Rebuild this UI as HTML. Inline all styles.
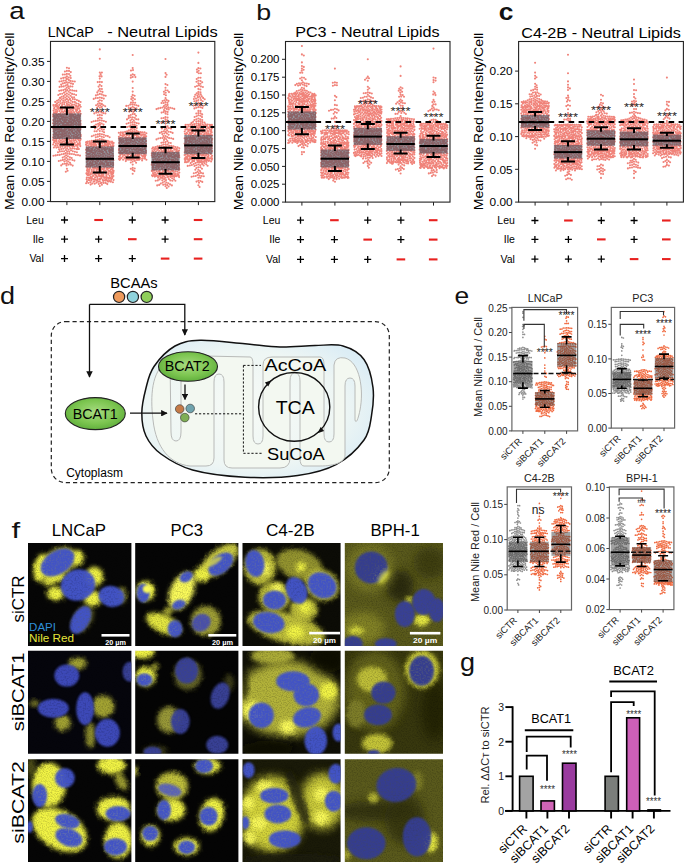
<!DOCTYPE html>
<html><head><meta charset="utf-8"><style>html,body{margin:0;padding:0;background:#fff;}svg{display:block;}</style></head>
<body><svg width="685" height="864" viewBox="0 0 685 864" font-family='"Liberation Sans", sans-serif'>
<rect width="685" height="864" fill="#fff"/>
<path d="M53.9 142.5h0M62.5 136.1h0M67.6 111.9h0M71.0 121.3h0M72.1 142.2h0M80.6 127.7h0M53.8 125.7h0M73.5 139.4h0M73.1 114.8h0M63.4 141.3h0M66.2 129.5h0M68.7 124.1h0M69.0 127.8h0M57.4 121.1h0M59.9 114.6h0M56.9 105.3h0M70.5 134.0h0M54.6 118.4h0M75.2 116.4h0M74.2 133.7h0M80.3 146.1h0M74.4 104.5h0M62.3 133.4h0M73.8 132.8h0M58.1 108.0h0M65.7 121.2h0M73.0 126.0h0M70.7 113.1h0M59.8 144.9h0M60.5 115.9h0M77.3 130.2h0M68.1 142.3h0M62.0 117.9h0M78.2 106.3h0M70.3 137.3h0M70.5 119.2h0M65.9 133.4h0M71.0 114.5h0M60.6 115.3h0M55.3 136.8h0M68.9 110.7h0M71.6 118.1h0M62.6 117.0h0M64.6 111.1h0M73.5 127.9h0M55.8 113.7h0M69.3 108.6h0M56.6 141.8h0M67.0 109.8h0M57.3 129.3h0M69.8 125.7h0M65.5 139.9h0M69.3 116.3h0M64.5 133.7h0M58.1 108.9h0M59.2 134.4h0M61.3 122.2h0M58.8 129.1h0M53.2 120.0h0M75.3 137.8h0M55.1 138.5h0M62.7 114.2h0M58.7 114.0h0M69.1 121.9h0M76.9 106.8h0M53.1 137.4h0M75.7 109.8h0M80.7 139.0h0M55.5 104.9h0M64.9 119.5h0M53.3 120.2h0M68.9 104.7h0M56.9 112.5h0M74.1 112.4h0M67.9 143.9h0M63.7 130.4h0M61.6 142.6h0M57.4 137.9h0M60.3 137.0h0M56.1 109.5h0M55.5 140.8h0M65.5 133.5h0M70.8 125.1h0M76.1 109.8h0M62.2 104.9h0M80.0 115.9h0M75.6 137.1h0M67.2 122.9h0M79.1 116.0h0M80.0 144.0h0M71.3 117.1h0M72.3 130.4h0M75.1 121.0h0M67.5 117.5h0M55.1 117.6h0M54.7 123.8h0M55.1 122.5h0M66.6 137.7h0M64.8 125.0h0M66.6 140.8h0M68.8 125.6h0M71.3 123.2h0M60.6 113.1h0M66.2 129.4h0M57.3 145.4h0M80.5 123.6h0M61.9 137.4h0M53.2 114.5h0M64.8 129.6h0M70.3 129.9h0M71.0 107.3h0M77.5 129.4h0M58.1 131.3h0M53.6 131.3h0M65.3 125.6h0M54.4 142.2h0M61.4 122.8h0M80.7 106.8h0M78.6 122.1h0M59.0 114.4h0M69.6 105.7h0M77.1 110.2h0M70.9 114.4h0M79.8 111.4h0M57.5 111.1h0M66.9 135.3h0M63.6 125.6h0M75.5 131.5h0M62.5 135.0h0M64.1 121.7h0M56.5 132.6h0M66.9 119.7h0M60.1 121.3h0M76.6 141.7h0M71.2 127.3h0M61.2 129.5h0M70.9 116.0h0M61.6 142.4h0M59.3 139.0h0M78.1 124.3h0M57.7 128.9h0M62.4 117.7h0M54.3 132.0h0M68.8 137.8h0M65.4 106.3h0M64.9 135.8h0M66.7 139.9h0M58.2 134.2h0M63.6 131.7h0M64.0 136.6h0M67.8 123.2h0M76.0 106.1h0M69.8 140.8h0M80.3 128.4h0M64.0 117.6h0M60.7 108.3h0M57.0 103.4h0M56.6 140.1h0M63.6 123.2h0M78.6 108.5h0M74.6 143.9h0M77.5 121.0h0M64.7 138.8h0M67.1 113.3h0M57.2 106.1h0M53.1 123.2h0M71.7 145.8h0M77.8 143.5h0M71.8 128.4h0M70.9 109.9h0M77.6 136.1h0M79.3 117.6h0M61.4 128.9h0M80.7 134.9h0M73.1 116.1h0M80.1 133.0h0M68.7 130.3h0M55.2 113.4h0M62.7 125.0h0M69.8 112.6h0M73.9 124.1h0M62.7 139.4h0M74.8 127.2h0M79.2 108.8h0M71.1 122.0h0M59.3 104.9h0M72.8 146.2h0M64.8 131.6h0M69.8 113.3h0M73.6 116.8h0M70.7 122.2h0M76.7 117.8h0M73.5 108.7h0M58.6 116.9h0M76.1 122.8h0M69.3 122.1h0M65.9 117.7h0M59.2 132.3h0M63.8 117.5h0M62.8 119.9h0M54.0 112.6h0M68.9 125.6h0M76.4 145.0h0M57.5 123.2h0M61.6 109.5h0M79.5 118.8h0M57.6 118.7h0M59.9 129.5h0M60.2 130.9h0M70.0 115.4h0M74.7 142.9h0M67.1 109.1h0M67.3 108.7h0M80.0 105.0h0M71.7 140.4h0M70.0 141.3h0M74.7 107.9h0M55.6 129.0h0M63.1 134.6h0M66.1 129.8h0M74.3 118.0h0M66.5 139.3h0M58.1 125.3h0M77.3 117.9h0M66.5 115.4h0M72.8 145.7h0M56.3 111.5h0M54.7 127.6h0M64.5 127.5h0M65.2 122.1h0M60.4 134.2h0M79.0 108.2h0M73.6 137.1h0M66.8 123.0h0M56.0 139.0h0M77.3 119.8h0M54.5 107.6h0M54.1 108.4h0M80.2 140.4h0M78.9 119.5h0M58.8 108.0h0M77.1 137.6h0M53.2 128.4h0M77.1 115.7h0M78.4 114.6h0M56.6 126.9h0M59.7 118.9h0M63.1 117.6h0M78.8 131.1h0M75.1 118.3h0M70.3 121.5h0M53.2 116.4h0M78.9 124.3h0M71.7 131.8h0M59.4 127.6h0M58.2 106.7h0M59.6 138.2h0M75.7 139.9h0M76.0 145.7h0M55.6 109.7h0M66.9 103.9h0M58.3 136.1h0M53.5 134.8h0M76.7 137.7h0M64.6 120.5h0M54.2 125.4h0M59.6 111.1h0M77.4 137.2h0M72.6 108.6h0M76.7 126.3h0M76.2 111.6h0M66.3 111.9h0M67.7 107.2h0M67.0 124.9h0M72.8 120.1h0M73.2 122.2h0M77.0 138.1h0M67.3 124.7h0M73.2 106.5h0M60.5 107.3h0M70.4 145.3h0M55.8 117.8h0M69.5 132.2h0M60.9 140.4h0M79.5 140.2h0M55.2 112.2h0M71.6 105.1h0M59.6 123.9h0M61.6 129.8h0M67.2 124.4h0M72.9 110.7h0M75.1 114.2h0M64.5 143.5h0M57.5 137.1h0M60.2 109.1h0M66.2 125.1h0M61.7 118.0h0M71.9 112.9h0M60.8 119.0h0M60.5 114.8h0M57.7 122.8h0M55.0 136.4h0M73.3 138.2h0M78.4 103.7h0M55.1 145.8h0M62.1 116.6h0M65.5 108.5h0M80.7 136.3h0M79.7 144.1h0M53.7 129.1h0M76.5 132.1h0M78.8 126.4h0M64.6 127.9h0M62.0 105.9h0M58.9 141.1h0M75.7 105.8h0M71.2 144.2h0M55.9 106.0h0M79.3 131.9h0M56.8 115.1h0M67.3 146.1h0M67.0 127.1h0M71.0 117.2h0M77.2 119.3h0M79.1 111.7h0M78.1 139.6h0M56.4 129.0h0M72.5 119.9h0M63.8 145.0h0M64.7 110.4h0M78.0 128.4h0M69.0 135.7h0M80.3 136.7h0M75.1 118.3h0M70.3 144.2h0M71.8 135.7h0M77.3 133.2h0M61.4 135.1h0M73.0 114.9h0M80.5 120.8h0M62.2 107.5h0M63.5 116.2h0M68.4 133.6h0M76.6 132.3h0M74.0 140.9h0M73.9 135.8h0M77.0 120.3h0M71.4 114.9h0M74.0 133.5h0M61.4 131.5h0M79.8 111.8h0M79.3 105.2h0M60.0 142.6h0M72.0 143.1h0M80.7 113.7h0M80.5 125.0h0M75.9 128.0h0M74.6 119.1h0M65.0 113.7h0M72.7 143.2h0M53.4 105.0h0M67.2 105.2h0M68.8 128.4h0M60.9 126.1h0M56.0 134.5h0M56.0 121.1h0M68.7 137.4h0M62.5 123.3h0M63.7 107.5h0M71.0 124.5h0M80.0 110.8h0M54.8 138.5h0M77.4 108.4h0M54.3 140.9h0M76.1 137.1h0M57.2 115.4h0M56.1 133.3h0M71.3 141.1h0M79.7 142.5h0M63.3 112.2h0M76.9 145.4h0M55.9 143.8h0M53.6 105.7h0M67.8 112.7h0M63.1 130.3h0M78.9 138.0h0M67.2 109.1h0M56.0 112.5h0M74.3 117.6h0M76.2 123.5h0M55.9 123.7h0M64.3 104.3h0M72.7 123.8h0M65.4 142.6h0M70.2 143.0h0M68.8 120.7h0M57.0 114.8h0M55.3 119.3h0M64.6 114.4h0M54.7 133.6h0M55.7 130.3h0M76.0 134.8h0M79.9 130.3h0M78.7 134.8h0M53.6 110.5h0M53.2 139.9h0M67.7 137.3h0M61.3 115.6h0M80.4 129.2h0M63.3 131.6h0M72.3 104.5h0M65.2 107.9h0M62.4 136.8h0M69.0 139.6h0M71.1 125.1h0M74.2 121.6h0M72.2 131.4h0M73.6 120.9h0M65.5 117.2h0M80.2 111.3h0M65.8 135.8h0M69.3 118.6h0M74.0 143.7h0M58.1 143.4h0M71.4 143.8h0M63.9 141.2h0M77.4 112.7h0M78.2 130.3h0M54.8 125.1h0M62.2 126.9h0M59.1 137.3h0M66.3 144.2h0M71.0 138.4h0M62.3 109.5h0M67.1 131.7h0M68.1 128.2h0M56.9 134.9h0M69.7 114.5h0M78.9 116.1h0M74.4 129.8h0M75.7 124.5h0M66.3 129.3h0M79.7 121.7h0M57.8 120.8h0M58.4 121.5h0M57.3 107.6h0M76.2 105.5h0M66.4 144.0h0M64.5 129.9h0M61.8 144.5h0M55.4 130.2h0M71.1 111.8h0M56.4 117.1h0M61.0 121.9h0M62.4 142.5h0M61.9 111.5h0M59.7 120.0h0M73.1 133.2h0M66.8 112.6h0M53.2 144.5h0M70.5 138.2h0M78.7 112.4h0M63.8 144.2h0M78.9 140.5h0M65.2 124.7h0M54.8 115.8h0M53.9 121.0h0M78.6 144.6h0M62.7 134.4h0M70.7 116.0h0M76.1 95.0h0M70.0 98.9h0M76.3 103.3h0M72.0 97.2h0M64.9 74.5h0M64.7 102.3h0M65.2 89.3h0M70.4 75.7h0M61.1 84.6h0M61.6 96.8h0M68.2 86.3h0M63.2 100.7h0M76.3 90.9h0M68.7 97.2h0M68.7 77.5h0M63.2 77.9h0M66.9 82.3h0M74.1 94.3h0M70.6 80.9h0M69.0 70.9h0M68.8 94.5h0M63.3 90.1h0M58.7 99.7h0M78.8 100.9h0M73.0 83.9h0M80.6 102.0h0M66.7 87.8h0M57.0 100.8h0M65.7 85.6h0M69.0 82.6h0M66.9 73.9h0M72.1 93.9h0M60.1 94.0h0M62.2 93.7h0M67.4 84.4h0M72.7 81.3h0M70.9 100.8h0M70.6 95.7h0M58.6 102.2h0M59.9 97.9h0M62.9 83.4h0M69.0 74.1h0M66.9 70.9h0M72.7 101.9h0M66.9 93.6h0M65.2 77.6h0M59.2 90.7h0M58.3 95.0h0M74.8 81.5h0M70.8 78.0h0M76.9 100.1h0M72.2 90.4h0M65.2 100.0h0M74.9 99.2h0M67.2 90.0h0M65.3 97.5h0M65.7 80.6h0M65.1 94.6h0M61.5 99.2h0M59.6 86.9h0M74.1 97.2h0M74.8 101.9h0M69.0 68.2h0M72.8 99.1h0M68.4 100.4h0M65.7 91.4h0M60.6 103.3h0M61.6 81.2h0M66.7 101.7h0M68.7 102.5h0M70.8 72.1h0M61.2 90.4h0M62.8 74.6h0M66.9 76.4h0M71.0 83.4h0M62.6 102.7h0M72.4 86.5h0M55.2 101.9h0M70.6 103.2h0M66.9 78.9h0M63.6 96.1h0M64.9 82.9h0M70.1 90.0h0M59.5 81.5h0M61.7 86.6h0M64.9 71.5h0M68.6 91.6h0M61.1 78.5h0M68.8 79.9h0M68.9 88.3h0M74.2 90.7h0M70.3 92.8h0M70.3 86.4h0M66.9 98.9h0M64.0 92.6h0M63.7 86.4h0M66.9 96.1h0M63.4 98.4h0M60.4 101.0h0M63.6 80.6h0M66.5 165.4h0M62.8 164.1h0M60.8 160.5h0M71.7 158.0h0M58.3 147.2h0M72.7 165.6h0M78.0 155.1h0M72.4 160.0h0M67.1 148.3h0M68.3 161.5h0M63.3 148.8h0M66.9 168.7h0M74.4 160.6h0M67.9 156.3h0M67.8 159.2h0M71.0 150.3h0M53.5 155.7h0M65.1 147.7h0M64.1 151.2h0M72.8 151.3h0M77.9 149.1h0M69.8 153.9h0M77.7 147.3h0M62.5 146.6h0M76.9 152.3h0M67.6 170.7h0M58.8 161.0h0M61.7 154.2h0M68.6 149.7h0M70.3 148.3h0M63.8 153.9h0M64.8 159.2h0M64.9 163.8h0M59.7 154.9h0M70.9 164.6h0M66.9 163.4h0M68.7 164.6h0M58.0 152.2h0M75.9 155.0h0M61.2 149.0h0M62.7 157.5h0M60.4 146.9h0M57.6 155.0h0M76.5 149.1h0M66.1 155.2h0M59.1 149.4h0M74.0 146.2h0M71.9 154.0h0M74.0 154.2h0M64.5 156.6h0M72.4 148.4h0M80.0 155.6h0M67.2 151.6h0M56.3 147.6h0M67.7 153.8h0M69.9 159.5h0M74.9 151.7h0M66.4 160.7h0M70.0 162.7h0M69.3 146.4h0M65.9 150.0h0M62.0 151.3h0M66.3 157.7h0M55.6 155.4h0M69.8 157.2h0M53.9 147.5h0M59.9 151.4h0M78.9 149.0h0M64.4 161.5h0M62.8 159.9h0M69.3 151.7h0M61.2 165.4h0M74.5 148.6h0M65.3 146.5h0M65.7 153.1h0M66.9 67.8h0M65.8 171.8h0" stroke="#f0837a" stroke-width="2.10" stroke-linecap="round" fill="none"/>
<rect x="52.8" y="113.4" width="28.3" height="25.6" fill="rgba(62,74,88,0.56)"/>
<path d="M66.9 107.4V114.9M66.9 144.6V137.5M59.9 107.4h14M59.9 144.6h14" stroke="#000" stroke-width="2.0" fill="none"/>
<path d="M52.8 127.0h28.3" stroke="#000" stroke-width="2.0" fill="none"/>
<path d="M89.1 175.0h0M111.8 176.3h0M101.6 168.9h0M111.8 172.0h0M96.1 142.5h0M113.0 160.2h0M113.4 146.0h0M109.0 159.3h0M106.2 172.7h0M108.1 146.4h0M101.7 146.1h0M97.0 176.4h0M88.8 150.7h0M112.4 158.7h0M108.3 174.2h0M97.5 167.9h0M91.0 152.0h0M101.6 173.9h0M109.5 157.1h0M103.4 160.1h0M97.1 160.2h0M111.2 174.1h0M103.3 148.4h0M91.2 159.8h0M89.9 153.8h0M107.6 156.3h0M101.7 168.6h0M106.3 151.9h0M113.0 165.5h0M107.0 144.5h0M89.6 163.1h0M106.1 173.6h0M112.7 162.8h0M108.7 165.6h0M108.4 143.3h0M111.7 169.1h0M102.8 145.8h0M91.4 180.4h0M113.4 176.0h0M110.7 169.6h0M103.0 151.8h0M88.2 157.3h0M94.1 164.7h0M107.0 164.9h0M95.7 147.7h0M110.8 172.7h0M105.8 149.9h0M86.3 166.5h0M104.5 153.7h0M91.3 148.7h0M111.0 164.2h0M113.1 173.6h0M101.1 171.8h0M87.3 171.5h0M86.8 177.6h0M102.6 164.3h0M111.1 155.6h0M96.7 165.9h0M98.6 143.1h0M108.7 143.8h0M111.9 150.3h0M94.9 149.7h0M87.4 168.9h0M112.7 151.1h0M86.6 179.3h0M109.2 180.6h0M106.4 178.7h0M107.9 168.7h0M95.3 152.3h0M105.1 180.1h0M90.5 166.1h0M105.0 157.6h0M93.1 147.5h0M104.3 158.9h0M88.0 171.6h0M109.0 177.9h0M92.9 161.1h0M112.7 149.1h0M111.9 148.1h0M99.0 156.6h0M88.3 174.2h0M111.6 178.4h0M95.5 179.5h0M105.6 170.6h0M102.9 160.0h0M106.4 175.4h0M103.1 156.6h0M102.8 168.8h0M109.3 149.8h0M113.4 160.2h0M89.5 150.7h0M101.2 171.1h0M86.5 158.6h0M99.7 145.9h0M103.5 180.7h0M104.9 144.1h0M94.4 157.7h0M109.9 141.5h0M89.3 170.0h0M105.3 161.8h0M87.8 154.0h0M86.7 157.6h0M88.5 156.6h0M98.6 146.8h0M103.5 174.9h0M102.7 152.7h0M104.0 163.6h0M94.1 144.9h0M93.7 143.5h0M91.4 163.6h0M100.8 167.1h0M113.0 145.4h0M109.2 143.7h0M90.0 150.5h0M88.5 145.2h0M112.4 143.5h0M86.8 162.0h0M94.9 167.0h0M94.0 179.1h0M96.0 163.9h0M111.8 172.7h0M95.4 152.4h0M90.2 156.9h0M105.3 143.9h0M112.7 153.8h0M91.6 171.4h0M88.4 166.4h0M106.0 161.4h0M87.2 159.9h0M100.3 143.8h0M103.1 156.1h0M96.9 168.4h0M93.8 170.4h0M97.9 158.4h0M89.2 178.0h0M99.8 163.1h0M100.8 145.6h0M96.0 144.7h0M103.4 159.0h0M105.2 159.6h0M104.3 168.1h0M94.3 157.9h0M113.2 163.1h0M96.7 155.4h0M93.6 143.3h0M87.0 151.2h0M109.6 175.9h0M98.5 174.5h0M107.3 153.8h0M107.0 142.4h0M88.4 157.5h0M96.3 147.9h0M86.9 170.3h0M89.0 171.7h0M86.4 142.1h0M101.0 146.3h0M101.8 163.4h0M109.4 148.8h0M95.8 155.7h0M104.9 150.2h0M112.3 157.9h0M94.7 154.1h0M93.5 143.7h0M107.9 164.2h0M91.0 151.9h0M91.0 143.0h0M102.8 179.8h0M100.9 171.3h0M111.0 167.1h0M107.7 158.4h0M101.3 163.2h0M89.9 143.7h0M87.0 173.8h0M87.6 169.2h0M112.2 178.3h0M112.2 174.3h0M101.3 157.6h0M111.2 179.3h0M99.5 143.7h0M91.5 151.0h0M108.9 178.0h0M86.0 149.8h0M102.7 176.5h0M97.0 160.7h0M112.1 172.8h0M90.4 174.5h0M91.2 160.1h0M112.2 146.0h0M97.4 178.0h0M92.4 173.1h0M90.3 162.0h0M98.4 143.2h0M99.3 166.9h0M107.5 146.6h0M98.7 159.7h0M107.2 163.3h0M109.1 150.9h0M112.6 173.6h0M88.7 160.3h0M88.6 180.0h0M110.9 160.4h0M112.0 141.6h0M108.7 178.6h0M105.0 177.4h0M89.9 158.5h0M90.8 144.1h0M99.9 159.1h0M99.2 142.9h0M94.1 168.7h0M97.3 141.7h0M97.4 172.9h0M87.8 150.5h0M93.2 168.0h0M101.2 148.0h0M113.5 180.0h0M98.1 168.9h0M94.3 144.4h0M94.2 150.5h0M92.8 162.0h0M103.3 166.3h0M94.9 143.6h0M92.6 173.6h0M108.5 173.8h0M99.5 178.9h0M92.2 154.6h0M110.4 144.8h0M103.3 176.2h0M99.9 150.9h0M96.7 150.7h0M99.6 173.2h0M107.0 160.6h0M92.1 158.5h0M93.3 179.2h0M102.4 143.6h0M101.6 176.1h0M102.0 175.4h0M99.8 153.3h0M87.5 161.4h0M101.9 150.0h0M86.4 155.6h0M106.2 177.6h0M95.8 163.3h0M95.3 142.2h0M112.3 169.1h0M94.9 174.1h0M104.5 145.9h0M104.2 178.0h0M100.4 165.1h0M87.6 141.6h0M101.8 147.0h0M92.8 176.1h0M110.1 177.9h0M106.5 162.1h0M102.8 154.0h0M92.1 149.0h0M86.4 173.4h0M104.5 164.4h0M107.1 163.3h0M103.1 169.2h0M88.8 154.2h0M112.9 159.8h0M92.7 164.8h0M89.5 150.6h0M91.7 169.5h0M94.4 157.3h0M92.1 150.1h0M113.0 167.8h0M97.7 180.1h0M94.5 181.3h0M110.1 149.8h0M99.3 148.9h0M93.3 152.9h0M105.4 180.4h0M108.8 171.1h0M98.4 143.4h0M88.5 159.1h0M107.9 164.2h0M93.1 142.5h0M111.5 142.7h0M88.6 171.4h0M109.8 152.5h0M107.3 148.7h0M89.0 147.3h0M95.6 144.9h0M98.6 151.3h0M91.0 178.7h0M107.2 169.2h0M108.6 173.4h0M113.1 155.9h0M96.1 159.6h0M91.4 142.5h0M94.3 171.9h0M100.4 176.4h0M89.3 180.2h0M90.4 173.4h0M108.1 145.6h0M92.5 156.8h0M88.7 171.5h0M106.9 158.3h0M105.6 155.5h0M90.0 168.1h0M96.8 180.6h0M97.7 153.3h0M97.7 158.2h0M91.9 178.1h0M98.1 161.3h0M93.5 175.6h0M113.2 164.9h0M101.5 152.0h0M101.0 157.2h0M106.6 168.2h0M88.6 150.8h0M109.8 171.3h0M98.8 155.3h0M103.8 169.7h0M93.7 156.1h0M90.5 158.4h0M88.0 157.3h0M101.4 147.6h0M88.5 148.9h0M104.2 142.2h0M106.8 172.4h0M109.5 142.0h0M109.2 154.6h0M99.8 175.5h0M99.8 181.3h0M103.8 171.8h0M92.4 163.3h0M90.5 155.9h0M91.6 145.9h0M86.9 147.9h0M86.0 144.6h0M110.6 146.5h0M110.3 146.6h0M101.0 142.1h0M89.6 151.4h0M96.0 175.3h0M94.3 158.4h0M92.0 163.5h0M88.5 154.1h0M112.5 169.9h0M94.5 144.4h0M96.6 170.1h0M113.0 163.1h0M90.8 174.5h0M99.9 144.6h0M103.3 145.5h0M109.3 143.4h0M103.4 172.7h0M109.1 168.0h0M105.6 144.9h0M93.9 146.2h0M90.8 176.8h0M108.5 162.8h0M106.3 179.2h0M87.0 148.2h0M105.4 147.8h0M94.9 143.8h0M104.1 148.9h0M87.2 164.5h0M105.4 166.3h0M100.9 155.1h0M89.6 164.5h0M89.8 143.0h0M110.6 162.8h0M96.9 163.1h0M86.1 142.4h0M96.5 171.0h0M87.4 168.3h0M89.8 178.3h0M98.6 144.3h0M109.6 160.5h0M102.2 163.6h0M96.3 145.7h0M106.2 144.9h0M96.7 173.1h0M113.1 176.4h0M90.7 146.2h0M112.1 143.1h0M108.9 159.7h0M92.0 152.3h0M102.8 180.6h0M95.1 161.8h0M101.4 178.2h0M99.0 176.1h0M100.1 179.2h0M93.5 160.0h0M109.2 158.4h0M104.4 164.2h0M86.2 152.8h0M91.0 178.1h0M113.4 172.1h0M87.6 174.3h0M100.7 161.1h0M111.9 149.8h0M86.9 174.3h0M113.4 145.4h0M92.9 167.4h0M88.2 173.5h0M98.6 171.2h0M110.0 150.7h0M111.0 181.1h0M107.4 164.3h0M103.4 169.8h0M93.4 160.1h0M109.5 165.6h0M88.8 177.7h0M87.6 175.3h0M113.6 142.9h0M103.0 158.9h0M92.0 144.6h0M87.6 143.2h0M110.3 157.3h0M92.3 144.8h0M98.4 164.6h0M99.8 169.5h0M97.8 148.9h0M95.8 168.3h0M108.5 170.8h0M102.4 162.3h0M92.0 165.2h0M87.7 143.1h0M96.0 145.4h0M111.1 152.5h0M86.6 145.6h0M91.9 171.3h0M113.6 170.9h0M107.1 167.6h0M97.1 157.5h0M107.0 180.4h0M107.1 177.4h0M108.9 171.3h0M88.9 177.5h0M88.1 171.3h0M95.1 177.3h0M89.1 169.5h0M87.7 164.0h0M87.7 159.6h0M86.5 149.2h0M101.8 129.1h0M96.1 124.5h0M101.9 89.0h0M93.8 140.7h0M99.8 117.5h0M97.8 136.7h0M107.9 140.9h0M98.6 86.6h0M99.8 107.7h0M99.8 120.3h0M95.9 95.4h0M100.6 74.4h0M105.4 113.4h0M97.8 120.8h0M101.9 141.4h0M99.5 76.2h0M103.8 98.6h0M103.8 137.2h0M93.6 121.3h0M102.4 131.2h0M101.6 76.4h0M95.0 128.5h0M105.8 135.7h0M99.8 84.8h0M99.8 128.5h0M91.8 136.2h0M99.8 139.0h0M103.9 134.8h0M91.6 122.0h0M99.8 131.0h0M101.8 106.9h0M101.5 86.1h0M93.7 135.5h0M95.7 139.9h0M99.8 100.2h0M97.1 107.9h0M99.8 88.9h0M101.8 136.7h0M103.4 105.2h0M98.0 129.5h0M99.8 133.9h0M100.0 124.8h0M100.5 91.2h0M97.8 94.7h0M97.3 92.4h0M94.6 131.2h0M103.9 121.0h0M101.9 134.3h0M104.1 132.3h0M102.5 91.9h0M95.8 137.2h0M99.8 81.9h0M99.8 72.5h0M105.9 121.7h0M101.4 112.4h0M101.9 72.5h0M99.8 103.4h0M99.8 97.5h0M98.3 101.6h0M101.9 139.2h0M97.8 98.0h0M96.1 105.2h0M103.0 126.8h0M97.8 139.7h0M98.4 126.1h0M101.9 115.2h0M94.4 125.7h0M94.3 113.4h0M98.1 123.9h0M100.3 105.5h0M99.8 78.6h0M91.7 140.8h0M99.8 111.0h0M103.7 95.4h0M105.8 140.5h0M101.9 120.6h0M105.7 95.8h0M105.2 106.3h0M103.5 124.6h0M100.9 126.7h0M103.8 140.1h0M101.7 118.3h0M101.8 94.4h0M99.8 93.9h0M97.8 104.0h0M98.0 118.6h0M96.7 131.2h0M103.9 129.5h0M97.8 134.4h0M105.0 127.3h0M99.8 141.2h0M95.7 120.9h0M95.7 98.1h0M96.6 127.2h0M98.5 90.6h0M99.8 114.9h0M101.8 97.9h0M99.8 58.7h0M109.6 137.2h0M101.7 123.5h0M95.7 134.7h0M99.8 136.0h0M101.8 103.9h0M89.6 141.2h0M96.3 112.6h0M97.7 82.1h0M99.8 122.7h0M98.3 106.1h0M107.8 136.1h0M101.8 100.7h0M93.7 98.9h0M103.3 113.1h0M101.9 82.1h0M97.7 115.3h0M98.4 112.5h0M108.7 181.4h0M107.3 184.1h0M112.9 182.3h0M92.3 183.5h0M96.5 182.7h0M93.6 181.8h0M101.4 182.7h0M101.9 184.8h0M86.1 183.3h0M98.3 181.7h0M103.5 182.9h0M90.6 184.6h0M107.8 181.5h0M87.0 181.4h0M98.8 184.0h0M100.7 183.1h0M94.7 183.7h0M90.4 182.2h0M88.4 183.0h0M110.8 181.8h0M98.4 181.7h0M105.6 182.9h0M99.8 49.4h0M99.8 186.0h0" stroke="#f0837a" stroke-width="2.10" stroke-linecap="round" fill="none"/>
<rect x="85.7" y="146.4" width="28.3" height="21.2" fill="rgba(62,74,88,0.56)"/>
<path d="M99.8 141.6V147.9M99.8 172.4V166.1M92.8 141.6h14M92.8 172.4h14" stroke="#000" stroke-width="2.0" fill="none"/>
<path d="M85.7 158.8h28.3" stroke="#000" stroke-width="2.0" fill="none"/>
<text x="99.8" y="116.2" font-size="11" text-anchor="middle" textLength="20" lengthAdjust="spacingAndGlyphs" fill="#222">****</text>
<path d="M127.7 154.1h0M142.4 147.5h0M132.0 153.5h0M136.9 135.2h0M124.1 134.5h0M125.4 149.9h0M120.7 137.7h0M128.3 137.5h0M120.5 135.3h0M145.0 139.3h0M137.5 153.9h0M130.9 142.1h0M135.7 152.6h0M131.9 146.7h0M128.9 158.6h0M139.2 159.7h0M143.2 134.3h0M120.6 147.1h0M146.2 146.2h0M128.8 142.2h0M120.1 159.3h0M139.1 141.7h0M139.9 139.7h0M136.0 158.5h0M125.8 137.0h0M141.3 145.8h0M124.1 145.6h0M120.6 151.3h0M144.2 158.6h0M138.5 154.4h0M139.6 154.6h0M126.4 137.7h0M144.6 142.5h0M146.4 133.3h0M124.2 154.9h0M125.1 137.9h0M146.1 141.0h0M123.3 147.1h0M142.7 139.8h0M131.0 155.3h0M143.0 139.2h0M140.0 152.6h0M123.1 145.0h0M142.9 141.3h0M126.0 153.8h0M118.8 132.7h0M138.2 156.8h0M144.9 134.7h0M136.0 132.6h0M137.0 137.2h0M144.7 147.4h0M130.4 137.8h0M123.7 142.3h0M123.0 132.2h0M126.9 140.4h0M119.8 156.7h0M120.4 144.7h0M130.5 158.0h0M143.2 145.3h0M119.8 156.9h0M138.9 146.4h0M133.3 137.6h0M133.5 159.4h0M125.0 150.2h0M135.1 158.4h0M126.3 151.2h0M143.0 149.5h0M146.4 159.8h0M125.7 151.2h0M120.8 141.0h0M120.8 147.0h0M130.0 156.7h0M119.2 148.7h0M123.1 159.7h0M138.8 156.1h0M129.0 148.0h0M143.9 155.7h0M130.7 144.6h0M145.1 156.7h0M126.4 138.2h0M143.6 136.5h0M118.9 136.7h0M142.5 138.7h0M121.8 143.1h0M129.2 135.6h0M142.9 156.8h0M137.6 158.9h0M127.5 150.7h0M128.8 132.6h0M135.4 146.9h0M134.7 144.3h0M120.0 152.8h0M139.9 144.4h0M127.0 138.5h0M125.0 144.1h0M118.9 159.0h0M139.1 150.1h0M136.5 148.9h0M127.7 156.8h0M133.6 159.1h0M125.7 140.2h0M138.5 159.8h0M124.7 152.1h0M127.2 142.8h0M137.6 137.8h0M118.9 152.6h0M121.5 158.1h0M126.4 134.0h0M120.6 141.1h0M126.8 138.5h0M121.0 141.1h0M134.8 140.3h0M124.7 158.2h0M119.0 156.6h0M126.5 135.0h0M132.8 151.7h0M136.1 142.7h0M131.5 140.0h0M133.6 145.5h0M126.5 158.5h0M132.7 143.8h0M138.3 146.9h0M143.8 151.8h0M145.5 147.5h0M143.0 143.9h0M139.8 159.1h0M122.8 149.3h0M139.6 154.4h0M127.1 145.9h0M133.5 155.2h0M127.4 148.0h0M120.9 147.0h0M131.0 155.7h0M128.1 153.3h0M146.1 144.0h0M141.4 142.6h0M133.6 134.0h0M126.2 142.4h0M145.5 144.2h0M142.4 132.3h0M144.5 132.4h0M126.5 145.4h0M119.3 146.5h0M135.9 133.4h0M138.7 150.0h0M144.6 136.8h0M120.3 154.9h0M141.6 155.2h0M123.5 152.0h0M136.9 145.9h0M129.3 149.7h0M129.1 154.2h0M134.7 157.6h0M139.8 158.2h0M142.8 134.6h0M140.3 137.7h0M143.2 137.8h0M135.7 142.2h0M126.8 144.1h0M128.9 147.1h0M119.5 140.6h0M133.6 148.0h0M133.7 135.3h0M137.6 153.4h0M123.6 147.2h0M135.8 138.2h0M137.9 143.9h0M123.2 138.8h0M134.5 139.2h0M134.1 149.5h0M137.3 148.1h0M124.8 158.5h0M136.7 149.3h0M128.7 133.3h0M145.0 158.2h0M139.3 134.0h0M134.1 135.7h0M138.8 138.1h0M127.8 155.6h0M138.7 136.2h0M141.0 132.4h0M141.9 150.9h0M125.8 156.3h0M137.8 155.7h0M130.7 152.7h0M122.7 152.9h0M129.8 158.0h0M122.2 154.1h0M132.0 149.8h0M144.4 138.9h0M140.3 132.0h0M131.1 160.0h0M120.4 134.3h0M124.4 134.8h0M120.9 132.4h0M122.3 145.9h0M125.2 149.3h0M144.0 153.9h0M129.7 151.9h0M131.6 153.0h0M145.9 152.7h0M125.4 148.2h0M120.1 158.3h0M122.7 156.4h0M138.9 147.8h0M138.2 159.5h0M146.2 136.3h0M137.0 139.9h0M142.0 153.1h0M145.2 138.3h0M128.7 132.5h0M129.3 137.8h0M138.0 151.9h0M119.2 142.9h0M141.8 139.8h0M131.8 136.2h0M122.4 148.8h0M121.3 152.8h0M140.7 148.8h0M127.6 159.0h0M124.0 135.7h0M123.6 141.2h0M142.2 145.1h0M141.6 144.5h0M137.5 132.9h0M131.8 159.2h0M140.8 134.4h0M130.7 151.8h0M143.8 145.9h0M125.8 147.6h0M124.3 151.1h0M135.7 149.5h0M127.8 144.0h0M137.0 151.3h0M126.4 153.8h0M137.0 160.0h0M146.0 150.9h0M134.9 145.4h0M136.6 158.7h0M130.5 158.8h0M127.0 135.2h0M119.7 160.0h0M132.7 157.6h0M140.9 150.2h0M123.7 141.0h0M123.0 141.3h0M140.2 144.5h0M126.6 148.2h0M145.0 149.0h0M119.2 159.0h0M141.4 139.7h0M141.2 135.7h0M125.1 131.9h0M134.8 152.3h0M121.2 147.4h0M132.2 152.9h0M128.7 139.8h0M126.2 139.6h0M145.7 155.1h0M135.6 154.1h0M130.7 134.1h0M129.1 143.3h0M135.4 155.3h0M135.2 150.0h0M130.8 148.0h0M130.1 140.1h0M122.5 136.7h0M136.9 137.2h0M138.4 156.8h0M137.1 157.9h0M133.7 141.7h0M121.3 140.3h0M140.2 157.7h0M124.5 145.5h0M138.0 137.1h0M118.9 138.8h0M136.6 135.7h0M135.1 144.7h0M121.6 147.3h0M141.0 142.5h0M137.0 140.0h0M133.0 153.1h0M119.5 139.1h0M118.9 149.9h0M138.2 131.9h0M139.0 153.0h0M139.3 138.1h0M122.5 135.6h0M139.0 138.1h0M120.1 141.7h0M134.6 135.2h0M142.1 158.8h0M122.2 149.9h0M128.0 132.6h0M130.2 145.4h0M141.0 150.2h0M135.7 153.2h0M126.6 151.8h0M129.0 159.7h0M137.6 140.2h0M127.5 159.4h0M131.1 139.0h0M126.3 159.1h0M142.3 156.1h0M137.4 147.8h0M124.5 157.9h0M138.0 158.9h0M132.1 132.5h0M122.8 133.4h0M132.9 141.5h0M121.5 139.9h0M137.1 156.1h0M136.6 130.6h0M126.6 123.8h0M132.7 114.1h0M134.9 99.2h0M136.0 115.8h0M138.3 119.4h0M134.7 129.6h0M129.2 126.6h0M130.6 117.2h0M136.7 123.1h0M132.7 117.2h0M128.8 108.0h0M128.6 123.1h0M130.8 77.8h0M133.3 111.9h0M130.9 75.4h0M130.7 115.0h0M134.7 110.0h0M133.0 70.1h0M136.2 119.2h0M131.0 102.6h0M133.1 98.1h0M132.7 124.3h0M131.9 119.2h0M127.0 119.4h0M136.8 128.0h0M132.6 122.0h0M134.7 122.4h0M131.6 96.7h0M132.7 74.2h0M130.6 131.6h0M132.7 106.7h0M126.3 105.9h0M130.7 122.8h0M132.7 94.9h0M128.7 118.1h0M130.9 129.5h0M128.9 130.2h0M132.3 104.5h0M134.5 75.1h0M131.3 111.1h0M135.4 77.1h0M134.7 124.9h0M130.7 125.2h0M132.7 91.6h0M130.4 120.6h0M130.2 104.6h0M132.7 109.5h0M134.7 117.8h0M133.1 102.6h0M134.4 104.8h0M131.0 70.6h0M132.7 88.0h0M135.2 102.7h0M133.8 120.2h0M134.4 107.8h0M138.7 123.5h0M132.7 81.6h0M138.4 105.9h0M133.0 126.4h0M134.6 95.7h0M131.2 99.0h0M132.7 76.9h0M132.7 68.0h0M134.7 114.1h0M131.2 127.4h0M134.8 127.5h0M127.1 131.2h0M127.1 127.0h0M132.7 100.5h0M134.6 131.8h0M128.8 115.9h0M136.4 105.2h0M136.6 125.8h0M130.9 107.9h0M128.4 105.7h0M129.3 111.6h0M132.7 131.1h0M136.5 108.2h0M132.8 128.7h0M142.1 160.5h0M130.8 168.8h0M134.7 168.5h0M132.7 169.9h0M134.9 160.9h0M130.8 162.5h0M132.7 161.6h0M136.1 162.7h0M125.8 161.1h0M132.7 164.6h0M132.7 167.8h0M134.4 171.1h0M132.7 55.0h0M132.7 173.8h0" stroke="#f0837a" stroke-width="2.10" stroke-linecap="round" fill="none"/>
<rect x="118.5" y="137.4" width="28.3" height="16.8" fill="rgba(62,74,88,0.56)"/>
<path d="M132.7 133.6V138.9M132.7 157.4V152.7M125.7 133.6h14M125.7 157.4h14" stroke="#000" stroke-width="2.0" fill="none"/>
<path d="M118.5 146.0h28.3" stroke="#000" stroke-width="2.0" fill="none"/>
<text x="132.7" y="115.6" font-size="11" text-anchor="middle" textLength="20" lengthAdjust="spacingAndGlyphs" fill="#222">****</text>
<path d="M157.1 148.6h0M164.0 155.7h0M177.0 156.0h0M163.3 163.9h0M156.9 163.4h0M176.4 167.6h0M175.0 149.4h0M157.3 166.4h0M154.8 169.9h0M167.7 152.6h0M165.6 162.2h0M158.6 164.2h0M161.0 149.4h0M175.1 175.4h0M175.6 174.6h0M162.9 160.6h0M163.0 176.2h0M163.6 150.4h0M163.2 148.2h0M168.8 168.8h0M152.4 151.0h0M170.8 163.4h0M164.2 160.7h0M159.2 164.4h0M176.9 150.1h0M167.1 167.6h0M168.5 149.4h0M178.8 167.2h0M171.0 169.8h0M155.5 147.1h0M154.0 174.6h0M168.5 173.2h0M157.3 159.0h0M176.8 148.8h0M161.8 151.4h0M165.5 155.8h0M170.5 176.9h0M173.5 175.4h0M155.1 153.3h0M178.4 153.3h0M162.0 147.6h0M158.2 166.5h0M158.6 160.6h0M161.6 169.0h0M174.4 174.6h0M164.8 156.4h0M168.0 156.3h0M170.9 175.4h0M165.0 160.0h0M170.6 151.5h0M159.8 154.2h0M158.6 168.1h0M174.2 177.1h0M173.1 170.2h0M153.0 173.1h0M177.1 165.9h0M155.5 162.9h0M166.4 163.1h0M159.9 172.9h0M174.6 167.2h0M173.3 170.5h0M155.9 151.5h0M151.8 153.2h0M165.0 148.9h0M165.1 165.3h0M174.2 152.9h0M175.3 171.5h0M159.4 166.7h0M152.8 165.7h0M162.1 168.4h0M172.5 171.2h0M154.1 149.5h0M172.9 163.8h0M174.8 155.8h0M168.5 170.9h0M160.5 156.2h0M175.9 156.3h0M157.3 149.9h0M162.2 169.2h0M173.7 148.6h0M164.0 151.5h0M162.3 172.7h0M179.1 165.1h0M162.5 165.9h0M175.4 147.1h0M172.9 156.8h0M173.8 173.0h0M157.7 162.5h0M162.5 154.2h0M157.8 175.7h0M165.3 155.0h0M158.5 156.9h0M155.0 154.5h0M166.0 172.7h0M165.5 148.5h0M174.8 165.6h0M179.3 157.2h0M159.7 170.0h0M152.6 176.3h0M163.3 175.7h0M172.9 160.0h0M176.3 150.0h0M175.1 156.8h0M173.4 175.9h0M164.2 176.8h0M153.5 147.5h0M172.1 164.5h0M166.5 150.4h0M165.3 154.4h0M157.3 155.1h0M164.0 152.0h0M174.0 166.0h0M172.3 168.1h0M154.5 175.8h0M152.8 147.6h0M166.9 174.7h0M172.7 151.0h0M160.6 175.1h0M169.5 159.0h0M159.3 150.7h0M177.8 160.0h0M153.2 159.6h0M172.3 161.5h0M162.6 174.6h0M159.0 148.1h0M170.0 156.4h0M152.2 148.7h0M169.2 151.4h0M166.8 170.4h0M164.6 154.1h0M171.5 160.9h0M173.3 171.0h0M159.7 159.9h0M172.1 147.8h0M158.6 176.4h0M168.4 157.2h0M153.8 164.8h0M168.9 162.3h0M164.6 156.6h0M163.1 171.4h0M172.0 176.0h0M161.8 172.9h0M156.1 165.5h0M158.9 157.6h0M163.6 162.7h0M166.5 153.3h0M156.8 169.2h0M175.7 173.9h0M171.5 159.5h0M171.1 155.7h0M152.0 162.7h0M156.4 175.7h0M161.7 163.9h0M164.0 156.2h0M171.5 166.4h0M168.2 151.9h0M168.2 170.3h0M154.2 157.0h0M153.4 165.3h0M177.8 174.1h0M178.1 169.4h0M157.8 173.3h0M167.5 160.7h0M176.9 151.6h0M173.3 154.5h0M166.0 158.2h0M174.9 176.0h0M161.5 158.8h0M177.3 153.8h0M153.4 167.8h0M178.3 163.2h0M161.0 163.9h0M155.0 162.5h0M165.2 174.6h0M173.6 161.8h0M179.3 169.2h0M177.5 160.8h0M159.9 175.2h0M166.3 168.1h0M168.7 174.2h0M153.6 154.4h0M155.2 148.9h0M176.4 155.6h0M165.8 165.5h0M169.5 164.2h0M155.2 159.0h0M152.5 171.0h0M168.4 176.7h0M163.2 151.4h0M170.7 162.8h0M165.2 155.6h0M168.2 163.5h0M176.1 169.4h0M163.7 176.4h0M175.9 159.1h0M174.8 161.3h0M179.1 177.1h0M162.0 173.1h0M158.1 148.9h0M165.1 155.7h0M172.0 170.7h0M170.5 166.0h0M172.1 157.2h0M177.9 151.9h0M171.5 173.7h0M174.2 157.4h0M173.6 160.0h0M163.8 155.9h0M154.3 174.4h0M159.7 166.0h0M174.3 157.7h0M169.1 169.0h0M173.2 160.6h0M153.8 164.5h0M156.4 160.9h0M176.2 151.9h0M159.8 154.5h0M156.1 174.4h0M177.9 157.1h0M162.5 176.0h0M164.0 167.4h0M168.3 155.3h0M157.5 153.9h0M167.9 147.4h0M164.7 169.2h0M174.4 161.5h0M177.7 157.6h0M169.6 153.4h0M165.3 150.8h0M152.6 167.7h0M161.3 172.5h0M164.7 170.1h0M157.8 154.3h0M166.8 175.4h0M178.9 170.0h0M153.6 152.0h0M171.0 148.3h0M157.4 163.9h0M171.5 153.9h0M166.2 165.6h0M166.3 169.2h0M168.5 160.2h0M164.2 173.8h0M175.3 163.2h0M172.6 157.3h0M173.3 148.3h0M179.0 150.5h0M151.8 170.9h0M166.5 164.4h0M174.2 175.7h0M152.9 175.8h0M177.5 147.3h0M170.3 172.0h0M167.5 166.6h0M151.8 155.4h0M153.7 170.7h0M151.7 164.8h0M171.1 173.9h0M153.4 153.2h0M170.3 167.1h0M165.7 172.4h0M174.1 168.3h0M167.5 159.6h0M153.7 164.1h0M174.2 168.3h0M179.1 168.5h0M172.2 166.9h0M159.8 163.1h0M158.7 166.4h0M156.0 156.8h0M152.9 166.9h0M168.3 174.5h0M178.8 175.4h0M161.2 166.4h0M170.0 147.8h0M174.5 164.5h0M158.5 165.5h0M155.6 176.3h0M178.8 162.5h0M154.8 176.6h0M165.0 170.4h0M156.8 171.4h0M158.4 167.2h0M179.3 172.6h0M177.4 171.7h0M160.6 177.2h0M167.5 162.9h0M162.3 169.4h0M162.6 152.1h0M166.7 153.9h0M160.4 163.5h0M154.3 150.1h0M155.6 167.6h0M177.5 175.5h0M178.3 151.5h0M179.3 148.3h0M176.5 176.2h0M164.8 165.5h0M162.6 176.6h0M173.5 157.5h0M158.2 152.5h0M172.0 174.6h0M178.8 155.3h0M175.3 161.2h0M155.0 172.5h0M152.7 169.9h0M159.7 170.9h0M167.9 171.1h0M153.3 161.0h0M170.3 175.7h0M174.6 149.8h0M168.3 166.0h0M154.0 165.1h0M175.4 155.0h0M152.0 175.2h0M158.9 171.1h0M153.5 156.7h0M152.5 157.3h0M176.7 162.8h0M179.1 155.4h0M163.5 158.3h0M161.4 156.0h0M172.3 152.0h0M170.2 155.6h0M165.6 151.4h0M176.0 164.2h0M160.6 152.5h0M154.7 155.0h0M167.9 177.1h0M161.0 161.5h0M170.9 149.9h0M168.2 163.9h0M173.2 166.2h0M173.9 166.4h0M162.6 101.0h0M165.7 131.9h0M158.4 138.5h0M163.6 112.1h0M165.5 73.1h0M165.5 117.1h0M169.3 145.8h0M170.8 143.0h0M162.3 134.1h0M166.7 108.9h0M167.6 90.5h0M164.0 106.0h0M161.4 142.8h0M161.6 112.6h0M165.5 104.5h0M165.5 126.4h0M162.6 138.0h0M161.4 122.8h0M163.5 127.0h0M170.7 132.0h0M166.0 146.4h0M163.4 136.1h0M162.6 107.5h0M166.9 133.5h0M167.5 114.2h0M171.0 128.6h0M164.7 137.9h0M164.8 108.0h0M165.5 87.8h0M168.7 109.4h0M170.3 107.7h0M164.8 129.4h0M165.9 95.2h0M166.6 74.8h0M161.5 118.3h0M174.3 108.9h0M168.7 142.8h0M167.6 144.6h0M165.5 113.6h0M168.6 131.7h0M168.6 134.8h0M163.6 118.0h0M161.6 145.5h0M167.4 120.3h0M165.6 111.4h0M172.3 108.2h0M173.5 146.2h0M165.5 144.3h0M161.5 103.0h0M164.1 94.2h0M165.7 92.7h0M165.3 121.4h0M172.6 132.9h0M168.5 100.9h0M163.7 131.2h0M167.4 85.0h0M165.5 123.6h0M157.5 146.4h0M159.6 146.1h0M163.9 91.7h0M164.4 133.5h0M156.5 139.4h0M163.4 144.5h0M159.8 132.9h0M165.5 84.1h0M164.0 146.7h0M163.6 103.0h0M167.1 130.3h0M167.6 104.9h0M165.5 98.1h0M165.5 90.3h0M166.3 139.3h0M164.0 110.0h0M167.4 141.1h0M171.2 138.3h0M160.5 138.1h0M165.5 76.9h0M169.0 92.1h0M168.2 107.3h0M173.2 138.9h0M165.5 142.1h0M166.2 106.5h0M168.7 121.9h0M166.6 99.9h0M167.6 111.9h0M161.7 131.9h0M163.2 121.8h0M165.5 102.1h0M167.6 126.4h0M171.4 145.8h0M166.5 128.2h0M160.5 107.9h0M165.5 119.3h0M164.5 100.3h0M158.4 108.4h0M167.6 117.6h0M156.5 109.1h0M167.3 137.1h0M164.0 139.9h0M163.4 142.2h0M168.9 128.1h0M161.9 128.4h0M165.5 136.0h0M167.5 102.8h0M169.1 138.1h0M160.9 177.8h0M155.7 180.7h0M166.0 180.1h0M158.1 177.6h0M172.4 180.7h0M175.4 180.8h0M171.9 185.4h0M166.4 182.5h0M164.1 179.1h0M168.6 186.5h0M163.2 184.7h0M157.2 185.4h0M162.3 180.2h0M168.8 179.0h0M159.2 184.9h0M165.2 184.2h0M162.7 182.6h0M162.3 178.0h0M157.8 180.4h0M172.2 178.2h0M165.5 186.3h0M174.0 179.2h0M167.2 185.0h0M160.8 183.5h0M164.5 181.5h0M168.3 183.3h0M159.6 179.4h0M165.7 177.7h0M170.1 184.4h0M170.3 180.4h0M165.5 59.0h0M166.8 188.0h0" stroke="#f0837a" stroke-width="2.10" stroke-linecap="round" fill="none"/>
<rect x="151.4" y="151.8" width="28.3" height="18.6" fill="rgba(62,74,88,0.56)"/>
<path d="M165.5 147.8V153.3M165.5 173.8V168.9M158.5 147.8h14M158.5 173.8h14" stroke="#000" stroke-width="2.0" fill="none"/>
<path d="M151.4 162.2h28.3" stroke="#000" stroke-width="2.0" fill="none"/>
<text x="165.5" y="127.5" font-size="11" text-anchor="middle" textLength="20" lengthAdjust="spacingAndGlyphs" fill="#222">****</text>
<path d="M185.1 158.6h0M202.6 141.2h0M193.2 137.9h0M212.1 155.7h0M195.9 157.8h0M192.4 158.7h0M201.2 144.3h0M209.3 127.7h0M208.8 161.0h0M201.2 160.9h0M208.0 131.4h0M210.5 149.8h0M202.9 142.3h0M184.9 133.7h0M211.7 151.7h0M194.4 125.0h0M193.4 147.6h0M185.8 143.7h0M199.9 125.0h0M202.7 141.5h0M190.9 154.4h0M184.7 152.3h0M201.6 130.4h0M210.5 147.8h0M192.4 149.4h0M199.4 161.8h0M197.6 161.5h0M204.8 157.1h0M191.1 151.3h0M211.9 124.8h0M204.6 142.2h0M206.3 160.6h0M186.2 142.3h0M194.6 150.9h0M211.7 128.6h0M188.0 124.7h0M185.7 141.6h0M187.0 133.6h0M208.2 148.8h0M192.6 155.0h0M186.4 137.2h0M187.3 159.5h0M207.1 142.9h0M188.2 131.2h0M204.0 155.1h0M185.9 134.6h0M196.7 153.8h0M212.1 135.2h0M200.8 153.9h0M199.0 144.9h0M209.8 147.7h0M212.0 159.6h0M186.2 138.4h0M202.7 159.3h0M206.8 138.3h0M192.0 143.6h0M204.6 130.2h0M210.7 145.2h0M194.4 159.7h0M200.4 149.3h0M208.4 135.5h0M203.7 158.9h0M199.0 155.2h0M210.2 158.2h0M202.6 132.1h0M193.6 152.1h0M191.1 156.8h0M194.4 137.4h0M209.6 152.3h0M204.5 139.9h0M191.3 132.8h0M184.6 138.2h0M201.4 131.3h0M198.9 153.1h0M206.3 134.3h0M189.9 139.2h0M194.7 147.0h0M201.9 137.7h0M200.5 137.9h0M211.4 156.5h0M208.9 152.3h0M199.2 141.3h0M202.9 154.3h0M190.6 145.1h0M185.4 147.9h0M189.7 141.6h0M202.7 155.7h0M199.4 138.7h0M208.2 134.6h0M184.6 143.6h0M198.6 149.7h0M185.3 154.7h0M189.6 129.9h0M201.8 126.3h0M195.7 132.6h0M185.3 150.0h0M200.3 131.2h0M192.2 146.6h0M187.2 153.9h0M193.6 145.1h0M188.1 161.8h0M198.7 158.7h0M188.1 140.8h0M188.9 126.6h0M203.9 125.5h0M200.4 136.5h0M201.7 151.6h0M186.7 162.2h0M199.5 131.0h0M205.4 160.6h0M191.4 133.2h0M210.4 134.1h0M189.7 158.4h0M207.0 134.1h0M200.8 142.6h0M199.4 150.9h0M210.4 131.8h0M189.4 152.7h0M192.4 137.8h0M208.3 157.1h0M210.0 127.3h0M195.6 134.8h0M205.5 145.6h0M194.8 158.0h0M205.6 124.4h0M188.6 144.1h0M191.1 127.2h0M192.3 124.9h0M189.8 140.0h0M198.9 145.3h0M201.9 151.7h0M207.7 144.3h0M207.4 146.6h0M199.2 157.4h0M196.7 154.9h0M202.7 130.7h0M200.9 128.4h0M208.4 144.1h0M207.7 124.5h0M187.2 138.8h0M187.6 150.6h0M204.2 134.5h0M206.6 135.8h0M199.7 133.0h0M209.8 124.7h0M204.2 150.7h0M192.6 155.5h0M209.1 140.0h0M198.2 149.7h0M185.8 139.7h0M211.3 131.1h0M201.5 151.7h0M193.1 139.8h0M196.2 129.7h0M184.7 131.5h0M187.5 158.8h0M209.8 149.6h0M203.4 146.9h0M208.6 139.3h0M185.2 145.1h0M197.6 148.8h0M210.0 146.7h0M203.5 138.3h0M189.2 159.7h0M208.7 145.0h0M186.7 127.4h0M207.7 139.1h0M197.8 134.0h0M211.7 132.4h0M208.6 127.9h0M191.2 159.3h0M205.2 159.6h0M199.3 156.0h0M189.7 150.6h0M199.3 160.0h0M198.4 138.4h0M192.7 133.0h0M190.2 132.9h0M210.9 144.7h0M196.4 145.8h0M202.0 151.7h0M211.9 125.8h0M204.0 131.5h0M199.6 131.0h0M197.5 142.6h0M203.9 159.4h0M212.1 158.2h0M201.1 159.0h0M211.1 126.1h0M203.2 158.5h0M190.6 141.9h0M211.7 135.4h0M204.7 131.0h0M193.7 142.3h0M210.6 137.5h0M198.0 147.2h0M207.7 130.5h0M206.5 158.5h0M208.6 155.8h0M209.3 150.1h0M212.2 138.9h0M197.9 150.1h0M184.7 159.0h0M190.0 129.3h0M186.3 158.5h0M204.5 152.9h0M184.8 127.1h0M201.5 134.0h0M203.7 138.5h0M207.7 135.2h0M200.4 150.8h0M209.7 135.6h0M191.0 148.9h0M200.0 147.8h0M204.6 138.4h0M203.8 144.3h0M208.2 127.6h0M195.6 151.7h0M206.5 153.5h0M194.5 134.4h0M189.2 160.7h0M205.8 155.3h0M204.4 133.6h0M204.5 161.0h0M186.4 158.2h0M203.3 135.3h0M206.5 147.6h0M198.1 160.7h0M195.3 156.7h0M188.9 134.6h0M204.6 148.6h0M191.0 137.9h0M212.1 128.0h0M190.1 124.5h0M191.0 134.8h0M211.8 148.5h0M188.5 137.2h0M186.9 127.1h0M195.5 130.2h0M195.8 143.8h0M199.2 127.1h0M208.7 128.0h0M207.7 146.6h0M207.5 141.9h0M202.9 146.6h0M206.2 154.9h0M197.4 127.3h0M192.7 128.9h0M200.0 157.8h0M184.6 155.0h0M191.8 131.8h0M208.8 160.6h0M202.6 151.9h0M186.2 141.9h0M194.4 138.1h0M197.0 129.5h0M192.1 151.8h0M212.1 151.1h0M187.7 156.8h0M190.6 151.5h0M209.7 135.5h0M197.5 148.0h0M209.2 139.0h0M190.6 136.8h0M194.6 139.4h0M189.1 146.6h0M200.3 143.3h0M185.8 129.4h0M200.9 148.7h0M208.2 154.7h0M210.9 153.9h0M202.4 151.2h0M189.7 156.2h0M200.3 124.9h0M194.3 156.9h0M206.2 132.5h0M197.3 140.3h0M202.6 124.3h0M186.6 152.1h0M206.5 128.8h0M207.9 157.5h0M188.7 152.5h0M195.7 144.6h0M185.9 129.6h0M201.3 138.7h0M186.7 132.7h0M205.9 143.4h0M207.4 159.9h0M185.3 157.5h0M208.0 150.9h0M208.3 156.9h0M196.5 126.0h0M209.7 142.0h0M187.9 129.4h0M185.9 124.8h0M191.0 126.5h0M208.5 158.3h0M192.6 160.9h0M209.2 135.5h0M206.3 149.1h0M202.9 144.1h0M198.6 129.1h0M205.9 137.7h0M201.9 131.8h0M199.9 134.1h0M198.5 144.4h0M195.5 149.0h0M202.4 137.2h0M191.1 127.5h0M209.8 129.8h0M211.1 130.2h0M194.6 152.2h0M208.3 154.9h0M192.9 135.8h0M204.9 143.3h0M198.4 125.1h0M201.4 155.5h0M210.7 125.2h0M209.9 126.3h0M202.8 161.8h0M188.9 155.2h0M208.3 133.4h0M211.6 140.7h0M198.7 155.4h0M189.2 130.3h0M189.8 132.6h0M211.8 142.8h0M191.6 146.9h0M195.5 128.1h0M192.7 150.1h0M198.4 138.2h0M212.0 139.5h0M194.0 156.2h0M209.7 134.8h0M205.9 151.0h0M185.2 146.7h0M192.0 152.7h0M194.7 154.3h0M204.1 134.9h0M202.1 159.4h0M186.1 139.9h0M196.4 136.8h0M192.5 133.1h0M197.2 151.7h0M209.4 160.2h0M192.4 139.4h0M189.1 160.3h0M205.0 127.3h0M200.4 162.1h0M191.5 131.0h0M208.9 144.0h0M200.9 145.9h0M189.0 148.5h0M194.1 161.2h0M190.7 138.6h0M202.4 143.2h0M191.7 141.4h0M195.6 143.6h0M190.7 129.9h0M205.9 146.7h0M203.0 128.4h0M211.1 161.5h0M190.6 148.2h0M206.4 140.9h0M185.0 162.2h0M195.6 141.4h0M186.2 156.7h0M185.5 125.1h0M192.8 132.1h0M199.7 139.3h0M198.4 136.1h0M207.5 130.8h0M189.2 137.7h0M206.3 125.7h0M185.2 160.2h0M201.0 139.8h0M188.5 160.4h0M201.8 147.8h0M190.8 138.7h0M204.5 137.0h0M196.8 159.8h0M207.6 137.6h0M199.7 138.3h0M206.5 161.9h0M201.3 157.7h0M187.9 144.0h0M194.8 130.6h0M186.8 148.5h0M207.0 134.8h0M194.8 158.6h0M185.4 129.5h0M209.5 135.7h0M193.4 154.9h0M210.8 158.3h0M195.3 138.9h0M191.3 130.1h0M185.6 141.0h0M192.2 161.8h0M185.8 151.4h0M186.5 144.8h0M201.2 162.0h0M185.3 161.2h0M212.0 146.1h0M207.3 157.1h0M197.6 131.7h0M202.2 147.4h0M203.8 129.7h0M187.3 147.1h0M202.7 149.3h0M203.7 134.9h0M195.1 139.0h0M189.3 142.4h0M197.3 155.8h0M193.1 156.7h0M193.7 127.0h0M211.6 146.8h0M206.8 126.2h0M187.7 155.3h0M196.0 98.6h0M200.8 94.4h0M202.9 87.0h0M194.6 117.0h0M200.5 92.2h0M193.2 121.7h0M200.4 68.5h0M194.4 120.0h0M197.3 104.3h0M198.7 70.7h0M198.4 110.9h0M198.4 102.5h0M199.3 105.1h0M203.1 97.9h0M197.9 97.6h0M200.5 113.2h0M200.6 123.5h0M196.5 100.9h0M198.4 80.7h0M199.4 96.2h0M198.4 68.1h0M202.3 120.0h0M200.4 115.8h0M202.2 82.2h0M194.2 124.0h0M202.2 114.4h0M198.4 123.5h0M196.6 116.3h0M200.4 89.5h0M198.4 115.2h0M198.4 121.1h0M198.4 113.1h0M198.7 94.0h0M194.5 96.7h0M200.4 98.0h0M198.4 77.7h0M194.4 108.4h0M200.4 103.2h0M198.4 91.9h0M202.4 122.1h0M198.4 100.0h0M196.7 79.0h0M198.4 107.1h0M195.1 86.7h0M196.5 81.8h0M200.5 81.0h0M195.6 105.5h0M200.4 121.4h0M195.3 94.8h0M191.5 122.9h0M201.0 100.1h0M194.4 101.2h0M198.4 62.9h0M201.8 96.2h0M202.0 117.1h0M204.5 122.6h0M200.5 83.7h0M196.4 107.7h0M197.1 72.1h0M198.4 83.4h0M200.5 107.2h0M200.5 77.8h0M198.4 118.5h0M198.4 88.9h0M196.9 69.6h0M196.3 123.8h0M201.4 105.1h0M199.0 85.4h0M202.7 101.3h0M200.9 86.4h0M196.3 113.5h0M204.7 99.3h0M200.3 119.2h0M200.9 73.3h0M197.4 95.6h0M193.5 105.6h0M196.7 93.2h0M198.8 73.3h0M196.4 119.3h0M200.5 111.1h0M193.9 99.0h0M202.4 107.9h0M203.3 105.8h0M197.0 86.0h0M196.3 121.6h0M194.5 166.0h0M206.2 164.2h0M191.8 165.0h0M200.0 171.1h0M199.6 175.8h0M200.5 167.3h0M198.4 169.7h0M195.3 169.8h0M195.7 176.0h0M197.5 162.3h0M203.0 173.4h0M199.0 182.8h0M197.6 175.1h0M201.7 176.0h0M201.0 172.9h0M200.3 165.2h0M200.5 181.0h0M202.1 163.9h0M198.4 177.7h0M198.4 167.3h0M191.6 176.8h0M196.4 165.3h0M196.5 181.6h0M193.6 176.2h0M190.6 163.1h0M187.7 165.9h0M203.6 165.4h0M193.7 164.0h0M202.0 168.7h0M198.4 164.5h0M198.4 180.8h0M189.8 165.5h0M197.6 171.7h0M207.6 165.8h0M195.9 172.8h0M193.8 173.2h0M199.5 162.5h0M195.6 163.1h0M198.4 185.3h0M203.8 176.3h0M202.3 181.9h0M198.9 173.4h0M200.5 177.8h0M204.4 163.1h0M196.4 168.0h0M198.4 52.6h0M199.6 187.0h0" stroke="#f0837a" stroke-width="2.10" stroke-linecap="round" fill="none"/>
<rect x="184.2" y="135.0" width="28.3" height="19.2" fill="rgba(62,74,88,0.56)"/>
<path d="M198.4 130.6V136.5M198.4 158.0V152.7M191.4 130.6h14M191.4 158.0h14" stroke="#000" stroke-width="2.0" fill="none"/>
<path d="M184.2 145.4h28.3" stroke="#000" stroke-width="2.0" fill="none"/>
<text x="198.4" y="109.9" font-size="11" text-anchor="middle" textLength="20" lengthAdjust="spacingAndGlyphs" fill="#222">****</text>
<path d="M50.5 126.9H214.8" stroke="#000" stroke-width="2" stroke-dasharray="5.6,4.4" fill="none"/>
<rect x="50.5" y="41.4" width="164.3" height="160.2" fill="none" stroke="#222" stroke-width="1.1"/>
<path d="M47.0 201.4H50.5" stroke="#222" stroke-width="1"/>
<text x="44.5" y="205.5" font-size="11.5" text-anchor="end" textLength="23.0" lengthAdjust="spacingAndGlyphs">0.00</text>
<path d="M47.0 181.4H50.5" stroke="#222" stroke-width="1"/>
<text x="44.5" y="185.5" font-size="11.5" text-anchor="end" textLength="23.0" lengthAdjust="spacingAndGlyphs">0.05</text>
<path d="M47.0 161.4H50.5" stroke="#222" stroke-width="1"/>
<text x="44.5" y="165.5" font-size="11.5" text-anchor="end" textLength="23.0" lengthAdjust="spacingAndGlyphs">0.10</text>
<path d="M47.0 141.4H50.5" stroke="#222" stroke-width="1"/>
<text x="44.5" y="145.5" font-size="11.5" text-anchor="end" textLength="23.0" lengthAdjust="spacingAndGlyphs">0.15</text>
<path d="M47.0 121.4H50.5" stroke="#222" stroke-width="1"/>
<text x="44.5" y="125.5" font-size="11.5" text-anchor="end" textLength="23.0" lengthAdjust="spacingAndGlyphs">0.20</text>
<path d="M47.0 101.4H50.5" stroke="#222" stroke-width="1"/>
<text x="44.5" y="105.5" font-size="11.5" text-anchor="end" textLength="23.0" lengthAdjust="spacingAndGlyphs">0.25</text>
<path d="M47.0 81.4H50.5" stroke="#222" stroke-width="1"/>
<text x="44.5" y="85.5" font-size="11.5" text-anchor="end" textLength="23.0" lengthAdjust="spacingAndGlyphs">0.30</text>
<path d="M47.0 61.4H50.5" stroke="#222" stroke-width="1"/>
<text x="44.5" y="65.5" font-size="11.5" text-anchor="end" textLength="23.0" lengthAdjust="spacingAndGlyphs">0.35</text>
<path d="M66.9 201.6v3.5" stroke="#222" stroke-width="1"/>
<path d="M99.8 201.6v3.5" stroke="#222" stroke-width="1"/>
<path d="M132.7 201.6v3.5" stroke="#222" stroke-width="1"/>
<path d="M165.5 201.6v3.5" stroke="#222" stroke-width="1"/>
<path d="M198.4 201.6v3.5" stroke="#222" stroke-width="1"/>
<text transform="translate(9.2 19.3) scale(1.13 1)" font-size="24.5" fill="#111">a</text>
<text x="47.7" y="37.1" font-size="15" textLength="46" lengthAdjust="spacingAndGlyphs">LNCaP</text>
<text x="107.2" y="37.1" font-size="15" textLength="110.5" lengthAdjust="spacingAndGlyphs">- Neutral Lipids</text>
<text x="14.4" y="121.3" font-size="13.5" text-anchor="middle" textLength="177.5" lengthAdjust="spacingAndGlyphs" transform="rotate(-90 14.4 121.3)">Mean Nile Red Intensity/Cell</text>
<text x="43.8" y="223.8" font-size="10.5" text-anchor="end">Leu</text>
<path d="M61.0 220.0h7M64.5 216.5v7" stroke="#000" stroke-width="1.3" fill="none"/>
<path d="M94.3 220.0h8.6" stroke="#e8211f" stroke-width="2.1" fill="none"/>
<path d="M128.8 220.0h7M132.3 216.5v7" stroke="#000" stroke-width="1.3" fill="none"/>
<path d="M161.6 220.0h7M165.1 216.5v7" stroke="#000" stroke-width="1.3" fill="none"/>
<path d="M193.8 220.0h8.6" stroke="#e8211f" stroke-width="2.1" fill="none"/>
<text x="43.8" y="243.0" font-size="10.5" text-anchor="end">Ile</text>
<path d="M61.0 239.2h7M64.5 235.7v7" stroke="#000" stroke-width="1.3" fill="none"/>
<path d="M95.1 239.2h7M98.6 235.7v7" stroke="#000" stroke-width="1.3" fill="none"/>
<path d="M128.0 239.2h8.6" stroke="#e8211f" stroke-width="2.1" fill="none"/>
<path d="M161.6 239.2h7M165.1 235.7v7" stroke="#000" stroke-width="1.3" fill="none"/>
<path d="M193.8 239.2h8.6" stroke="#e8211f" stroke-width="2.1" fill="none"/>
<text x="43.8" y="262.4" font-size="10.5" text-anchor="end">Val</text>
<path d="M61.0 258.6h7M64.5 255.1v7" stroke="#000" stroke-width="1.3" fill="none"/>
<path d="M95.1 258.6h7M98.6 255.1v7" stroke="#000" stroke-width="1.3" fill="none"/>
<path d="M128.8 258.6h7M132.3 255.1v7" stroke="#000" stroke-width="1.3" fill="none"/>
<path d="M160.8 258.6h8.6" stroke="#e8211f" stroke-width="2.1" fill="none"/>
<path d="M193.8 258.6h8.6" stroke="#e8211f" stroke-width="2.1" fill="none"/>
<path d="M315.4 124.2h0M310.4 132.4h0M302.3 137.0h0M304.7 136.0h0M306.7 114.5h0M296.1 116.2h0M301.2 123.7h0M305.6 108.9h0M295.4 104.7h0M298.5 99.9h0M288.2 114.7h0M308.0 106.6h0M293.6 99.2h0M304.3 118.1h0M312.1 104.8h0M308.8 127.0h0M295.9 132.5h0M303.3 99.4h0M301.2 105.3h0M290.4 118.7h0M303.1 106.0h0M301.4 102.4h0M294.4 114.9h0M302.9 104.0h0M295.7 140.8h0M305.1 96.6h0M306.7 99.7h0M291.7 109.3h0M300.4 99.5h0M299.7 119.0h0M312.1 117.4h0M314.2 142.0h0M305.5 141.9h0M303.4 123.4h0M293.1 124.0h0M298.9 96.0h0M293.5 99.0h0M299.4 130.2h0M296.5 120.0h0M289.2 127.2h0M291.7 112.2h0M312.3 109.3h0M294.3 138.4h0M294.8 130.0h0M297.8 132.3h0M301.9 117.7h0M305.4 124.8h0M311.2 120.0h0M295.6 128.2h0M289.3 133.0h0M288.3 126.8h0M292.7 140.5h0M288.8 117.1h0M299.4 132.0h0M310.5 111.3h0M304.3 103.7h0M298.3 136.6h0M306.2 126.1h0M294.9 108.7h0M311.4 131.2h0M314.6 97.3h0M311.9 129.1h0M302.8 110.8h0M292.0 116.1h0M303.9 97.7h0M291.9 103.7h0M313.0 105.5h0M312.0 140.3h0M310.0 131.9h0M298.8 94.9h0M311.3 136.0h0M313.0 104.3h0M303.8 93.9h0M297.1 134.4h0M296.2 94.3h0M290.7 102.3h0M300.8 142.3h0M307.5 139.0h0M311.6 138.9h0M305.3 132.0h0M301.1 141.0h0M310.2 134.5h0M315.1 101.5h0M308.8 99.4h0M299.5 110.1h0M292.0 120.6h0M310.1 109.4h0M314.3 106.7h0M295.4 117.1h0M301.9 139.3h0M306.6 142.1h0M314.8 133.8h0M290.2 130.2h0M310.1 96.7h0M300.0 108.6h0M314.4 111.5h0M300.5 116.1h0M292.9 104.1h0M290.5 116.1h0M312.3 93.7h0M296.0 98.0h0M313.3 130.7h0M313.4 111.1h0M304.7 112.2h0M302.2 94.7h0M296.1 107.4h0M297.3 96.3h0M302.9 120.1h0M303.2 108.0h0M288.5 140.2h0M312.8 123.8h0M307.0 125.0h0M288.3 97.8h0M305.4 124.3h0M313.6 104.5h0M301.3 135.5h0M309.9 119.8h0M291.5 121.4h0M312.0 130.8h0M293.2 126.7h0M315.4 141.9h0M309.1 112.0h0M314.2 94.9h0M296.2 128.4h0M296.5 127.1h0M308.2 133.9h0M300.7 97.2h0M304.0 95.6h0M313.3 132.3h0M305.0 98.5h0M293.5 111.0h0M294.9 119.9h0M299.6 103.8h0M303.0 107.7h0M313.1 105.5h0M301.4 131.1h0M302.5 134.4h0M296.9 100.2h0M308.0 135.6h0M299.5 106.5h0M305.0 121.0h0M296.2 109.6h0M315.1 117.4h0M288.8 95.7h0M310.4 104.0h0M302.1 98.8h0M298.8 141.8h0M301.3 111.1h0M304.1 138.1h0M309.1 128.8h0M293.6 96.8h0M289.0 106.9h0M308.5 105.4h0M298.2 122.0h0M288.8 98.7h0M295.6 111.9h0M303.2 106.7h0M298.7 136.5h0M294.1 141.6h0M314.5 101.8h0M309.5 119.1h0M305.3 106.8h0M297.3 116.5h0M300.0 127.0h0M307.1 134.6h0M312.9 99.8h0M301.7 132.1h0M289.0 142.3h0M301.1 123.4h0M311.3 115.9h0M306.4 105.0h0M294.3 134.8h0M315.6 117.0h0M305.4 127.6h0M309.6 138.4h0M299.1 104.4h0M313.0 121.1h0M302.4 105.5h0M292.2 124.4h0M307.1 93.6h0M291.6 129.9h0M315.0 132.0h0M295.3 104.0h0M304.7 114.4h0M306.6 132.6h0M292.8 120.4h0M315.8 113.1h0M299.3 114.1h0M295.6 142.0h0M302.5 96.2h0M307.6 107.6h0M291.5 93.7h0M298.1 112.2h0M300.8 130.8h0M301.0 124.3h0M311.1 100.3h0M297.1 107.9h0M302.7 126.1h0M293.3 103.1h0M306.3 112.0h0M288.5 120.8h0M291.2 132.1h0M304.5 129.1h0M296.7 120.2h0M290.9 108.5h0M311.7 113.8h0M288.9 129.1h0M309.1 94.2h0M311.9 133.9h0M306.8 122.7h0M292.2 138.7h0M301.2 120.5h0M291.5 115.7h0M292.4 115.0h0M301.0 112.8h0M292.0 136.2h0M288.2 106.2h0M308.9 120.0h0M303.8 101.3h0M312.3 97.7h0M307.5 97.7h0M309.3 98.8h0M290.7 114.0h0M305.6 116.3h0M304.3 128.7h0M304.0 120.0h0M307.3 128.5h0M296.6 116.2h0M312.8 96.3h0M297.7 111.9h0M302.9 141.9h0M309.6 122.3h0M296.3 102.2h0M307.3 130.0h0M307.9 105.8h0M292.6 136.1h0M296.0 137.2h0M289.7 128.8h0M302.5 125.0h0M315.7 103.5h0M292.8 136.4h0M289.5 104.5h0M307.7 109.7h0M306.7 140.5h0M294.0 129.6h0M290.0 115.7h0M293.0 133.1h0M289.6 119.2h0M301.7 107.5h0M288.3 109.3h0M307.8 123.8h0M313.7 106.0h0M291.1 126.7h0M315.0 131.2h0M289.6 125.1h0M290.1 138.8h0M298.1 99.4h0M304.2 135.6h0M289.0 118.9h0M315.6 126.2h0M297.0 120.0h0M308.8 140.7h0M292.1 100.7h0M298.8 120.6h0M311.3 123.5h0M311.4 136.6h0M304.5 104.1h0M315.8 137.0h0M306.1 110.5h0M289.2 122.4h0M294.4 123.5h0M295.9 133.5h0M312.2 118.9h0M306.7 124.4h0M302.7 140.6h0M310.5 105.8h0M289.0 95.0h0M303.5 95.0h0M315.4 105.7h0M302.6 95.3h0M308.3 110.3h0M304.5 132.0h0M294.3 123.5h0M309.4 113.0h0M296.6 117.5h0M301.7 101.7h0M315.0 99.3h0M296.9 123.2h0M290.4 124.0h0M294.7 124.7h0M312.5 127.1h0M292.0 117.3h0M298.3 128.3h0M298.0 140.6h0M288.3 131.1h0M300.1 118.3h0M314.4 124.7h0M307.3 110.5h0M294.8 98.4h0M313.5 109.8h0M307.9 115.7h0M311.9 116.8h0M307.8 112.3h0M308.3 120.7h0M294.6 135.5h0M292.5 95.4h0M296.6 122.1h0M293.3 108.0h0M289.7 96.2h0M301.9 130.4h0M300.8 128.6h0M306.2 132.9h0M293.9 109.0h0M296.8 131.5h0M308.2 130.9h0M314.0 135.8h0M296.5 113.1h0M312.7 134.0h0M310.1 130.6h0M290.1 110.7h0M311.7 95.4h0M298.4 120.0h0M310.2 142.4h0M297.5 115.1h0M302.9 141.5h0M303.4 122.5h0M296.5 94.1h0M305.8 133.4h0M314.5 141.6h0M298.0 124.0h0M315.1 115.0h0M295.5 104.6h0M314.4 93.8h0M303.3 93.9h0M300.7 136.1h0M308.2 95.9h0M304.2 127.6h0M303.6 125.5h0M303.3 112.7h0M289.0 100.3h0M313.3 116.7h0M303.9 107.7h0M304.5 101.6h0M311.0 131.3h0M305.6 133.2h0M306.8 134.0h0M305.2 139.9h0M288.4 134.9h0M297.1 125.9h0M314.4 133.6h0M310.1 111.0h0M311.4 113.7h0M302.7 102.3h0M292.7 114.8h0M291.3 134.4h0M310.7 119.9h0M306.3 95.5h0M301.1 109.0h0M290.8 99.5h0M294.4 101.3h0M292.2 127.8h0M289.9 128.5h0M288.9 112.7h0M299.3 117.8h0M294.0 110.3h0M304.8 100.9h0M306.9 126.2h0M311.9 98.0h0M306.3 95.8h0M301.5 135.1h0M315.6 110.1h0M297.6 98.7h0M300.5 133.8h0M304.3 109.9h0M314.4 108.4h0M293.0 107.1h0M313.1 137.8h0M300.1 138.2h0M288.2 98.2h0M307.5 140.8h0M313.9 125.3h0M294.8 121.7h0M289.4 93.9h0M295.4 116.5h0M315.7 95.4h0M311.2 117.3h0M314.7 98.7h0M315.5 140.4h0M313.8 100.5h0M299.3 101.5h0M302.6 122.9h0M305.0 96.8h0M306.0 131.3h0M304.5 135.1h0M312.0 106.8h0M299.4 140.1h0M293.2 126.9h0M294.4 93.9h0M303.5 109.5h0M314.3 103.7h0M311.5 123.9h0M293.3 122.3h0M311.4 98.7h0M309.0 107.6h0M288.5 128.8h0M312.2 121.6h0M302.5 123.7h0M312.7 94.7h0M304.6 112.0h0M294.7 113.3h0M303.0 128.4h0M293.2 131.5h0M306.9 117.9h0M304.0 132.7h0M289.3 108.7h0M289.6 121.6h0M291.2 119.0h0M289.1 135.5h0M300.0 101.5h0M313.4 100.0h0M293.8 113.1h0M303.0 108.3h0M293.7 132.0h0M308.6 136.5h0M307.9 101.1h0M311.4 125.2h0M300.3 122.5h0M301.5 120.8h0M305.6 95.1h0M298.8 98.1h0M302.0 114.6h0M315.2 124.6h0M312.5 141.5h0M303.5 116.1h0M305.3 101.8h0M291.7 97.6h0M305.5 131.4h0M313.3 112.5h0M301.9 128.2h0M294.6 120.4h0M295.4 95.9h0M313.1 133.9h0M290.2 96.3h0M312.6 140.6h0M294.0 140.3h0M309.5 125.0h0M307.6 103.2h0M297.4 105.7h0M289.1 101.0h0M298.4 103.4h0M291.5 121.6h0M293.0 120.6h0M308.1 119.3h0M297.6 119.3h0M301.3 101.6h0M295.9 131.2h0M298.4 134.4h0M289.3 102.4h0M311.9 131.0h0M314.1 106.6h0M310.6 127.7h0M311.1 107.5h0M299.8 99.3h0M313.8 107.7h0M289.5 104.0h0M288.2 111.5h0M300.8 94.4h0M288.1 106.7h0M312.3 102.0h0M290.7 106.5h0M304.2 131.5h0M291.2 123.6h0M309.0 118.0h0M295.8 105.8h0M302.1 118.8h0M315.4 100.2h0M288.6 123.2h0M294.0 118.7h0M296.0 139.6h0M301.9 101.1h0M314.2 95.2h0M309.0 131.9h0M306.6 97.1h0M310.7 113.9h0M315.6 129.7h0M293.3 121.5h0M299.4 99.9h0M314.4 128.0h0M302.8 102.0h0M308.5 115.6h0M306.4 101.5h0M299.9 134.5h0M308.8 99.2h0M290.1 124.9h0M290.6 141.0h0M291.4 121.7h0M299.5 125.8h0M297.9 138.6h0M313.2 126.1h0M313.5 103.7h0M309.5 111.3h0M288.2 116.8h0M297.3 130.5h0M305.3 131.0h0M296.1 100.1h0M306.7 142.0h0M307.9 135.6h0M308.6 111.5h0M301.6 93.8h0M297.1 141.2h0M306.5 137.1h0M312.0 102.1h0M315.3 120.2h0M290.9 104.3h0M298.3 109.9h0M314.2 119.4h0M312.1 96.8h0M298.5 121.1h0M313.6 114.6h0M301.9 121.1h0M312.0 134.1h0M315.7 110.0h0M294.6 125.1h0M314.7 142.1h0M310.2 120.2h0M314.7 122.2h0M297.9 136.4h0M305.7 119.6h0M302.2 141.3h0M294.6 122.8h0M314.8 131.4h0M314.3 139.5h0M291.6 136.4h0M306.2 120.6h0M292.7 105.8h0M309.8 102.0h0M310.9 140.4h0M301.9 80.3h0M295.4 92.5h0M298.9 90.6h0M301.9 68.6h0M302.7 90.1h0M306.6 86.1h0M303.8 66.9h0M297.5 93.0h0M305.6 79.2h0M296.8 91.0h0M301.1 83.2h0M300.7 89.5h0M302.9 82.2h0M304.0 77.8h0M298.1 85.6h0M296.9 83.8h0M301.9 54.4h0M300.2 72.8h0M301.9 62.4h0M304.7 83.2h0M308.5 92.0h0M300.1 85.1h0M304.8 90.4h0M305.4 92.5h0M301.9 66.0h0M302.7 84.5h0M304.0 88.3h0M304.6 85.4h0M301.2 91.6h0M306.8 90.8h0M301.9 77.6h0M300.1 78.5h0M310.5 92.5h0M299.6 93.0h0M302.3 72.7h0M306.8 83.6h0M295.3 85.1h0M303.1 92.4h0M303.6 69.8h0M299.0 83.3h0M301.9 87.8h0M293.6 93.5h0M308.8 84.1h0M301.7 70.7h0M303.8 55.5h0M300.2 144.9h0M303.4 145.6h0M292.3 142.7h0M298.5 146.1h0M297.3 143.3h0M304.0 147.8h0M307.4 146.3h0M302.1 143.9h0M305.6 145.1h0M308.0 143.7h0M301.9 147.3h0M289.4 142.5h0M304.2 143.6h0M288.2 142.9h0M304.0 152.1h0M301.9 152.0h0M301.9 46.0h0M301.9 154.3h0" stroke="#f0837a" stroke-width="2.10" stroke-linecap="round" fill="none"/>
<rect x="287.8" y="111.4" width="28.3" height="18.2" fill="rgba(62,74,88,0.56)"/>
<path d="M301.9 107.1V112.9M301.9 134.3V128.1M294.9 107.1h14M294.9 134.3h14" stroke="#000" stroke-width="2.0" fill="none"/>
<path d="M287.8 122.1h28.3" stroke="#000" stroke-width="2.0" fill="none"/>
<path d="M324.6 168.6h0M343.8 143.2h0M334.4 177.9h0M326.3 171.8h0M328.3 154.2h0M342.9 161.4h0M334.3 140.8h0M348.7 157.4h0M326.4 169.9h0M329.2 130.3h0M327.4 165.8h0M338.5 132.2h0M327.7 143.1h0M330.5 133.6h0M336.5 129.6h0M334.6 136.9h0M346.7 144.0h0M330.4 173.6h0M341.6 177.7h0M346.6 150.3h0M322.5 132.2h0M345.9 131.5h0M334.7 149.9h0M336.9 166.7h0M343.5 142.8h0M326.2 132.2h0M335.0 130.9h0M321.7 177.6h0M326.2 166.2h0M329.5 160.0h0M334.9 161.0h0M321.4 169.3h0M322.1 148.8h0M322.2 150.6h0M330.3 143.3h0M328.6 164.1h0M342.0 168.3h0M321.4 138.6h0M333.7 162.7h0M325.2 167.5h0M335.7 143.1h0M341.7 168.2h0M328.3 166.7h0M327.6 155.9h0M347.2 172.5h0M341.9 164.0h0M336.0 132.8h0M324.0 160.8h0M337.4 175.1h0M346.0 139.2h0M336.8 158.5h0M325.0 130.4h0M344.5 143.9h0M327.4 161.9h0M325.1 134.6h0M341.4 173.6h0M329.5 136.2h0M344.8 155.8h0M326.3 150.3h0M337.7 133.0h0M322.6 132.9h0M346.9 177.1h0M340.3 156.3h0M336.6 133.0h0M344.5 157.4h0M331.7 173.5h0M332.4 133.7h0M324.5 165.4h0M333.9 143.3h0M325.9 148.4h0M346.1 147.7h0M342.7 130.3h0M321.2 147.4h0M334.4 152.4h0M341.6 176.5h0M334.3 159.7h0M321.3 142.4h0M331.3 144.6h0M331.5 156.1h0M343.4 166.0h0M323.1 163.7h0M339.7 174.6h0M326.6 174.5h0M321.5 142.2h0M342.1 148.1h0M330.0 140.4h0M342.9 142.9h0M342.4 138.1h0M341.8 154.3h0M325.4 167.5h0M344.7 169.3h0M331.4 162.8h0M321.2 139.9h0M340.2 137.3h0M335.2 161.1h0M345.6 149.6h0M335.1 171.4h0M338.6 129.9h0M342.8 177.7h0M348.2 146.8h0M326.3 151.5h0M344.0 163.2h0M335.5 137.5h0M343.5 177.5h0M344.4 152.0h0M343.0 145.4h0M344.4 142.0h0M325.4 148.5h0M325.1 143.8h0M346.0 138.5h0M345.6 149.2h0M325.6 153.5h0M328.8 171.2h0M321.3 159.3h0M340.0 138.0h0M334.6 155.1h0M336.4 158.3h0M334.6 163.0h0M341.6 157.1h0M344.6 146.8h0M339.3 145.3h0M346.3 165.4h0M331.1 139.1h0M322.6 177.5h0M325.8 162.5h0M331.8 173.0h0M348.4 145.3h0M343.3 153.2h0M345.8 136.4h0M348.7 134.3h0M327.4 136.2h0M339.5 143.2h0M340.6 130.3h0M327.8 162.6h0M333.7 149.3h0M327.7 174.5h0M332.7 137.8h0M342.9 168.1h0M333.8 142.2h0M333.2 140.7h0M347.3 150.7h0M332.5 148.8h0M339.0 131.6h0M326.2 154.2h0M346.5 162.8h0M348.1 150.1h0M325.1 139.2h0M321.1 144.0h0M344.8 177.7h0M328.6 149.6h0M348.1 169.1h0M321.2 155.4h0M332.2 131.2h0M324.6 134.7h0M337.5 163.8h0M326.6 163.6h0M343.8 155.5h0M328.4 158.2h0M321.2 152.4h0M324.0 144.3h0M327.1 130.3h0M325.4 161.8h0M348.5 177.7h0M322.9 161.2h0M342.5 156.5h0M342.1 153.3h0M325.4 171.2h0M332.2 175.9h0M330.5 154.7h0M325.7 141.8h0M342.4 140.5h0M326.8 176.8h0M340.8 148.8h0M342.5 153.9h0M348.4 161.3h0M334.8 147.9h0M329.5 170.0h0M333.8 132.1h0M337.3 151.4h0M340.6 174.1h0M335.4 174.6h0M345.0 163.7h0M323.2 167.1h0M333.7 148.4h0M322.4 149.8h0M336.2 151.4h0M323.1 139.8h0M342.7 172.9h0M339.6 132.9h0M341.5 157.2h0M344.3 175.5h0M324.7 173.7h0M347.2 138.5h0M325.4 163.5h0M344.5 155.6h0M330.4 172.7h0M346.0 142.9h0M346.1 173.5h0M344.8 134.5h0M348.4 172.7h0M327.0 137.5h0M344.3 157.1h0M342.8 158.8h0M322.1 173.4h0M343.4 160.8h0M343.1 133.3h0M330.8 175.6h0M337.0 173.0h0M344.6 131.7h0M333.1 138.6h0M324.7 133.0h0M340.0 133.8h0M344.8 130.4h0M344.6 160.5h0M343.7 137.9h0M336.8 161.8h0M337.6 148.1h0M330.3 177.6h0M332.9 163.9h0M348.2 162.3h0M326.6 161.7h0M337.3 171.1h0M332.2 177.4h0M333.1 167.0h0M334.6 177.1h0M332.8 168.3h0M329.8 147.0h0M321.3 150.2h0M347.2 145.0h0M331.2 145.4h0M321.3 175.4h0M344.4 152.0h0M346.0 158.9h0M342.9 159.4h0M323.3 161.6h0M339.6 158.5h0M348.2 138.5h0M340.4 168.2h0M347.3 145.4h0M331.7 156.4h0M327.8 147.7h0M326.4 160.1h0M323.4 136.5h0M337.7 146.5h0M347.4 155.4h0M323.9 177.6h0M328.8 176.4h0M322.6 167.8h0M342.3 142.5h0M340.2 164.5h0M347.2 142.2h0M327.2 162.2h0M345.2 148.1h0M341.3 170.3h0M339.5 170.6h0M322.9 130.5h0M331.8 145.3h0M323.5 170.3h0M327.8 163.3h0M340.7 172.4h0M332.5 168.2h0M343.1 140.3h0M330.8 164.7h0M341.0 134.7h0M347.7 177.9h0M336.5 147.1h0M338.0 165.9h0M333.2 134.7h0M345.2 161.2h0M321.1 162.9h0M338.2 160.0h0M342.3 173.4h0M338.5 133.8h0M327.7 133.0h0M348.2 143.5h0M338.7 152.7h0M321.1 158.5h0M322.7 153.9h0M334.0 130.2h0M347.6 153.1h0M328.0 142.6h0M337.7 157.7h0M342.4 136.2h0M328.4 153.0h0M344.5 155.9h0M348.5 165.5h0M348.4 161.5h0M326.8 169.6h0M338.7 154.5h0M342.5 131.0h0M339.0 139.2h0M334.9 145.2h0M329.0 144.9h0M329.8 156.7h0M342.3 166.1h0M347.4 170.2h0M324.6 138.6h0M347.9 137.0h0M321.1 147.9h0M327.7 158.5h0M339.2 169.9h0M340.9 177.1h0M336.0 175.5h0M323.9 147.1h0M325.2 159.3h0M338.9 161.1h0M322.0 143.5h0M331.5 136.0h0M330.7 148.6h0M339.0 141.4h0M339.6 146.9h0M340.6 154.0h0M347.5 157.4h0M326.4 168.5h0M329.2 131.4h0M344.5 138.7h0M328.8 151.8h0M331.5 142.0h0M340.9 162.5h0M348.6 149.5h0M346.1 143.9h0M321.2 170.2h0M341.4 142.5h0M345.3 171.6h0M346.2 161.6h0M346.4 152.7h0M331.4 159.1h0M339.5 167.4h0M339.5 150.4h0M324.5 177.5h0M336.2 169.3h0M332.8 176.1h0M326.5 174.6h0M343.7 153.3h0M341.7 154.6h0M336.8 146.2h0M329.9 162.1h0M325.8 167.7h0M344.9 130.7h0M322.4 168.3h0M329.2 137.9h0M347.9 159.8h0M342.0 178.0h0M338.3 155.5h0M327.0 145.7h0M338.6 136.0h0M340.6 160.3h0M331.9 158.7h0M331.6 161.1h0M333.7 157.7h0M336.2 160.7h0M340.8 153.1h0M327.8 162.3h0M322.1 161.1h0M344.5 151.5h0M334.6 145.6h0M335.2 140.2h0M344.1 151.2h0M325.6 137.4h0M331.2 144.2h0M330.0 148.4h0M338.6 172.7h0M343.2 174.3h0M327.0 177.7h0M331.8 163.0h0M325.4 154.3h0M347.3 167.5h0M348.6 150.2h0M343.1 174.3h0M326.4 154.3h0M321.2 166.3h0M336.3 162.0h0M338.2 139.2h0M324.7 177.1h0M344.0 142.6h0M345.4 163.6h0M342.0 133.2h0M335.2 160.9h0M332.3 142.7h0M345.2 163.6h0M332.8 153.8h0M331.0 152.7h0M339.5 164.3h0M325.8 157.0h0M325.0 173.5h0M339.9 133.0h0M333.2 146.4h0M336.5 153.3h0M335.4 157.9h0M333.8 178.1h0M328.6 155.6h0M345.7 169.5h0M341.0 153.3h0M341.0 144.0h0M340.8 167.9h0M336.9 141.4h0M323.4 156.3h0M331.7 168.9h0M348.2 164.4h0M337.5 149.6h0M329.6 149.3h0M341.1 139.8h0M321.4 149.8h0M330.4 142.8h0M331.9 171.2h0M336.1 147.9h0M328.7 153.7h0M326.7 161.5h0M329.4 156.0h0M335.0 139.5h0M329.9 161.0h0M346.7 156.5h0M321.0 131.4h0M336.6 154.6h0M348.7 169.0h0M340.9 148.4h0M342.3 150.2h0M345.2 167.2h0M336.9 177.5h0M328.0 173.1h0M333.9 145.4h0M342.3 147.5h0M334.3 146.4h0M325.0 153.6h0M337.6 144.1h0M345.6 154.3h0M332.9 171.3h0M323.4 175.3h0M340.6 146.4h0M326.5 133.1h0M336.9 130.6h0M338.7 162.0h0M334.4 165.3h0M341.7 156.3h0M340.5 164.6h0M323.9 138.5h0M331.6 165.5h0M323.8 152.1h0M334.5 167.1h0M340.9 131.3h0M348.0 162.8h0M322.8 150.2h0M335.4 152.9h0M334.9 169.2h0M347.4 140.7h0M330.3 164.9h0M321.8 175.6h0M333.8 155.6h0M323.1 150.3h0M324.2 161.2h0M338.3 168.0h0M346.9 130.6h0M340.8 165.4h0M331.2 167.8h0M334.3 133.6h0M347.3 147.8h0M328.1 139.6h0M341.0 151.9h0M346.8 133.4h0M348.5 131.9h0M346.6 146.0h0M336.5 136.0h0M321.5 164.8h0M331.1 156.6h0M348.7 152.8h0M348.5 152.7h0M332.2 176.0h0M345.6 174.6h0M325.5 144.3h0M348.0 176.9h0M332.5 160.9h0M331.1 130.9h0M343.4 173.5h0M326.0 145.9h0M321.8 157.7h0M333.3 175.0h0M330.0 174.5h0M339.6 162.1h0M328.4 169.1h0M347.7 142.9h0M337.1 137.5h0M322.4 145.7h0M332.5 151.2h0M325.4 157.8h0M340.9 174.5h0M345.9 130.6h0M348.4 142.5h0M328.9 168.8h0M338.9 176.6h0M345.9 176.8h0M343.9 149.0h0M327.0 134.1h0M331.2 129.8h0M342.8 145.1h0M333.2 170.6h0M324.2 147.0h0M337.4 151.5h0M323.0 177.6h0M321.6 137.4h0M335.8 156.9h0M344.5 148.6h0M334.0 149.8h0M346.9 155.7h0M342.8 164.0h0M334.7 173.1h0M336.6 167.7h0M327.8 141.7h0M342.5 149.3h0M330.7 133.0h0M336.4 164.6h0M343.3 170.9h0M323.6 142.0h0M339.5 130.6h0M331.2 147.8h0M338.9 162.1h0M340.9 142.2h0M323.9 155.7h0M321.5 133.5h0M335.6 132.9h0M343.1 131.4h0M328.6 161.9h0M323.6 143.9h0M323.2 157.8h0M336.9 177.4h0M330.2 150.3h0M347.7 174.8h0M325.5 153.7h0M341.6 148.5h0M334.9 134.6h0M324.7 150.6h0M323.2 172.4h0M346.5 144.7h0M329.3 166.7h0M321.3 163.9h0M321.1 172.5h0M323.5 160.5h0M342.0 174.4h0M336.8 126.3h0M333.7 113.7h0M336.9 105.2h0M334.9 108.7h0M333.8 118.4h0M334.9 104.9h0M336.9 121.9h0M334.9 95.7h0M329.0 110.7h0M336.8 112.7h0M334.9 85.1h0M334.9 121.7h0M332.9 85.8h0M334.9 125.7h0M334.9 100.3h0M334.9 128.3h0M336.9 109.3h0M338.6 110.4h0M336.4 118.0h0M334.9 82.4h0M332.8 82.8h0M336.4 97.1h0M331.7 118.6h0M336.9 82.8h0M332.8 128.3h0M333.1 109.8h0M334.9 116.6h0M334.9 112.0h0M331.0 109.9h0M336.9 85.2h0M336.5 179.2h0M334.2 178.8h0M328.8 179.1h0M336.5 178.7h0M339.2 178.7h0M333.2 180.6h0M334.9 68.6h0M335.0 181.8h0" stroke="#f0837a" stroke-width="2.10" stroke-linecap="round" fill="none"/>
<rect x="320.7" y="149.5" width="28.3" height="18.0" fill="rgba(62,74,88,0.56)"/>
<path d="M334.9 145.4V151.0M334.9 171.0V166.0M327.9 145.4h14M327.9 171.0h14" stroke="#000" stroke-width="2.0" fill="none"/>
<path d="M320.7 158.7h28.3" stroke="#000" stroke-width="2.0" fill="none"/>
<text x="334.9" y="133.0" font-size="11" text-anchor="middle" textLength="20" lengthAdjust="spacingAndGlyphs" fill="#222">****</text>
<path d="M376.9 138.0h0M375.3 126.5h0M375.5 119.6h0M358.3 110.7h0M370.5 107.2h0M355.4 140.7h0M375.8 144.0h0M368.9 146.7h0M353.9 109.7h0M372.0 147.4h0M357.0 117.8h0M370.1 141.5h0M366.6 144.5h0M377.2 108.7h0M364.1 117.8h0M363.5 114.1h0M356.8 131.7h0M356.4 119.9h0M359.1 150.2h0M356.6 149.0h0M358.9 142.2h0M381.1 131.1h0M363.3 128.5h0M374.2 131.5h0M365.9 135.7h0M368.5 152.8h0M381.4 140.4h0M355.1 122.2h0M381.6 136.1h0M380.0 142.4h0M373.4 131.7h0M362.4 112.2h0M355.8 135.6h0M376.3 114.8h0M358.9 129.9h0M369.6 121.5h0M366.4 125.4h0M367.5 147.5h0M374.1 147.0h0M363.2 149.3h0M368.2 143.9h0M360.8 150.0h0M358.7 111.3h0M380.8 144.7h0M354.0 120.1h0M354.9 106.2h0M378.4 144.2h0M364.9 106.2h0M369.7 111.1h0M357.0 106.1h0M355.2 130.9h0M377.9 144.7h0M379.2 124.5h0M372.8 108.3h0M355.5 155.5h0M357.7 110.3h0M360.5 134.8h0M369.1 124.2h0M375.6 133.2h0M368.9 142.0h0M365.2 136.2h0M367.3 136.6h0M372.0 110.7h0M369.8 105.8h0M362.4 115.8h0M376.2 114.4h0M372.1 141.8h0M381.0 128.9h0M368.4 145.3h0M367.7 105.8h0M356.2 107.3h0M370.0 130.8h0M367.5 131.9h0M366.6 113.4h0M357.1 155.2h0M378.9 111.9h0M375.9 150.4h0M359.9 106.8h0M373.5 149.9h0M373.5 134.1h0M366.3 122.8h0M374.4 121.7h0M365.9 131.5h0M372.4 116.4h0M376.5 138.6h0M353.9 123.9h0M356.7 115.8h0M362.2 140.7h0M364.7 132.3h0M368.9 116.0h0M356.5 118.2h0M378.1 126.0h0M366.8 154.1h0M373.3 145.2h0M365.5 145.3h0M364.3 116.9h0M372.6 136.0h0M370.0 145.5h0M355.7 125.5h0M360.1 124.6h0M381.5 107.0h0M368.0 147.8h0M361.0 128.5h0M357.9 130.5h0M357.5 126.0h0M355.9 120.2h0M357.0 139.3h0M377.3 135.7h0M378.0 138.4h0M378.0 110.0h0M353.9 152.9h0M362.9 109.9h0M380.8 112.3h0M376.5 131.1h0M355.5 156.1h0M357.2 151.0h0M354.5 155.1h0M361.3 156.4h0M371.4 120.5h0M372.6 110.1h0M357.9 121.8h0M358.6 154.7h0M355.0 107.7h0M367.4 132.9h0M378.6 106.1h0M367.8 122.7h0M367.7 111.9h0M362.8 147.2h0M354.3 141.4h0M365.9 136.1h0M363.5 145.3h0M379.6 150.2h0M368.4 108.7h0M381.6 143.9h0M380.2 110.2h0M363.5 152.0h0M375.1 148.0h0M367.4 137.6h0M371.7 131.6h0M364.8 139.7h0M373.1 144.7h0M362.5 124.6h0M365.2 122.7h0M371.3 156.2h0M376.2 126.5h0M355.3 144.3h0M360.5 135.3h0M370.0 149.0h0M359.7 152.9h0M365.3 142.4h0M380.2 113.0h0M370.5 122.2h0M365.9 131.6h0M378.1 118.3h0M379.9 107.9h0M376.5 110.4h0M358.0 134.5h0M367.4 129.6h0M369.0 155.2h0M372.5 127.8h0M368.0 139.4h0M364.1 141.2h0M371.3 139.7h0M368.4 111.1h0M369.6 152.0h0M376.4 111.3h0M363.0 119.9h0M364.0 123.4h0M367.2 140.3h0M356.7 125.5h0M381.5 156.0h0M363.7 156.6h0M365.1 152.7h0M381.5 124.9h0M371.4 137.8h0M366.1 146.5h0M365.0 112.4h0M356.0 155.6h0M367.6 115.4h0M369.4 129.2h0M359.9 136.9h0M378.7 138.2h0M365.4 115.2h0M380.4 144.7h0M370.5 150.8h0M376.4 126.0h0M376.8 128.5h0M357.4 144.8h0M367.1 106.9h0M374.0 131.2h0M357.7 143.9h0M370.4 145.1h0M367.9 127.3h0M378.3 134.5h0M372.4 151.5h0M371.8 146.7h0M377.1 116.9h0M380.9 146.0h0M354.6 149.6h0M374.0 111.7h0M378.9 147.2h0M381.4 153.4h0M357.6 113.3h0M376.9 154.8h0M359.9 144.1h0M377.4 154.0h0M367.5 125.6h0M370.5 112.5h0M354.4 137.1h0M370.0 152.9h0M372.5 123.1h0M366.2 128.6h0M364.3 144.6h0M381.1 137.6h0M355.2 133.4h0M354.0 135.1h0M361.4 152.1h0M374.9 144.8h0M361.0 131.9h0M359.9 141.9h0M368.9 127.4h0M366.1 132.4h0M356.7 123.6h0M370.2 145.1h0M354.0 114.4h0M358.1 127.5h0M374.4 136.6h0M363.5 152.1h0M361.8 123.2h0M365.7 126.1h0M368.2 151.7h0M379.4 126.7h0M361.7 154.8h0M360.5 114.2h0M374.4 147.0h0M378.5 156.1h0M360.0 121.8h0M377.9 118.4h0M376.7 130.5h0M374.6 123.5h0M362.1 118.1h0M362.9 149.6h0M374.1 129.3h0M374.8 127.3h0M373.9 114.9h0M362.5 134.9h0M375.5 106.9h0M375.6 152.6h0M375.1 135.7h0M368.9 153.8h0M378.8 134.5h0M362.3 144.7h0M359.3 151.5h0M366.4 131.4h0M381.0 145.9h0M377.6 112.6h0M367.5 112.8h0M364.5 134.8h0M370.0 148.5h0M379.8 151.2h0M369.4 133.6h0M366.2 133.6h0M375.0 152.9h0M372.0 153.6h0M355.0 143.7h0M354.0 145.8h0M355.8 119.0h0M367.6 132.0h0M373.9 131.6h0M380.1 142.4h0M361.3 134.2h0M371.2 138.0h0M381.0 140.9h0M365.3 123.2h0M370.6 143.9h0M354.3 111.8h0M367.4 131.8h0M355.3 152.0h0M380.8 126.0h0M379.8 141.0h0M356.7 118.7h0M357.6 152.6h0M365.5 121.2h0M356.9 139.2h0M370.4 145.1h0M354.4 139.9h0M376.4 114.2h0M368.4 118.6h0M364.3 125.8h0M374.5 155.1h0M380.7 122.9h0M372.5 107.1h0M360.6 110.7h0M365.9 142.9h0M357.8 110.4h0M364.3 133.8h0M372.0 106.5h0M375.3 126.7h0M374.5 117.8h0M367.2 142.7h0M364.9 127.1h0M377.8 131.1h0M365.5 141.1h0M376.3 122.7h0M372.2 106.6h0M377.4 120.6h0M381.5 151.1h0M377.2 145.9h0M372.1 156.0h0M377.2 136.6h0M360.7 113.4h0M369.3 144.0h0M361.4 140.0h0M363.8 110.6h0M356.8 137.6h0M378.3 134.4h0M379.8 108.4h0M357.5 106.6h0M363.6 107.5h0M376.5 106.1h0M357.3 135.7h0M355.1 137.9h0M381.4 139.2h0M371.1 124.3h0M381.3 131.7h0M366.5 107.8h0M369.3 154.9h0M375.6 141.8h0M360.1 118.7h0M356.9 140.4h0M379.3 153.3h0M380.1 147.3h0M354.6 128.8h0M376.5 111.5h0M379.7 139.4h0M363.4 119.8h0M372.5 142.9h0M373.2 112.5h0M371.9 130.4h0M355.9 118.8h0M366.2 151.4h0M367.8 135.0h0M354.6 138.1h0M376.3 147.9h0M366.8 110.1h0M359.3 123.8h0M371.8 115.5h0M380.7 106.2h0M362.3 132.3h0M376.6 133.3h0M361.9 132.1h0M379.5 115.9h0M369.9 150.4h0M363.6 122.1h0M354.7 155.5h0M368.1 139.0h0M362.2 144.0h0M359.3 129.6h0M376.2 107.9h0M364.2 138.0h0M379.3 132.5h0M381.3 131.0h0M366.9 123.4h0M372.2 118.5h0M358.2 138.4h0M368.7 139.9h0M356.6 135.1h0M365.8 136.8h0M354.3 132.8h0M371.9 127.0h0M355.8 108.8h0M377.4 152.5h0M362.9 152.5h0M360.9 138.9h0M358.2 119.3h0M374.1 139.0h0M367.8 146.5h0M358.9 149.0h0M379.5 107.6h0M370.0 110.0h0M364.5 145.0h0M373.4 138.5h0M367.3 112.3h0M358.9 146.4h0M374.9 112.9h0M359.1 127.4h0M379.8 139.4h0M371.3 134.4h0M354.5 147.3h0M357.8 147.2h0M356.3 128.5h0M365.7 156.0h0M374.8 143.9h0M363.2 107.8h0M362.5 107.7h0M362.2 137.3h0M358.2 116.0h0M380.5 134.3h0M354.8 146.7h0M374.3 140.2h0M370.2 131.4h0M377.7 137.1h0M369.7 135.8h0M359.8 150.5h0M361.3 120.2h0M354.4 146.7h0M375.0 116.6h0M380.3 112.8h0M359.2 111.9h0M366.5 117.2h0M364.8 109.2h0M367.7 120.6h0M378.0 150.2h0M371.2 143.7h0M377.3 151.0h0M368.3 106.5h0M360.7 147.9h0M363.8 142.6h0M360.9 135.3h0M376.4 150.5h0M369.4 137.2h0M360.5 109.9h0M379.7 112.8h0M354.3 137.6h0M376.8 151.2h0M358.4 106.3h0M354.5 138.8h0M366.0 110.5h0M354.9 117.0h0M358.7 115.3h0M356.4 154.4h0M358.7 125.0h0M378.8 122.1h0M365.5 132.2h0M380.0 154.5h0M371.8 108.8h0M361.5 126.4h0M372.2 132.4h0M360.1 131.7h0M362.2 144.5h0M370.1 155.1h0M381.5 109.5h0M374.3 126.8h0M359.1 106.0h0M357.2 141.0h0M362.3 152.4h0M367.5 153.6h0M357.1 134.5h0M371.2 151.1h0M365.3 149.1h0M356.3 111.1h0M370.6 152.0h0M377.3 131.5h0M375.2 135.3h0M370.0 126.1h0M360.3 155.7h0M374.3 139.0h0M365.5 137.1h0M377.3 140.5h0M375.8 156.7h0M363.9 142.0h0M365.3 136.9h0M367.7 155.4h0M381.3 149.0h0M374.5 152.2h0M370.4 143.6h0M354.3 128.7h0M379.4 130.1h0M372.2 151.5h0M358.3 117.3h0M363.5 146.4h0M358.7 133.3h0M364.5 150.1h0M381.4 120.9h0M381.2 113.6h0M379.9 119.0h0M364.7 130.1h0M374.8 109.5h0M361.9 106.7h0M373.3 131.3h0M370.5 128.8h0M355.5 113.6h0M354.0 126.7h0M367.9 128.9h0M374.4 105.9h0M366.0 151.6h0M355.6 145.8h0M365.0 147.9h0M356.4 142.1h0M373.4 119.2h0M365.5 138.7h0M355.5 109.8h0M369.1 113.9h0M370.7 138.2h0M370.8 113.6h0M355.8 130.7h0M361.3 130.7h0M380.5 106.5h0M359.5 127.0h0M373.0 125.1h0M379.7 119.7h0M361.6 154.4h0M373.0 142.8h0M378.5 114.6h0M377.8 142.2h0M381.2 117.7h0M361.0 146.3h0M372.6 148.0h0M357.6 143.9h0M366.9 140.7h0M361.9 143.4h0M365.1 112.7h0M367.8 129.2h0M362.6 131.0h0M372.7 151.1h0M378.1 117.8h0M362.2 136.7h0M362.4 139.6h0M358.2 137.6h0M377.4 123.4h0M380.5 128.6h0M360.4 116.6h0M369.6 145.7h0M357.6 134.6h0M355.5 152.7h0M360.5 139.9h0M372.8 109.1h0M378.6 129.6h0M364.0 154.5h0M355.0 144.5h0M358.7 108.5h0M363.9 137.0h0M366.1 119.2h0M360.9 109.0h0M372.3 113.5h0M372.5 120.9h0M376.5 151.2h0M379.7 140.8h0M354.5 139.3h0M368.3 131.5h0M366.3 118.2h0M372.7 154.0h0M375.6 149.2h0M367.8 141.3h0M379.3 136.5h0M366.2 153.9h0M381.5 111.9h0M367.5 149.8h0M357.2 126.5h0M374.0 111.6h0M376.3 124.7h0M359.2 129.5h0M369.8 119.2h0M370.0 114.5h0M370.3 117.6h0M378.0 149.0h0M380.2 115.9h0M356.6 132.4h0M362.3 128.9h0M375.8 130.4h0M366.8 96.7h0M365.0 79.7h0M371.0 97.4h0M373.0 98.0h0M367.8 99.3h0M363.7 93.3h0M365.8 100.2h0M366.2 102.9h0M367.8 94.8h0M367.8 101.5h0M364.1 103.0h0M367.8 89.8h0M371.8 93.5h0M367.8 92.4h0M359.8 101.8h0M369.8 102.1h0M365.8 93.1h0M367.8 76.6h0M369.8 99.8h0M367.8 86.8h0M361.1 105.4h0M368.2 103.7h0M373.6 101.3h0M363.1 104.8h0M369.3 96.2h0M364.7 96.7h0M369.3 88.2h0M372.6 104.9h0M363.8 100.6h0M367.8 80.8h0M375.7 101.7h0M361.8 101.3h0M369.0 78.2h0M369.8 92.9h0M365.3 104.8h0M362.9 97.7h0M360.8 98.0h0M366.6 78.3h0M371.6 100.9h0M370.7 103.9h0M365.8 158.4h0M371.2 162.7h0M367.8 166.0h0M369.5 164.5h0M369.5 161.4h0M367.8 157.7h0M363.4 163.0h0M364.9 161.6h0M368.3 159.7h0M367.0 161.4h0M367.8 163.4h0M372.7 158.0h0M369.8 157.8h0M363.0 158.6h0M367.8 59.3h0M368.8 167.8h0" stroke="#f0837a" stroke-width="2.10" stroke-linecap="round" fill="none"/>
<rect x="353.6" y="127.8" width="28.3" height="17.1" fill="rgba(62,74,88,0.56)"/>
<path d="M367.8 123.9V129.3M367.8 148.9V143.5M360.8 123.9h14M360.8 148.9h14" stroke="#000" stroke-width="2.0" fill="none"/>
<path d="M353.6 136.6h28.3" stroke="#000" stroke-width="2.0" fill="none"/>
<text x="367.8" y="108.1" font-size="11" text-anchor="middle" textLength="20" lengthAdjust="spacingAndGlyphs" fill="#222">****</text>
<path d="M393.3 123.9h0M387.8 119.5h0M410.9 139.6h0M394.4 148.7h0M392.8 133.9h0M408.6 155.6h0M399.7 146.0h0M410.0 129.0h0M400.9 148.7h0M388.3 148.4h0M405.2 125.5h0M412.8 159.6h0M414.4 126.7h0M388.6 140.3h0M391.4 132.5h0M410.9 162.4h0M406.0 144.8h0M401.4 159.9h0M413.6 141.1h0M402.3 121.5h0M412.4 126.6h0M407.6 138.1h0M387.0 159.1h0M387.3 148.9h0M411.6 121.3h0M406.0 137.3h0M396.2 147.3h0M400.6 144.1h0M394.4 120.4h0M394.2 139.8h0M404.0 152.9h0M389.1 149.2h0M392.3 151.4h0M392.6 128.0h0M402.3 134.7h0M405.1 120.2h0M398.8 138.2h0M406.6 123.5h0M409.4 125.8h0M407.0 150.2h0M390.6 162.8h0M401.5 124.9h0M392.0 163.8h0M403.1 133.2h0M399.5 162.2h0M397.5 130.2h0M406.1 131.6h0M413.7 134.3h0M400.2 146.6h0M401.7 156.9h0M395.2 158.7h0M394.7 158.1h0M400.5 135.4h0M407.5 161.4h0M407.5 126.5h0M404.3 143.5h0M407.9 132.7h0M402.1 126.9h0M412.5 137.4h0M392.0 146.6h0M394.6 157.2h0M392.8 163.6h0M400.6 139.1h0M412.2 154.5h0M408.5 134.0h0M401.6 139.1h0M407.3 141.6h0M413.9 133.7h0M392.6 138.3h0M413.3 159.9h0M400.7 132.8h0M393.2 133.1h0M414.4 152.4h0M401.5 119.5h0M411.7 137.3h0M389.1 159.7h0M393.0 161.9h0M386.9 153.8h0M404.8 149.7h0M399.0 138.6h0M414.3 130.1h0M399.6 140.9h0M410.0 156.6h0M402.9 134.1h0M394.4 127.9h0M405.6 137.6h0M406.1 152.2h0M390.5 133.0h0M393.7 158.8h0M409.8 124.3h0M398.8 125.7h0M408.3 147.7h0M413.0 131.8h0M404.8 129.9h0M398.1 154.7h0M387.4 131.9h0M387.6 139.2h0M407.2 157.6h0M413.3 152.0h0M392.5 138.5h0M389.7 151.5h0M400.6 134.0h0M396.6 121.9h0M412.4 128.8h0M388.4 129.9h0M402.1 130.4h0M402.3 132.8h0M410.1 154.1h0M402.7 134.7h0M399.0 131.5h0M403.4 123.5h0M409.8 118.8h0M406.4 144.9h0M397.3 118.1h0M394.9 140.7h0M395.7 154.7h0M401.5 117.9h0M405.3 159.8h0M406.5 137.3h0M392.2 131.9h0M389.0 128.8h0M405.7 118.2h0M388.2 134.0h0M406.1 128.2h0M409.8 134.2h0M387.3 119.4h0M393.1 142.8h0M409.8 150.1h0M414.5 150.2h0M390.5 139.0h0M407.3 154.0h0M394.1 156.0h0M397.9 136.2h0M393.1 125.5h0M404.9 154.5h0M404.3 162.6h0M400.4 151.9h0M411.9 161.5h0M403.6 137.5h0M387.0 157.2h0M414.4 144.2h0M393.8 128.3h0M408.6 152.3h0M391.5 125.3h0M395.5 149.1h0M392.8 156.8h0M411.5 144.5h0M392.5 121.2h0M396.5 120.1h0M387.1 135.9h0M405.5 135.1h0M389.9 146.4h0M402.7 142.2h0M398.0 149.9h0M400.2 123.1h0M391.2 142.1h0M396.7 138.0h0M392.1 156.7h0M389.5 123.6h0M388.0 148.2h0M388.0 120.0h0M389.3 133.8h0M402.3 154.1h0M395.5 127.7h0M399.4 159.9h0M395.8 147.1h0M414.0 119.2h0M387.9 137.6h0M391.3 143.3h0M412.7 137.5h0M399.5 153.9h0M409.9 139.7h0M409.3 126.9h0M393.8 153.9h0M397.8 139.8h0M403.0 134.5h0M396.2 123.3h0M392.3 152.4h0M403.6 144.8h0M391.0 142.3h0M411.6 133.7h0M388.6 125.8h0M388.2 144.5h0M393.6 140.1h0M411.6 162.0h0M407.7 118.4h0M404.9 122.0h0M412.8 156.5h0M402.8 160.8h0M404.2 160.0h0M396.3 122.7h0M413.6 124.8h0M402.9 141.3h0M411.3 151.4h0M400.8 131.6h0M399.0 162.4h0M411.4 146.7h0M390.8 119.9h0M410.2 160.2h0M413.1 145.9h0M386.9 163.1h0M404.8 123.2h0M414.4 139.6h0M389.4 125.8h0M392.6 141.1h0M402.2 158.6h0M400.1 155.7h0M388.3 147.8h0M406.0 160.9h0M394.0 149.9h0M391.4 158.7h0M411.3 130.7h0M397.4 126.0h0M403.8 131.6h0M390.3 156.2h0M411.2 121.6h0M396.5 134.4h0M412.1 146.6h0M411.1 151.2h0M411.8 137.6h0M387.2 146.4h0M404.2 125.0h0M405.6 159.5h0M414.3 154.5h0M397.3 126.6h0M403.0 148.2h0M398.1 153.9h0M400.5 124.4h0M390.4 130.6h0M401.7 144.2h0M389.1 149.4h0M398.7 143.4h0M409.7 120.5h0M394.6 152.0h0M390.3 145.1h0M388.0 140.5h0M399.7 152.5h0M395.8 124.7h0M393.2 162.6h0M390.4 136.9h0M407.5 122.7h0M395.3 162.1h0M391.1 147.4h0M389.7 126.1h0M404.5 149.1h0M407.7 135.2h0M407.7 141.5h0M393.7 146.7h0M406.4 139.9h0M394.9 135.8h0M395.2 118.3h0M393.8 145.6h0M403.2 134.0h0M403.9 136.5h0M411.3 154.8h0M392.1 150.7h0M399.7 162.8h0M402.8 160.2h0M413.5 142.4h0M402.2 121.4h0M393.7 160.7h0M400.1 161.5h0M394.6 139.9h0M391.7 127.4h0M410.2 132.1h0M401.1 152.9h0M387.0 127.2h0M410.2 141.8h0M403.6 118.0h0M403.8 151.9h0M398.1 126.4h0M394.9 128.5h0M389.6 156.7h0M398.6 119.9h0M408.1 128.6h0M387.7 142.9h0M408.1 121.9h0M413.2 152.7h0M393.8 148.8h0M391.1 148.5h0M388.8 137.0h0M387.3 141.6h0M386.8 124.6h0M388.9 119.1h0M397.0 162.5h0M392.7 129.8h0M405.1 126.1h0M408.9 130.8h0M401.9 124.1h0M386.9 127.5h0M414.4 134.3h0M410.0 153.8h0M412.0 138.6h0M412.0 148.7h0M403.2 128.6h0M387.3 132.8h0M410.6 122.7h0M389.5 126.7h0M414.4 138.9h0M400.3 162.5h0M413.2 123.2h0M409.7 126.8h0M392.3 129.8h0M397.8 161.4h0M399.3 146.4h0M397.5 128.8h0M403.8 158.3h0M411.9 119.0h0M391.7 142.1h0M408.3 137.2h0M391.4 159.9h0M400.2 129.4h0M407.7 159.8h0M391.3 123.2h0M392.4 156.8h0M397.4 131.5h0M405.6 132.9h0M407.8 125.3h0M404.8 141.4h0M389.0 161.5h0M389.5 157.6h0M414.2 161.8h0M408.1 149.9h0M413.1 143.0h0M408.0 145.0h0M411.3 144.0h0M398.2 133.6h0M393.7 126.6h0M413.0 127.1h0M398.6 141.3h0M395.8 152.8h0M399.1 154.1h0M403.4 155.9h0M411.1 137.0h0M410.9 124.0h0M397.9 158.8h0M405.9 155.1h0M403.5 134.3h0M412.6 137.8h0M398.5 159.6h0M392.0 154.9h0M392.3 123.1h0M400.6 142.8h0M389.6 142.5h0M396.5 160.4h0M414.4 147.5h0M398.5 144.1h0M410.5 147.0h0M392.9 136.3h0M409.3 158.3h0M412.7 135.1h0M411.3 128.5h0M401.8 150.4h0M405.9 154.3h0M409.8 138.7h0M395.0 140.5h0M399.6 148.4h0M389.6 120.2h0M407.1 135.5h0M400.9 162.9h0M394.8 137.1h0M400.5 122.2h0M398.7 131.1h0M386.8 119.3h0M387.2 129.8h0M405.4 121.5h0M390.5 140.0h0M390.8 136.8h0M389.2 147.3h0M398.2 127.6h0M403.5 125.0h0M386.8 150.9h0M391.4 162.0h0M405.7 135.3h0M400.7 122.3h0M395.3 143.6h0M396.6 151.1h0M408.1 163.4h0M403.7 152.7h0M401.8 139.5h0M388.1 152.8h0M409.6 146.3h0M405.2 150.4h0M406.3 163.3h0M397.1 148.0h0M410.6 126.5h0M400.9 137.8h0M389.3 156.7h0M387.8 132.3h0M387.6 161.1h0M391.2 141.5h0M389.7 120.0h0M389.2 135.5h0M389.4 131.2h0M402.7 134.6h0M406.0 148.2h0M407.1 120.0h0M404.8 140.3h0M389.5 136.8h0M406.0 149.4h0M398.5 134.2h0M411.2 158.3h0M397.9 150.7h0M402.6 136.8h0M395.5 130.6h0M402.9 131.6h0M399.0 157.5h0M408.3 141.9h0M409.5 134.6h0M388.4 143.9h0M402.9 150.1h0M400.7 136.7h0M410.5 136.5h0M392.4 156.2h0M387.7 122.7h0M401.0 155.4h0M396.8 149.9h0M395.7 132.7h0M391.3 161.1h0M397.6 123.9h0M411.1 125.4h0M407.8 146.8h0M399.9 126.2h0M404.4 139.4h0M409.1 147.9h0M391.0 118.9h0M396.6 142.0h0M387.9 142.5h0M414.2 136.6h0M393.6 133.9h0M414.5 126.7h0M413.5 162.3h0M406.9 130.3h0M408.7 126.3h0M393.2 125.4h0M404.7 146.6h0M414.1 162.9h0M388.3 155.5h0M395.2 158.4h0M394.4 131.1h0M393.6 144.8h0M396.9 156.4h0M402.1 146.3h0M390.2 150.8h0M412.0 125.9h0M393.1 118.7h0M413.7 121.4h0M407.6 150.4h0M403.1 119.8h0M389.8 154.1h0M387.1 133.0h0M391.5 152.8h0M398.4 151.1h0M392.0 133.9h0M389.7 142.8h0M403.3 162.0h0M407.5 143.1h0M411.6 154.8h0M386.9 142.5h0M408.0 162.0h0M387.9 121.7h0M406.1 125.6h0M391.4 128.0h0M403.1 156.8h0M405.2 157.1h0M412.5 140.9h0M406.0 160.9h0M387.1 125.1h0M394.3 140.9h0M412.5 149.4h0M398.1 153.8h0M395.0 128.3h0M411.1 149.5h0M390.6 122.1h0M410.5 150.8h0M387.8 147.9h0M399.4 117.9h0M408.0 126.3h0M396.2 121.5h0M400.6 124.7h0M408.2 141.0h0M400.0 132.4h0M400.8 147.3h0M414.4 157.9h0M395.2 138.0h0M404.0 127.9h0M410.3 149.9h0M397.8 154.4h0M401.4 127.7h0M401.5 132.3h0M398.5 123.0h0M406.0 132.8h0M393.1 121.9h0M407.3 122.3h0M414.4 129.5h0M396.7 145.2h0M402.0 126.8h0M400.3 159.3h0M413.8 141.1h0M404.9 131.1h0M408.4 161.5h0M390.2 162.8h0M406.4 142.7h0M400.4 121.2h0M409.4 143.8h0M402.7 105.9h0M398.7 111.9h0M402.4 88.3h0M399.3 101.0h0M400.6 105.6h0M402.9 103.0h0M400.9 102.4h0M402.7 111.2h0M397.6 113.7h0M400.6 111.0h0M400.6 116.0h0M402.1 91.7h0M400.6 94.6h0M404.9 103.3h0M396.1 103.7h0M399.1 96.7h0M397.5 102.2h0M404.0 96.7h0M405.9 114.0h0M400.8 90.1h0M395.5 113.9h0M402.7 108.4h0M404.3 112.7h0M398.7 90.7h0M402.2 100.8h0M399.2 88.7h0M400.6 99.5h0M401.2 96.6h0M399.2 103.7h0M401.3 113.0h0M402.7 95.1h0M400.6 87.2h0M400.6 108.3h0M400.6 75.9h0M400.2 92.5h0M399.8 168.3h0M404.2 165.4h0M398.9 170.9h0M412.2 164.0h0M398.6 164.6h0M397.8 169.0h0M403.8 169.1h0M402.1 167.9h0M400.6 166.4h0M395.8 169.6h0M400.8 170.1h0M402.3 164.5h0M400.6 66.4h0M400.6 173.5h0" stroke="#f0837a" stroke-width="2.10" stroke-linecap="round" fill="none"/>
<rect x="386.5" y="136.2" width="28.3" height="14.7" fill="rgba(62,74,88,0.56)"/>
<path d="M400.6 132.8V137.7M400.6 153.5V149.4M393.6 132.8h14M393.6 153.5h14" stroke="#000" stroke-width="2.0" fill="none"/>
<path d="M386.5 144.0h28.3" stroke="#000" stroke-width="2.0" fill="none"/>
<text x="400.6" y="114.6" font-size="11" text-anchor="middle" textLength="20" lengthAdjust="spacingAndGlyphs" fill="#222">****</text>
<path d="M424.9 137.3h0M435.3 123.1h0M446.6 139.2h0M432.5 131.0h0M425.7 126.5h0M439.6 165.7h0M421.9 125.6h0M430.2 141.2h0M432.1 145.5h0M432.2 139.3h0M441.6 148.5h0M427.9 135.5h0M430.4 159.4h0M420.0 162.7h0M436.2 162.7h0M439.5 137.1h0M446.8 129.5h0M442.0 149.9h0M423.5 126.2h0M434.9 131.1h0M438.3 143.9h0M446.6 135.6h0M436.1 144.1h0M422.4 138.3h0M421.0 164.0h0M438.0 142.9h0M428.5 155.4h0M434.2 145.6h0M436.1 144.6h0M447.2 141.3h0M426.5 133.8h0M441.1 128.1h0M447.0 160.8h0M447.1 134.6h0M428.6 129.1h0M429.8 126.0h0M445.5 152.0h0M424.8 165.0h0M433.4 135.8h0M440.2 131.0h0M432.0 123.3h0M421.8 152.4h0M439.0 153.6h0M421.7 149.2h0M429.9 166.9h0M441.6 145.8h0M427.7 159.4h0M429.7 126.6h0M436.1 165.4h0M442.3 141.1h0M428.9 129.7h0M429.2 160.5h0M428.6 151.9h0M420.7 165.7h0M424.7 130.6h0M426.2 160.9h0M447.2 163.0h0M445.1 162.7h0M424.8 150.4h0M438.2 160.4h0M424.6 128.4h0M446.4 132.2h0M421.7 123.9h0M434.6 134.7h0M429.3 159.5h0M438.8 163.7h0M437.1 148.6h0M429.1 152.9h0M443.7 135.0h0M419.7 136.6h0M441.4 157.1h0M420.3 124.4h0M421.7 124.6h0M438.9 128.0h0M446.0 151.8h0M420.5 140.1h0M443.2 147.2h0M432.3 153.0h0M420.0 162.2h0M438.7 136.8h0M437.3 126.5h0M425.2 128.6h0M446.9 166.1h0M420.4 156.2h0M421.7 143.4h0M438.8 132.7h0M428.7 160.6h0M429.3 129.3h0M447.3 125.3h0M442.4 149.9h0M443.4 132.5h0M429.7 167.8h0M441.3 136.5h0M444.5 157.0h0M424.4 147.3h0M430.6 152.2h0M434.4 153.4h0M443.6 153.2h0M439.8 161.7h0M439.6 149.5h0M431.7 133.8h0M420.3 164.5h0M432.8 141.6h0M420.6 167.9h0M421.7 164.0h0M424.9 128.1h0M439.6 168.3h0M423.2 134.8h0M429.3 132.3h0M444.5 139.4h0M428.2 136.3h0M430.7 137.2h0M427.6 144.8h0M429.2 138.9h0M445.1 133.8h0M426.8 139.2h0M430.7 132.4h0M432.1 168.1h0M429.8 136.9h0M440.1 166.7h0M422.4 147.8h0M420.3 137.1h0M439.6 137.8h0M442.8 160.5h0M427.0 167.0h0M420.1 147.7h0M426.7 150.7h0M445.1 165.8h0M430.5 131.5h0M446.9 153.5h0M441.6 128.5h0M432.8 135.6h0M444.0 161.0h0M442.8 150.5h0M420.2 141.7h0M442.7 140.9h0M438.2 124.0h0M426.9 138.5h0M443.6 123.8h0M422.0 140.9h0M426.7 140.2h0M437.1 164.0h0M435.1 138.5h0M424.9 152.0h0M447.2 158.7h0M442.2 133.1h0M431.2 125.3h0M421.8 157.8h0M438.6 135.4h0M428.5 162.8h0M433.9 140.5h0M431.6 150.8h0M427.8 123.6h0M442.1 166.2h0M447.3 127.4h0M443.0 155.4h0M432.3 138.9h0M438.3 140.3h0M434.4 130.4h0M425.4 141.9h0M437.3 123.5h0M432.5 162.7h0M432.2 135.2h0M428.4 149.7h0M423.7 163.4h0M433.3 151.3h0M426.4 152.0h0M440.0 140.0h0M441.5 152.6h0M419.9 158.7h0M437.1 138.1h0M423.5 164.2h0M431.2 143.1h0M420.3 158.7h0M427.4 154.9h0M426.3 135.8h0M440.7 155.1h0M425.0 143.6h0M422.3 161.8h0M426.4 135.6h0M430.1 165.7h0M425.6 132.8h0M428.5 132.3h0M437.1 134.0h0M439.4 139.1h0M422.4 135.7h0M426.3 150.2h0M423.3 151.4h0M438.2 135.6h0M423.4 140.7h0M442.1 127.2h0M425.7 158.5h0M441.4 135.8h0M423.2 142.0h0M442.8 133.9h0M437.2 137.7h0M446.2 137.1h0M440.9 162.7h0M433.2 143.7h0M422.1 148.6h0M446.5 157.6h0M436.9 131.8h0M443.2 165.0h0M437.5 166.3h0M429.2 143.4h0M432.4 143.1h0M421.3 133.1h0M442.1 159.4h0M435.8 155.5h0M432.5 128.5h0M420.0 167.7h0M427.8 152.8h0M427.0 166.5h0M423.8 128.7h0M446.1 158.4h0M422.2 128.3h0M435.9 125.9h0M442.9 126.6h0M435.1 147.6h0M431.4 136.6h0M426.5 146.6h0M421.1 166.8h0M444.9 154.9h0M420.4 142.1h0M430.9 154.6h0M424.1 149.1h0M422.3 140.1h0M439.1 166.9h0M436.6 152.7h0M443.8 168.4h0M421.2 143.2h0M436.7 164.2h0M433.6 149.2h0M432.1 155.0h0M429.3 167.1h0M441.6 129.3h0M424.2 160.0h0M442.1 136.7h0M430.4 165.5h0M427.2 164.8h0M443.7 167.6h0M425.2 156.2h0M440.3 124.8h0M420.2 138.5h0M428.1 128.3h0M429.7 144.8h0M433.2 160.0h0M433.6 135.6h0M445.1 161.1h0M420.5 152.0h0M445.7 136.0h0M438.5 156.0h0M438.2 125.9h0M432.8 127.0h0M433.6 125.9h0M443.1 167.7h0M439.5 140.0h0M446.0 166.4h0M431.8 152.7h0M421.9 129.0h0M436.4 129.2h0M421.6 123.8h0M447.2 139.0h0M438.0 150.3h0M433.6 156.4h0M427.6 148.6h0M427.0 138.6h0M421.4 159.4h0M433.5 132.9h0M437.2 139.4h0M421.0 139.5h0M420.5 167.8h0M436.1 136.2h0M426.5 152.7h0M446.4 151.3h0M437.9 126.4h0M435.2 124.2h0M431.2 129.5h0M425.3 166.4h0M437.7 148.6h0M424.4 127.3h0M437.5 150.8h0M437.2 146.7h0M423.8 153.8h0M422.6 150.5h0M429.0 149.8h0M441.5 123.7h0M434.9 167.2h0M446.9 146.7h0M422.4 133.8h0M441.9 133.4h0M432.0 147.0h0M433.5 163.3h0M433.1 147.2h0M433.5 162.4h0M443.0 159.6h0M431.1 140.0h0M443.7 143.7h0M436.7 149.1h0M426.9 154.9h0M442.1 131.8h0M432.1 167.2h0M429.2 160.5h0M446.7 155.5h0M435.9 148.7h0M426.4 126.2h0M446.3 164.0h0M419.7 149.8h0M445.2 128.1h0M437.1 146.4h0M429.3 124.2h0M444.6 126.7h0M430.3 148.2h0M440.7 143.9h0M420.2 136.6h0M424.8 125.5h0M429.8 162.5h0M443.8 162.8h0M429.8 127.1h0M422.1 148.2h0M431.0 156.8h0M420.5 133.9h0M426.9 162.7h0M431.6 161.3h0M436.5 157.5h0M421.6 139.4h0M447.3 144.5h0M430.0 139.3h0M440.3 153.0h0M431.3 158.9h0M419.8 153.9h0M440.7 133.8h0M438.3 130.0h0M442.6 143.0h0M425.7 123.6h0M422.8 155.6h0M442.0 147.4h0M446.3 125.6h0M444.5 124.9h0M427.5 142.2h0M436.3 141.6h0M420.8 158.9h0M433.1 165.4h0M443.6 162.2h0M423.2 149.7h0M428.4 139.8h0M426.8 142.9h0M424.2 137.6h0M428.2 129.5h0M435.2 149.6h0M436.1 167.9h0M430.9 150.8h0M429.7 134.4h0M445.7 123.9h0M439.5 146.5h0M431.5 168.6h0M427.1 138.1h0M430.4 136.5h0M446.8 146.8h0M432.5 129.6h0M421.1 154.2h0M426.8 131.0h0M438.6 144.7h0M440.2 142.1h0M434.5 158.3h0M444.5 149.8h0M427.2 157.1h0M441.4 143.6h0M446.5 168.0h0M446.0 166.7h0M442.9 158.6h0M431.6 167.8h0M431.6 127.2h0M421.2 145.9h0M421.0 131.0h0M444.6 149.8h0M422.7 136.8h0M430.6 127.9h0M444.9 160.4h0M436.8 151.3h0M422.7 139.8h0M444.3 143.9h0M425.7 162.8h0M426.6 126.7h0M433.1 126.3h0M428.7 146.7h0M420.0 135.9h0M420.1 147.7h0M446.0 136.0h0M423.7 165.1h0M447.3 165.8h0M432.2 157.3h0M435.0 150.7h0M426.9 125.4h0M425.4 134.7h0M424.8 163.7h0M425.7 143.7h0M444.1 137.5h0M441.6 167.2h0M447.3 153.5h0M440.7 126.8h0M438.6 146.7h0M423.3 145.9h0M424.8 144.4h0M429.3 141.1h0M444.6 140.2h0M441.4 138.9h0M429.5 125.9h0M447.1 148.9h0M419.8 135.8h0M441.5 135.7h0M444.6 136.7h0M438.9 138.2h0M431.3 163.6h0M426.1 129.1h0M424.5 139.2h0M428.5 129.8h0M445.1 148.1h0M420.4 156.5h0M436.4 153.4h0M446.4 151.0h0M435.1 161.0h0M442.1 128.3h0M437.5 154.2h0M444.9 130.8h0M425.4 166.0h0M436.6 148.4h0M442.5 127.4h0M434.7 127.9h0M439.0 152.2h0M445.0 151.6h0M419.8 142.9h0M442.0 124.7h0M436.4 159.3h0M428.1 148.7h0M429.9 123.4h0M420.3 125.7h0M434.5 142.8h0M436.1 140.5h0M439.4 123.6h0M423.7 157.6h0M434.6 137.7h0M424.2 160.9h0M438.0 161.8h0M429.7 163.3h0M442.4 136.4h0M436.8 152.8h0M434.4 153.1h0M443.9 129.0h0M443.4 149.6h0M423.6 123.7h0M445.0 145.9h0M426.2 134.1h0M432.2 135.6h0M434.4 166.5h0M429.2 157.9h0M422.3 165.1h0M445.9 142.9h0M419.7 128.8h0M423.4 151.7h0M440.4 159.1h0M440.3 166.0h0M434.8 165.9h0M442.5 139.4h0M419.9 160.8h0M421.8 140.2h0M428.0 168.3h0M428.9 124.7h0M429.4 166.0h0M437.0 151.6h0M445.1 127.9h0M434.6 153.8h0M438.7 133.3h0M430.8 159.2h0M429.0 163.8h0M444.0 142.0h0M432.7 136.8h0M421.7 165.1h0M446.2 135.2h0M441.2 154.9h0M437.6 127.5h0M444.2 167.7h0M423.8 138.3h0M423.0 136.4h0M422.7 166.7h0M431.6 140.1h0M441.4 163.9h0M427.7 148.5h0M423.1 132.0h0M432.6 133.5h0M440.6 150.7h0M421.5 127.6h0M420.9 149.9h0M424.1 167.9h0M436.3 139.9h0M444.6 140.7h0M436.3 133.3h0M438.5 158.3h0M436.5 133.6h0M433.3 125.0h0M426.3 162.0h0M421.0 158.7h0M444.8 149.7h0M436.7 125.6h0M435.4 164.8h0M431.5 149.0h0M431.8 108.6h0M430.2 110.1h0M433.5 119.6h0M433.5 91.5h0M429.7 121.1h0M433.5 115.3h0M435.6 80.6h0M433.5 77.5h0M433.5 121.8h0M433.5 99.9h0M433.5 82.3h0M433.5 104.2h0M432.3 105.9h0M434.5 101.8h0M437.4 121.1h0M435.6 78.0h0M433.6 107.6h0M435.6 119.9h0M433.2 94.4h0M434.9 93.1h0M431.5 120.0h0M428.4 111.1h0M434.7 109.4h0M435.5 95.1h0M436.8 109.5h0M435.6 104.4h0M438.7 110.3h0M433.0 110.6h0M432.4 102.1h0M433.5 80.1h0M434.8 171.6h0M432.9 172.6h0M430.8 172.9h0M428.8 173.4h0M436.7 169.9h0M433.5 169.9h0M436.8 172.2h0M435.5 175.6h0M431.6 170.7h0M433.5 174.7h0M433.5 48.6h0M432.0 176.1h0" stroke="#f0837a" stroke-width="2.10" stroke-linecap="round" fill="none"/>
<rect x="419.4" y="138.9" width="28.3" height="14.6" fill="rgba(62,74,88,0.56)"/>
<path d="M433.5 135.7V140.4M433.5 157.1V152.0M426.5 135.7h14M426.5 157.1h14" stroke="#000" stroke-width="2.0" fill="none"/>
<path d="M419.4 146.0h28.3" stroke="#000" stroke-width="2.0" fill="none"/>
<text x="433.5" y="121.4" font-size="11" text-anchor="middle" textLength="20" lengthAdjust="spacingAndGlyphs" fill="#222">****</text>
<path d="M285.5 121.9H450.0" stroke="#000" stroke-width="2" stroke-dasharray="5.6,4.4" fill="none"/>
<rect x="285.5" y="41.5" width="164.5" height="160.6" fill="none" stroke="#222" stroke-width="1.1"/>
<path d="M282.0 202.1H285.5" stroke="#222" stroke-width="1"/>
<text x="279.5" y="206.2" font-size="11.5" text-anchor="end" textLength="28.75" lengthAdjust="spacingAndGlyphs">0.000</text>
<path d="M282.0 184.2H285.5" stroke="#222" stroke-width="1"/>
<text x="279.5" y="188.4" font-size="11.5" text-anchor="end" textLength="28.75" lengthAdjust="spacingAndGlyphs">0.025</text>
<path d="M282.0 166.4H285.5" stroke="#222" stroke-width="1"/>
<text x="279.5" y="170.5" font-size="11.5" text-anchor="end" textLength="28.75" lengthAdjust="spacingAndGlyphs">0.050</text>
<path d="M282.0 148.6H285.5" stroke="#222" stroke-width="1"/>
<text x="279.5" y="152.7" font-size="11.5" text-anchor="end" textLength="28.75" lengthAdjust="spacingAndGlyphs">0.075</text>
<path d="M282.0 130.7H285.5" stroke="#222" stroke-width="1"/>
<text x="279.5" y="134.8" font-size="11.5" text-anchor="end" textLength="28.75" lengthAdjust="spacingAndGlyphs">0.100</text>
<path d="M282.0 112.8H285.5" stroke="#222" stroke-width="1"/>
<text x="279.5" y="117.0" font-size="11.5" text-anchor="end" textLength="28.75" lengthAdjust="spacingAndGlyphs">0.125</text>
<path d="M282.0 95.0H285.5" stroke="#222" stroke-width="1"/>
<text x="279.5" y="99.1" font-size="11.5" text-anchor="end" textLength="28.75" lengthAdjust="spacingAndGlyphs">0.150</text>
<path d="M282.0 77.2H285.5" stroke="#222" stroke-width="1"/>
<text x="279.5" y="81.3" font-size="11.5" text-anchor="end" textLength="28.75" lengthAdjust="spacingAndGlyphs">0.175</text>
<path d="M282.0 59.3H285.5" stroke="#222" stroke-width="1"/>
<text x="279.5" y="63.4" font-size="11.5" text-anchor="end" textLength="28.75" lengthAdjust="spacingAndGlyphs">0.200</text>
<path d="M301.9 202.1v3.5" stroke="#222" stroke-width="1"/>
<path d="M334.9 202.1v3.5" stroke="#222" stroke-width="1"/>
<path d="M367.8 202.1v3.5" stroke="#222" stroke-width="1"/>
<path d="M400.6 202.1v3.5" stroke="#222" stroke-width="1"/>
<path d="M433.5 202.1v3.5" stroke="#222" stroke-width="1"/>
<text transform="translate(256.2 19.9) scale(1.22 1)" font-size="22" fill="#111">b</text>
<text x="295.2" y="36.9" font-size="15" textLength="144.5" lengthAdjust="spacingAndGlyphs">PC3 - Neutral Lipids</text>
<text x="243.0" y="121.5" font-size="13.5" text-anchor="middle" textLength="177.5" lengthAdjust="spacingAndGlyphs" transform="rotate(-90 243.0 121.5)">Mean Nile Red Intensity/Cell</text>
<text x="280.4" y="224.0" font-size="10.5" text-anchor="end">Leu</text>
<path d="M297.0 220.2h7M300.5 216.7v7" stroke="#000" stroke-width="1.3" fill="none"/>
<path d="M330.1 220.2h8.6" stroke="#e8211f" stroke-width="2.1" fill="none"/>
<path d="M364.2 220.2h7M367.7 216.7v7" stroke="#000" stroke-width="1.3" fill="none"/>
<path d="M397.4 220.2h7M400.9 216.7v7" stroke="#000" stroke-width="1.3" fill="none"/>
<path d="M428.9 220.2h8.6" stroke="#e8211f" stroke-width="2.1" fill="none"/>
<text x="280.4" y="243.4" font-size="10.5" text-anchor="end">Ile</text>
<path d="M297.0 239.6h7M300.5 236.1v7" stroke="#000" stroke-width="1.3" fill="none"/>
<path d="M330.9 239.6h7M334.4 236.1v7" stroke="#000" stroke-width="1.3" fill="none"/>
<path d="M363.4 239.6h8.6" stroke="#e8211f" stroke-width="2.1" fill="none"/>
<path d="M397.4 239.6h7M400.9 236.1v7" stroke="#000" stroke-width="1.3" fill="none"/>
<path d="M428.9 239.6h8.6" stroke="#e8211f" stroke-width="2.1" fill="none"/>
<text x="280.4" y="263.2" font-size="10.5" text-anchor="end">Val</text>
<path d="M297.0 259.4h7M300.5 255.9v7" stroke="#000" stroke-width="1.3" fill="none"/>
<path d="M330.9 259.4h7M334.4 255.9v7" stroke="#000" stroke-width="1.3" fill="none"/>
<path d="M364.2 259.4h7M367.7 255.9v7" stroke="#000" stroke-width="1.3" fill="none"/>
<path d="M396.6 259.4h8.6" stroke="#e8211f" stroke-width="2.1" fill="none"/>
<path d="M428.9 259.4h8.6" stroke="#e8211f" stroke-width="2.1" fill="none"/>
<path d="M521.6 105.2h0M526.7 110.3h0M541.4 111.2h0M532.5 114.5h0M546.0 126.7h0M525.1 117.2h0M528.1 118.9h0M548.6 130.3h0M523.5 114.5h0M546.7 129.3h0M541.5 117.1h0M543.3 125.8h0M538.3 134.2h0M522.9 103.6h0M546.8 106.3h0M544.1 105.5h0M543.0 108.1h0M545.7 133.1h0M523.3 127.4h0M525.3 128.4h0M524.2 110.0h0M532.7 136.8h0M524.3 121.9h0M546.2 105.6h0M524.6 122.9h0M536.8 103.3h0M531.3 101.1h0M526.2 110.4h0M529.7 126.8h0M538.1 126.0h0M530.5 123.5h0M544.2 110.7h0M548.0 111.5h0M535.7 108.9h0M540.4 103.4h0M540.2 134.8h0M548.9 125.3h0M534.5 129.2h0M530.8 132.1h0M545.3 106.1h0M540.8 128.8h0M525.8 101.2h0M545.8 124.0h0M533.3 121.1h0M543.0 107.3h0M535.2 101.9h0M543.6 102.3h0M521.8 123.5h0M529.6 106.6h0M528.9 131.5h0M540.1 115.2h0M522.3 135.9h0M536.9 132.6h0M532.2 130.8h0M533.2 126.9h0M523.9 102.4h0M522.5 123.4h0M541.0 103.3h0M528.2 122.5h0M533.5 132.2h0M546.5 105.9h0M547.1 101.6h0M547.3 123.8h0M540.4 122.5h0M545.0 101.4h0M535.4 111.3h0M539.1 101.2h0M533.6 122.8h0M546.9 117.9h0M542.8 113.1h0M535.6 105.3h0M534.4 113.7h0M538.2 106.1h0M529.1 104.1h0M537.2 115.5h0M531.4 102.3h0M526.2 130.8h0M536.0 129.4h0M541.7 120.9h0M526.0 106.9h0M542.8 112.0h0M529.3 120.7h0M545.7 117.2h0M542.0 119.3h0M548.9 106.0h0M539.0 131.9h0M542.9 108.6h0M531.8 128.4h0M537.0 115.3h0M546.9 114.7h0M533.7 109.6h0M544.7 128.7h0M522.9 106.9h0M540.6 110.8h0M527.4 127.9h0M539.3 115.1h0M531.4 120.2h0M527.6 105.8h0M526.5 136.1h0M544.6 109.8h0M537.2 117.3h0M529.3 133.6h0M543.3 121.6h0M544.3 110.6h0M547.2 114.0h0M547.4 109.9h0M546.5 124.4h0M529.7 118.1h0M543.9 125.7h0M528.8 109.4h0M530.3 110.0h0M545.1 103.4h0M522.1 124.5h0M543.6 124.3h0M521.3 109.8h0M548.9 135.6h0M523.0 117.6h0M526.4 112.3h0M523.1 119.7h0M548.3 121.1h0M532.2 111.0h0M535.1 133.7h0M527.6 107.2h0M540.3 106.1h0M538.2 113.5h0M524.8 136.3h0M535.1 125.9h0M541.1 136.9h0M532.7 130.3h0M537.3 123.5h0M525.7 118.6h0M548.5 110.8h0M545.9 112.0h0M526.7 109.4h0M533.8 110.5h0M534.1 109.8h0M545.9 136.7h0M544.2 124.0h0M548.5 103.8h0M530.5 123.0h0M528.2 135.9h0M531.6 137.3h0M542.0 107.7h0M528.6 125.7h0M521.6 125.7h0M525.2 107.9h0M544.9 107.6h0M530.7 122.3h0M543.5 110.9h0M532.0 133.9h0M546.9 105.8h0M522.4 107.3h0M539.8 107.7h0M533.4 105.4h0M527.0 120.7h0M525.5 102.9h0M535.4 122.1h0M533.8 112.7h0M535.8 126.7h0M541.7 134.2h0M526.7 129.4h0M534.1 135.7h0M542.9 117.3h0M527.0 104.7h0M530.1 102.3h0M523.7 101.4h0M532.3 116.6h0M542.0 137.1h0M544.8 134.8h0M522.5 123.6h0M524.8 106.1h0M528.3 113.4h0M548.7 127.5h0M539.8 114.9h0M521.3 118.8h0M542.5 107.7h0M548.9 119.1h0M530.2 125.7h0M548.4 108.0h0M542.3 123.0h0M543.2 129.0h0M529.0 137.1h0M536.4 110.5h0M538.8 121.2h0M543.8 121.2h0M541.6 105.8h0M541.4 130.8h0M542.7 122.2h0M526.9 118.4h0M531.5 125.6h0M530.3 136.4h0M536.5 107.0h0M525.9 125.4h0M543.0 127.6h0M542.4 122.2h0M530.1 106.0h0M526.4 134.7h0M546.7 127.0h0M533.7 135.3h0M527.6 115.1h0M537.9 130.2h0M523.1 125.0h0M543.0 130.9h0M540.6 132.4h0M534.3 120.6h0M542.7 132.1h0M538.4 116.1h0M548.4 106.9h0M525.0 105.3h0M543.1 103.4h0M536.3 132.0h0M524.7 132.3h0M537.6 111.1h0M521.2 121.6h0M532.9 124.0h0M536.2 135.1h0M546.2 120.2h0M526.1 120.8h0M542.9 101.1h0M541.0 102.1h0M521.3 127.8h0M527.6 113.9h0M536.3 130.8h0M539.9 127.2h0M534.7 120.9h0M522.9 111.8h0M530.7 126.2h0M545.5 103.3h0M524.3 123.5h0M548.9 115.4h0M543.0 127.5h0M542.7 103.9h0M524.9 123.6h0M528.7 111.9h0M530.7 106.5h0M541.7 124.8h0M529.5 116.9h0M530.6 108.4h0M527.9 117.8h0M524.6 109.9h0M547.0 118.1h0M525.0 105.2h0M538.0 136.3h0M529.9 136.7h0M541.0 124.4h0M547.3 108.9h0M533.5 137.0h0M527.3 132.8h0M521.3 133.9h0M540.0 104.0h0M522.2 102.2h0M543.8 134.3h0M527.0 110.1h0M542.8 128.8h0M533.3 132.3h0M540.3 134.4h0M539.2 112.5h0M525.6 118.2h0M544.0 102.7h0M541.3 110.3h0M522.0 125.7h0M544.4 132.2h0M523.4 110.5h0M534.7 128.4h0M539.3 137.1h0M545.5 122.4h0M533.9 115.1h0M535.5 121.4h0M547.8 108.2h0M545.3 113.2h0M529.4 101.8h0M527.5 106.1h0M530.3 118.4h0M525.6 114.2h0M535.9 108.5h0M544.8 110.3h0M542.0 127.5h0M542.1 103.5h0M548.8 102.7h0M538.7 118.0h0M536.2 119.7h0M547.9 135.9h0M537.0 100.8h0M532.9 118.8h0M547.8 123.5h0M547.3 130.8h0M534.5 120.9h0M539.9 106.8h0M535.1 116.8h0M527.0 130.3h0M528.6 106.1h0M540.5 129.0h0M546.0 106.4h0M543.6 117.2h0M539.0 120.0h0M537.9 110.4h0M527.2 117.2h0M540.1 121.1h0M547.4 123.8h0M531.2 112.8h0M540.0 120.0h0M529.1 111.7h0M538.6 102.1h0M535.7 137.2h0M548.8 131.1h0M524.9 136.1h0M521.7 102.0h0M542.0 128.8h0M540.7 125.2h0M534.4 107.3h0M537.3 128.1h0M534.2 135.7h0M544.4 119.1h0M545.5 130.5h0M522.9 132.3h0M530.2 135.6h0M538.2 119.0h0M539.7 102.8h0M540.6 109.6h0M537.2 106.6h0M540.0 129.3h0M525.9 123.9h0M531.8 108.4h0M537.8 123.3h0M536.7 110.0h0M546.7 103.2h0M534.9 104.0h0M534.5 124.1h0M527.4 102.5h0M536.8 107.8h0M522.3 111.8h0M530.0 112.9h0M531.3 107.2h0M531.3 120.3h0M540.2 125.0h0M529.2 127.7h0M522.8 124.3h0M548.2 127.7h0M548.3 133.2h0M531.4 104.3h0M536.8 111.8h0M524.3 110.3h0M541.8 135.9h0M523.2 102.2h0M544.9 103.4h0M543.8 136.7h0M525.1 111.9h0M531.3 131.2h0M548.2 122.7h0M523.9 119.6h0M532.3 135.3h0M535.7 113.6h0M542.3 103.8h0M534.9 118.1h0M522.1 130.3h0M540.0 122.6h0M544.9 124.9h0M525.1 126.3h0M530.5 130.0h0M524.9 132.6h0M547.8 117.2h0M537.4 104.3h0M530.9 135.7h0M536.1 107.7h0M536.2 125.3h0M530.5 115.0h0M527.2 136.4h0M523.7 136.4h0M543.3 108.1h0M524.2 130.2h0M539.9 124.3h0M547.9 122.1h0M521.4 107.2h0M536.1 122.2h0M538.6 109.0h0M539.9 124.8h0M534.5 122.2h0M534.5 130.6h0M541.5 113.5h0M530.6 107.5h0M521.8 132.1h0M548.4 112.1h0M528.9 124.8h0M540.7 115.2h0M541.2 117.4h0M533.5 103.2h0M546.9 134.9h0M522.6 120.0h0M521.6 132.0h0M523.7 134.3h0M523.8 112.4h0M521.2 113.6h0M546.3 132.4h0M521.8 115.8h0M539.5 105.6h0M522.9 108.5h0M527.8 127.7h0M526.7 125.8h0M523.3 107.7h0M543.8 115.0h0M535.6 110.5h0M535.0 78.6h0M527.7 100.3h0M531.7 94.2h0M529.6 99.4h0M531.1 90.5h0M537.2 98.5h0M537.1 89.7h0M539.1 96.0h0M536.6 85.3h0M538.8 93.5h0M535.1 89.1h0M533.0 92.6h0M530.3 96.6h0M535.1 72.6h0M539.2 99.1h0M537.0 87.5h0M540.7 94.5h0M529.6 94.3h0M535.1 92.2h0M533.2 89.9h0M537.2 92.2h0M535.1 86.7h0M536.5 77.2h0M541.2 99.9h0M535.9 94.1h0M531.6 99.0h0M532.3 96.2h0M533.7 98.4h0M535.5 97.3h0M534.3 95.6h0M533.4 100.8h0M537.0 95.9h0M535.1 83.8h0M535.1 75.7h0M535.3 99.7h0M526.3 138.3h0M530.5 139.1h0M538.4 140.2h0M532.7 139.9h0M540.5 140.6h0M535.1 144.7h0M537.4 138.4h0M534.6 139.0h0M536.1 140.5h0M534.3 141.6h0M537.1 145.4h0M536.6 142.6h0M544.2 138.7h0M532.6 142.8h0M535.1 62.7h0M535.1 148.8h0" stroke="#f0837a" stroke-width="2.10" stroke-linecap="round" fill="none"/>
<rect x="520.9" y="115.0" width="28.3" height="12.6" fill="rgba(62,74,88,0.56)"/>
<path d="M535.1 112.0V116.5M535.1 130.1V126.1M528.1 112.0h14M528.1 130.1h14" stroke="#000" stroke-width="2.0" fill="none"/>
<path d="M520.9 122.2h28.3" stroke="#000" stroke-width="2.0" fill="none"/>
<path d="M569.8 160.4h0M580.3 139.8h0M567.4 128.3h0M580.6 157.1h0M558.4 160.4h0M556.1 130.1h0M556.3 125.2h0M576.4 129.3h0M565.4 140.0h0M580.1 162.2h0M572.4 167.4h0M578.6 136.1h0M562.0 142.2h0M581.3 160.1h0M581.8 149.7h0M573.0 128.3h0M558.6 133.1h0M566.2 132.1h0M557.8 156.5h0M578.8 133.5h0M566.7 133.4h0M571.2 154.1h0M556.7 132.2h0M579.9 162.6h0M561.6 125.6h0M579.8 125.1h0M576.5 168.2h0M568.4 166.7h0M581.6 162.2h0M577.8 168.7h0M565.6 153.5h0M562.7 163.5h0M560.4 154.0h0M570.7 156.6h0M570.1 142.2h0M566.5 139.3h0M573.8 162.4h0M569.9 132.2h0M559.7 153.1h0M566.4 149.7h0M570.8 127.9h0M571.8 161.9h0M581.4 153.8h0M569.1 160.1h0M566.9 156.6h0M558.0 145.9h0M555.5 150.8h0M554.7 125.4h0M561.4 159.1h0M581.1 151.7h0M560.1 158.0h0M566.1 154.5h0M566.9 167.5h0M576.2 166.9h0M566.0 150.3h0M580.1 165.0h0M580.2 167.9h0M571.7 143.0h0M569.4 163.7h0M580.3 149.1h0M575.5 133.7h0M573.1 138.6h0M570.1 137.9h0M571.1 144.8h0M555.9 133.9h0M555.6 147.2h0M579.6 139.3h0M577.6 141.5h0M569.3 129.3h0M556.0 162.5h0M554.9 157.6h0M555.9 141.0h0M570.4 165.5h0M561.6 163.2h0M566.2 167.2h0M577.3 126.7h0M576.0 136.1h0M571.8 148.8h0M578.3 167.1h0M573.1 141.5h0M579.1 143.1h0M555.6 151.0h0M566.3 129.8h0M581.8 127.3h0M574.9 142.1h0M555.3 142.2h0M576.4 124.8h0M573.8 137.1h0M573.3 143.9h0M559.9 156.1h0M555.1 143.8h0M556.2 125.1h0M565.3 136.5h0M558.2 129.1h0M557.0 142.5h0M563.7 138.8h0M575.9 153.0h0M560.2 168.6h0M579.2 131.4h0M559.3 148.2h0M571.8 158.8h0M559.5 140.6h0M581.3 129.5h0M557.3 141.8h0M565.4 127.6h0M568.3 155.6h0M570.1 169.1h0M572.9 131.8h0M557.3 148.6h0M564.2 134.1h0M561.6 152.8h0M557.1 168.8h0M578.3 150.1h0M554.5 131.5h0M568.0 124.2h0M572.1 137.1h0M554.5 160.6h0M569.1 140.4h0M565.3 169.1h0M578.8 155.9h0M574.3 124.7h0M573.9 158.3h0M564.0 141.4h0M579.2 156.8h0M566.3 150.0h0M576.0 168.7h0M580.5 125.6h0M554.3 164.0h0M572.2 163.9h0M568.8 167.1h0M572.6 155.6h0M554.2 135.9h0M580.0 131.7h0M558.2 150.5h0M572.0 128.4h0M577.8 139.7h0M577.6 138.9h0M554.4 167.7h0M561.8 150.3h0M573.1 160.2h0M554.9 141.9h0M562.3 145.6h0M562.6 125.5h0M560.7 164.3h0M575.3 151.8h0M573.5 150.3h0M563.9 153.3h0M559.5 144.0h0M581.1 142.1h0M580.7 131.8h0M560.3 141.6h0M568.8 147.0h0M569.2 140.2h0M577.2 132.1h0M568.6 144.5h0M556.0 128.1h0M570.0 156.9h0M562.2 161.6h0M581.8 158.8h0M568.2 167.4h0M571.1 156.8h0M576.6 135.5h0M574.2 168.5h0M575.6 145.1h0M568.0 169.5h0M577.6 152.2h0M580.6 162.9h0M562.1 156.9h0M581.4 139.6h0M581.3 130.1h0M565.3 137.4h0M555.3 159.0h0M570.8 125.4h0M557.9 140.3h0M577.7 163.4h0M567.8 160.2h0M554.2 154.2h0M560.3 157.5h0M556.3 129.8h0M555.7 134.4h0M566.5 125.8h0M561.6 125.5h0M570.8 150.6h0M569.5 152.5h0M555.8 162.5h0M564.5 145.6h0M565.7 135.6h0M576.1 145.6h0M558.8 166.0h0M558.8 161.6h0M581.9 138.2h0M574.8 141.7h0M568.3 138.3h0M557.5 144.6h0M581.4 159.5h0M569.3 161.8h0M566.6 139.9h0M555.5 154.3h0M568.6 137.1h0M563.1 161.1h0M569.8 162.9h0M562.7 164.3h0M568.3 155.2h0M558.6 136.7h0M558.5 168.7h0M577.5 159.7h0M555.9 152.8h0M557.8 126.8h0M567.8 151.3h0M571.7 140.8h0M581.6 146.8h0M557.7 156.4h0M560.6 143.7h0M577.5 144.1h0M564.7 161.5h0M579.7 165.4h0M563.9 124.6h0M580.7 154.8h0M577.0 141.2h0M558.4 156.8h0M568.0 133.3h0M558.2 130.8h0M554.5 152.1h0M578.3 133.8h0M567.6 153.5h0M556.9 136.2h0M563.8 136.1h0M558.3 156.8h0M569.3 167.6h0M579.3 126.7h0M561.7 168.9h0M569.7 144.4h0M563.7 158.2h0M574.3 145.0h0M575.2 150.0h0M556.1 151.7h0M566.5 140.4h0M565.8 163.3h0M567.3 150.2h0M570.1 124.5h0M573.2 160.2h0M573.5 153.3h0M571.3 153.6h0M579.9 125.0h0M577.5 165.0h0M556.8 165.0h0M566.0 124.5h0M562.6 159.7h0M567.8 135.4h0M568.1 131.1h0M571.2 134.4h0M573.8 126.9h0M561.1 136.6h0M555.8 145.8h0M564.0 128.2h0M570.5 142.3h0M557.6 155.7h0M566.6 145.3h0M579.8 168.9h0M575.6 151.3h0M579.2 150.8h0M560.3 146.3h0M578.9 147.5h0M575.2 131.6h0M568.6 160.0h0M558.8 166.5h0M572.8 145.5h0M555.4 137.4h0M573.2 130.6h0M579.6 137.1h0M575.9 136.9h0M580.4 151.9h0M568.4 161.6h0M554.7 143.8h0M558.1 142.2h0M564.5 156.2h0M577.4 160.9h0M569.3 164.2h0M567.9 126.0h0M555.9 159.7h0M564.7 147.8h0M560.1 131.6h0M559.7 159.6h0M580.6 124.9h0M556.3 134.0h0M567.2 159.7h0M557.0 158.5h0M562.2 155.2h0M556.2 137.9h0M563.4 129.9h0M555.2 132.4h0M569.4 149.0h0M573.0 146.8h0M573.6 149.6h0M576.6 148.9h0M562.6 135.4h0M558.2 130.1h0M569.6 138.0h0M562.6 144.4h0M564.4 162.2h0M556.2 166.4h0M569.5 146.4h0M576.0 162.7h0M578.7 150.4h0M562.1 137.4h0M575.0 147.5h0M565.1 128.5h0M572.2 124.6h0M568.9 126.3h0M566.8 147.4h0M573.5 142.7h0M569.8 125.5h0M562.0 128.8h0M566.5 158.6h0M565.1 150.8h0M565.8 152.3h0M558.0 141.7h0M577.7 141.1h0M577.9 136.8h0M581.7 144.4h0M568.1 159.1h0M573.5 164.2h0M570.0 159.8h0M566.8 148.4h0M570.8 159.7h0M569.3 155.1h0M581.6 142.1h0M567.6 153.9h0M559.3 152.0h0M563.1 165.2h0M573.8 149.3h0M556.8 160.6h0M566.4 129.7h0M555.3 165.4h0M579.2 129.2h0M563.1 164.3h0M559.4 138.9h0M573.1 132.8h0M564.5 165.9h0M581.9 133.1h0M562.2 155.1h0M567.0 140.9h0M576.5 143.5h0M563.6 167.9h0M573.2 151.5h0M563.0 131.0h0M555.7 156.4h0M572.9 132.3h0M573.5 130.6h0M560.8 136.5h0M557.4 137.3h0M560.0 162.3h0M575.1 145.3h0M559.7 124.8h0M561.4 166.9h0M566.3 156.9h0M574.3 134.9h0M560.7 134.3h0M567.7 155.2h0M575.4 161.0h0M578.5 145.3h0M558.7 136.7h0M579.1 143.7h0M573.9 157.3h0M561.8 124.7h0M557.2 125.6h0M575.3 131.0h0M566.5 141.1h0M579.6 159.0h0M575.8 144.4h0M563.7 158.9h0M566.9 160.8h0M563.7 143.3h0M557.6 124.8h0M572.8 135.1h0M581.0 141.7h0M563.7 152.6h0M564.5 136.4h0M563.0 133.3h0M573.1 126.5h0M565.6 143.8h0M557.7 126.9h0M554.8 167.1h0M561.0 161.4h0M578.2 141.2h0M569.8 136.0h0M579.0 153.7h0M578.0 143.8h0M570.4 138.1h0M555.5 124.8h0M566.5 163.3h0M574.4 159.2h0M561.4 126.3h0M563.3 145.7h0M580.4 156.4h0M574.6 150.2h0M560.0 127.9h0M576.6 163.0h0M561.1 149.5h0M563.7 140.9h0M574.2 166.2h0M575.6 160.9h0M575.0 129.0h0M568.9 149.3h0M554.2 129.2h0M567.5 161.6h0M563.0 150.4h0M564.3 149.9h0M565.3 125.3h0M564.9 132.5h0M563.5 160.1h0M566.7 142.6h0M555.3 145.8h0M575.5 157.9h0M579.1 161.5h0M562.5 140.5h0M580.4 134.9h0M577.5 126.9h0M578.8 136.5h0M560.0 125.2h0M581.9 169.2h0M565.5 160.6h0M561.5 138.6h0M572.5 139.8h0M571.6 151.5h0M559.2 154.6h0M580.4 146.3h0M567.4 157.0h0M570.8 146.9h0M555.5 134.2h0M578.6 147.5h0M574.7 139.9h0M577.1 154.7h0M557.7 153.9h0M566.3 125.0h0M581.5 140.0h0M572.0 159.4h0M572.5 151.6h0M573.9 164.1h0M575.3 162.9h0M557.4 168.1h0M559.8 136.7h0M579.2 161.0h0M556.0 156.5h0M563.1 165.6h0M576.0 156.7h0M578.2 164.2h0M572.0 132.4h0M573.8 152.7h0M577.8 160.5h0M558.1 144.9h0M581.2 136.2h0M566.5 155.6h0M562.8 126.4h0M556.6 138.3h0M555.1 149.2h0M571.5 165.5h0M568.6 158.8h0M567.8 164.2h0M564.7 153.2h0M578.2 129.5h0M565.2 137.1h0M581.7 166.3h0M562.0 158.2h0M559.0 150.1h0M558.8 135.2h0M571.7 136.9h0M567.8 143.5h0M574.8 155.0h0M573.1 131.7h0M564.9 163.2h0M562.6 148.1h0M575.8 162.6h0M571.7 160.6h0M564.1 154.1h0M559.4 125.5h0M565.3 130.1h0M576.0 164.4h0M578.5 124.8h0M577.6 158.2h0M569.3 133.7h0M559.2 165.8h0M575.2 126.6h0M566.9 165.2h0M571.4 137.9h0M575.7 138.0h0M581.1 144.2h0M571.1 130.4h0M554.6 139.3h0M560.7 129.6h0M581.6 159.1h0M560.9 150.7h0M577.4 128.2h0M577.2 145.8h0M569.0 126.9h0M561.1 132.2h0M558.4 163.7h0M566.8 139.7h0M573.5 134.8h0M571.0 168.0h0M568.0 95.6h0M568.0 90.0h0M566.3 106.1h0M569.7 100.7h0M568.0 118.4h0M568.0 115.7h0M567.0 101.6h0M568.0 81.4h0M566.4 98.0h0M570.0 105.8h0M568.0 113.1h0M568.4 97.6h0M568.0 105.0h0M570.3 121.0h0M569.9 88.4h0M566.3 119.5h0M568.0 87.4h0M568.0 84.7h0M570.1 116.2h0M567.9 99.7h0M570.1 118.9h0M568.0 109.3h0M568.3 120.5h0M564.2 119.6h0M568.0 73.3h0M563.5 170.1h0M560.7 170.8h0M566.1 179.2h0M569.3 171.2h0M568.0 178.4h0M575.0 170.5h0M569.0 173.9h0M570.1 178.5h0M572.2 169.7h0M565.2 175.8h0M555.9 170.5h0M570.9 174.9h0M567.6 172.4h0M567.1 174.9h0M568.0 54.7h0M571.8 179.8h0" stroke="#f0837a" stroke-width="2.10" stroke-linecap="round" fill="none"/>
<rect x="553.9" y="145.0" width="28.3" height="13.6" fill="rgba(62,74,88,0.56)"/>
<path d="M568.0 141.3V146.5M568.0 161.6V157.1M561.0 141.3h14M561.0 161.6h14" stroke="#000" stroke-width="2.0" fill="none"/>
<path d="M553.9 152.1h28.3" stroke="#000" stroke-width="2.0" fill="none"/>
<text x="568.0" y="121.0" font-size="11" text-anchor="middle" textLength="20" lengthAdjust="spacingAndGlyphs" fill="#222">****</text>
<path d="M600.0 142.2h0M602.0 136.9h0M595.6 147.5h0M610.9 157.5h0M607.4 156.0h0M599.6 136.7h0M591.2 124.4h0M590.1 118.8h0M606.2 156.7h0M608.0 139.8h0M596.2 152.3h0M608.7 134.6h0M609.5 128.5h0M604.1 157.2h0M591.0 124.3h0M593.9 121.6h0M607.1 141.1h0M608.1 156.7h0M594.8 130.1h0M594.3 152.4h0M608.2 152.6h0M597.3 116.7h0M608.8 130.6h0M606.8 122.1h0M600.0 119.3h0M601.4 128.2h0M607.8 151.3h0M602.4 136.8h0M590.6 128.1h0M593.3 150.1h0M603.2 142.7h0M594.0 153.5h0M595.9 139.9h0M592.1 122.2h0M606.7 148.9h0M608.8 124.3h0M596.3 128.7h0M602.3 124.2h0M607.3 142.1h0M605.2 147.0h0M607.2 142.3h0M595.7 146.2h0M603.8 151.2h0M589.7 142.4h0M593.7 125.3h0M610.0 120.4h0M588.0 119.0h0M592.3 121.6h0M604.9 142.5h0M597.3 130.8h0M606.4 124.3h0M613.3 125.7h0M614.6 139.4h0M592.8 120.4h0M595.4 136.8h0M592.1 133.2h0M588.7 152.9h0M588.5 154.1h0M598.5 122.3h0M609.7 138.0h0M589.8 150.9h0M588.2 139.7h0M606.5 152.1h0M612.2 152.2h0M587.3 139.2h0M590.9 122.8h0M595.5 153.8h0M608.0 136.8h0M596.5 120.2h0M588.3 116.8h0M600.6 132.4h0M595.5 119.2h0M591.1 120.5h0M613.0 155.2h0M591.0 131.1h0M600.1 119.4h0M591.8 152.1h0M604.2 150.6h0M613.5 152.2h0M598.9 156.3h0M604.6 134.4h0M591.3 143.9h0M610.7 135.9h0M591.6 138.4h0M608.9 119.4h0M593.2 148.1h0M590.8 123.0h0M587.6 140.0h0M607.7 116.5h0M613.0 157.3h0M590.6 155.4h0M608.9 155.0h0M589.8 154.7h0M591.1 140.1h0M602.1 141.8h0M607.3 120.8h0M611.9 137.6h0M598.3 147.9h0M603.7 125.8h0M595.7 130.2h0M603.0 155.3h0M594.8 150.9h0M606.2 119.0h0M602.6 142.8h0M605.3 118.0h0M614.0 144.3h0M591.2 139.9h0M596.7 155.8h0M605.3 139.3h0M598.9 138.8h0M589.3 157.1h0M597.1 148.6h0M597.1 132.9h0M598.0 118.4h0M609.1 153.3h0M600.7 140.2h0M600.3 147.5h0M604.0 140.6h0M590.9 154.6h0M602.5 155.9h0M600.6 130.8h0M590.2 148.6h0M614.5 117.6h0M590.6 141.6h0M592.5 116.6h0M607.4 150.4h0M599.7 119.0h0M604.3 120.2h0M610.3 148.5h0M611.5 145.3h0M587.2 143.4h0M607.2 138.8h0M587.4 147.2h0M610.9 156.7h0M602.4 136.9h0M602.8 157.4h0M589.4 120.2h0M614.3 151.5h0M614.8 141.5h0M593.0 131.3h0M610.6 141.9h0M614.8 119.9h0M600.4 118.8h0M604.5 145.0h0M612.0 141.3h0M599.7 143.0h0M597.1 135.5h0M594.5 116.3h0M598.1 117.0h0M601.2 146.8h0M609.3 130.6h0M599.9 127.9h0M599.9 124.1h0M588.1 137.2h0M603.4 149.4h0M605.4 124.5h0M614.8 127.2h0M599.0 133.8h0M610.1 122.4h0M593.2 150.1h0M598.0 141.7h0M592.6 153.4h0M595.0 143.9h0M594.9 149.5h0M604.5 144.9h0M607.6 122.2h0M588.8 124.7h0M611.6 143.7h0M599.6 148.5h0M594.2 150.3h0M612.6 123.7h0M607.7 138.9h0M611.8 129.3h0M598.2 122.3h0M592.5 150.1h0M608.9 134.7h0M597.7 128.2h0M588.4 145.1h0M589.1 134.4h0M611.9 130.9h0M614.1 142.6h0M591.1 133.7h0M591.5 124.0h0M590.1 136.8h0M595.0 150.5h0M604.1 127.2h0M589.5 138.8h0M604.5 123.5h0M595.8 118.2h0M600.5 150.9h0M597.1 123.2h0M604.0 118.0h0M588.2 153.4h0M589.2 132.2h0M610.1 142.1h0M599.1 148.4h0M612.4 130.9h0M589.1 123.9h0M594.8 121.4h0M604.4 157.5h0M588.1 151.8h0M597.8 154.0h0M609.7 132.0h0M601.3 147.8h0M613.1 119.2h0M614.7 131.7h0M614.4 121.5h0M608.7 143.7h0M593.0 142.7h0M607.0 133.4h0M600.0 125.8h0M591.9 119.9h0M613.8 141.9h0M602.4 122.9h0M598.7 143.3h0M590.3 138.9h0M591.1 148.5h0M605.6 157.4h0M592.1 126.7h0M599.4 145.6h0M605.3 155.1h0M598.8 124.8h0M614.8 148.0h0M601.1 123.0h0M587.9 149.6h0M588.4 130.2h0M612.2 143.0h0M613.7 122.4h0M609.3 121.0h0M592.8 141.2h0M614.7 156.3h0M611.6 141.1h0M591.9 117.6h0M610.3 156.7h0M604.3 134.4h0M613.4 152.6h0M598.1 153.2h0M607.2 130.8h0M612.4 153.0h0M604.6 153.2h0M587.6 123.5h0M589.1 120.4h0M603.3 133.5h0M610.1 145.2h0M608.8 126.5h0M614.3 153.5h0M593.8 140.9h0M603.0 145.7h0M611.6 127.0h0M597.1 132.1h0M613.4 139.9h0M590.4 116.8h0M590.8 141.2h0M598.9 151.6h0M601.3 137.3h0M596.7 152.4h0M590.9 120.8h0M591.1 130.2h0M589.5 147.2h0M602.4 153.3h0M613.4 119.0h0M602.7 142.6h0M606.1 149.0h0M587.2 121.4h0M605.7 132.3h0M600.7 153.2h0M610.5 147.8h0M610.7 125.1h0M606.7 126.4h0M605.8 128.4h0M602.0 117.4h0M613.4 143.1h0M596.0 128.0h0M603.5 132.2h0M606.6 130.5h0M600.5 148.0h0M601.8 127.0h0M589.2 121.8h0M602.8 133.6h0M614.7 132.9h0M613.8 129.8h0M605.6 116.2h0M609.8 132.8h0M591.3 140.0h0M601.2 132.9h0M596.8 139.5h0M598.8 117.1h0M614.8 124.2h0M612.1 151.5h0M614.0 127.2h0M589.5 120.9h0M595.3 134.0h0M608.6 149.9h0M607.0 148.1h0M601.3 137.0h0M599.3 150.5h0M613.0 150.2h0M589.4 122.4h0M589.5 150.9h0M587.4 151.7h0M595.0 126.0h0M613.9 116.9h0M597.5 151.5h0M590.5 149.0h0M593.8 155.0h0M602.6 138.7h0M592.4 156.5h0M609.5 123.0h0M605.2 150.6h0M587.1 132.6h0M614.5 150.1h0M612.7 135.3h0M589.3 129.8h0M599.0 134.6h0M597.8 130.8h0M610.9 148.1h0M597.7 153.0h0M587.3 132.7h0M587.2 130.1h0M607.9 123.1h0M598.3 119.8h0M598.1 121.6h0M595.9 142.0h0M611.5 133.5h0M609.0 157.0h0M607.4 129.8h0M597.5 123.8h0M598.4 124.1h0M614.7 135.9h0M613.8 138.5h0M598.6 131.5h0M606.3 132.5h0M609.0 130.9h0M611.9 121.2h0M608.6 146.7h0M596.3 124.6h0M603.4 148.0h0M610.2 154.6h0M607.1 132.5h0M602.4 131.6h0M606.5 154.4h0M612.7 118.9h0M613.1 146.7h0M603.0 151.2h0M598.5 141.4h0M597.2 144.7h0M603.5 143.6h0M610.7 122.9h0M601.9 151.0h0M608.4 118.4h0M596.2 122.9h0M607.1 145.3h0M605.0 148.9h0M606.3 142.5h0M603.3 129.2h0M597.1 149.9h0M607.7 132.7h0M609.9 139.9h0M589.0 125.5h0M605.3 131.5h0M600.5 157.0h0M613.4 151.1h0M611.9 156.8h0M593.5 137.5h0M599.8 149.5h0M602.4 139.6h0M593.2 144.9h0M610.6 147.3h0M599.9 123.7h0M593.2 145.3h0M589.2 144.2h0M605.4 122.0h0M606.1 135.8h0M587.2 135.3h0M593.8 134.9h0M598.4 153.1h0M609.8 120.6h0M589.6 124.5h0M594.3 122.9h0M597.7 131.6h0M601.8 130.7h0M597.7 137.6h0M601.0 121.3h0M592.0 135.9h0M601.0 135.2h0M596.4 152.6h0M590.1 123.8h0M591.9 152.7h0M587.5 127.0h0M604.7 139.6h0M597.8 149.9h0M611.9 116.8h0M587.5 155.9h0M612.8 148.9h0M611.1 138.7h0M600.8 128.2h0M592.1 157.5h0M599.3 124.1h0M594.8 138.5h0M591.2 141.5h0M600.6 140.3h0M610.9 150.6h0M599.9 149.4h0M593.8 125.0h0M598.0 145.8h0M593.9 147.3h0M597.0 139.9h0M594.9 156.8h0M599.8 139.7h0M601.0 152.9h0M593.8 118.8h0M588.3 149.3h0M599.0 154.1h0M611.8 133.3h0M605.3 144.7h0M611.2 119.2h0M592.3 129.4h0M600.9 155.6h0M594.2 132.2h0M587.7 140.5h0M609.9 128.3h0M592.4 138.9h0M591.4 146.3h0M597.0 142.1h0M609.8 116.6h0M614.5 133.5h0M605.3 118.3h0M602.5 142.7h0M610.6 118.5h0M612.3 143.8h0M610.2 150.6h0M597.4 126.4h0M599.8 130.0h0M608.1 141.4h0M605.0 130.4h0M605.3 137.9h0M610.5 142.4h0M598.6 131.6h0M610.0 122.3h0M594.0 138.8h0M613.3 143.0h0M604.5 153.7h0M593.9 128.1h0M606.6 131.7h0M607.0 145.2h0M612.9 141.7h0M593.4 130.2h0M602.3 119.5h0M603.4 137.0h0M601.4 153.5h0M609.7 151.5h0M601.2 144.5h0M590.7 119.4h0M589.0 142.2h0M611.2 154.0h0M603.6 121.0h0M601.7 150.6h0M601.0 108.2h0M603.6 115.7h0M601.3 112.1h0M600.2 110.3h0M603.7 111.4h0M606.8 113.6h0M602.3 109.9h0M603.1 106.9h0M596.1 114.9h0M604.7 113.3h0M601.8 105.2h0M602.2 114.0h0M599.9 104.6h0M601.0 99.7h0M602.9 95.8h0M603.0 103.3h0M596.4 112.2h0M598.2 114.8h0M598.3 111.1h0M601.0 102.8h0M605.1 107.5h0M599.4 106.6h0M600.9 115.6h0M597.4 107.3h0M599.4 113.1h0M601.0 173.8h0M601.0 170.6h0M601.3 158.9h0M594.0 159.3h0M601.0 164.5h0M604.6 170.0h0M602.9 171.4h0M597.2 169.5h0M601.0 167.9h0M587.9 158.6h0M599.5 166.0h0M605.3 160.0h0M603.1 174.0h0M607.2 158.7h0M602.9 165.4h0M602.9 168.8h0M596.1 159.2h0M599.2 169.1h0M603.3 159.5h0M592.1 160.1h0M597.5 166.2h0M609.1 159.6h0M598.0 158.2h0M599.5 172.1h0M599.4 159.8h0M601.0 94.8h0M601.0 177.9h0" stroke="#f0837a" stroke-width="2.10" stroke-linecap="round" fill="none"/>
<rect x="586.8" y="130.2" width="28.3" height="15.6" fill="rgba(62,74,88,0.56)"/>
<path d="M601.0 127.2V131.7M601.0 149.4V144.3M594.0 127.2h14M594.0 149.4h14" stroke="#000" stroke-width="2.0" fill="none"/>
<path d="M586.8 138.7h28.3" stroke="#000" stroke-width="2.0" fill="none"/>
<text x="601.0" y="113.5" font-size="11" text-anchor="middle" textLength="20" lengthAdjust="spacingAndGlyphs" fill="#222">****</text>
<path d="M624.7 155.8h0M646.2 152.5h0M637.2 149.4h0M628.6 135.3h0M637.3 143.5h0M641.7 143.1h0M636.7 135.2h0M636.5 123.6h0M634.0 130.0h0M640.2 148.6h0M642.7 140.8h0M643.0 144.5h0M628.2 121.6h0M646.8 143.9h0M642.2 141.0h0M636.5 135.3h0M626.6 125.1h0M620.2 142.0h0M644.2 131.8h0M639.8 132.2h0M622.6 138.6h0M643.9 139.7h0M625.2 124.8h0M636.2 132.7h0M641.4 133.2h0M631.8 142.8h0M622.6 154.5h0M620.9 131.0h0M640.9 157.3h0M632.3 139.0h0M620.2 148.9h0M638.9 145.7h0M621.9 142.0h0M644.6 124.9h0M630.8 137.5h0M622.7 132.7h0M623.0 125.0h0M627.2 133.7h0M647.6 138.6h0M632.0 139.4h0M643.9 142.7h0M647.3 148.2h0M644.4 153.6h0M647.4 139.1h0M636.0 126.5h0M628.7 133.1h0M641.5 152.7h0M633.2 141.2h0M624.9 135.1h0M642.3 148.7h0M645.6 137.8h0M646.9 121.6h0M644.4 121.7h0M620.1 125.3h0M627.1 157.4h0M625.3 119.5h0M632.1 129.5h0M643.0 156.5h0M635.8 119.4h0M642.6 150.9h0M638.3 153.6h0M632.6 122.1h0M630.9 157.5h0M644.7 140.6h0M629.8 149.7h0M628.0 123.6h0M641.3 146.5h0M623.2 120.1h0M635.4 156.6h0M629.7 141.2h0M634.0 123.7h0M626.9 138.5h0M621.9 137.8h0M634.3 152.3h0M628.4 156.2h0M625.3 147.5h0M625.5 129.5h0M641.2 131.7h0M640.2 154.7h0M641.1 136.8h0M634.3 143.7h0M636.5 123.2h0M634.6 121.7h0M630.7 154.6h0M627.8 149.8h0M647.7 128.8h0M633.3 126.1h0M622.9 132.7h0M632.8 148.8h0M623.5 130.7h0M624.1 121.4h0M624.1 156.0h0M625.0 137.5h0M634.2 143.1h0M637.8 143.5h0M642.8 125.2h0M620.1 153.5h0M636.9 143.5h0M623.3 122.6h0M633.1 139.2h0M643.3 154.4h0M625.1 154.3h0M623.6 141.3h0M624.6 142.1h0M631.1 152.4h0M632.9 130.3h0M630.0 135.6h0M647.6 131.9h0M634.4 137.0h0M639.8 120.8h0M622.2 122.1h0M629.4 151.1h0M638.4 147.5h0M631.0 145.6h0M628.8 153.5h0M620.5 125.3h0M623.5 146.1h0M645.1 122.0h0M639.7 130.2h0M625.5 155.0h0M620.3 146.8h0M628.4 141.2h0M629.7 152.8h0M647.7 131.2h0M638.8 130.8h0M628.4 124.0h0M643.9 145.0h0M625.1 139.7h0M630.7 132.4h0M638.1 139.7h0M620.1 142.8h0M635.8 140.0h0M626.4 121.3h0M626.4 154.3h0M626.5 141.8h0M621.0 134.0h0M646.0 150.4h0M634.0 128.1h0M646.8 156.8h0M630.9 124.4h0M624.0 152.0h0M625.6 153.2h0M629.4 133.8h0M644.4 151.4h0M623.9 128.2h0M639.5 156.3h0M637.1 143.1h0M622.0 124.4h0M627.5 144.4h0M625.4 154.8h0M644.6 136.9h0M639.9 141.9h0M621.2 156.0h0M633.4 130.7h0M645.8 142.6h0M643.6 156.2h0M621.0 155.6h0M647.0 126.0h0M646.1 140.6h0M625.5 144.6h0M620.1 122.3h0M643.8 142.6h0M626.2 124.5h0M624.7 142.6h0M645.8 130.3h0M632.9 128.4h0M621.3 130.0h0M632.0 154.8h0M639.5 121.3h0M638.4 143.5h0M630.1 130.2h0M647.8 142.6h0M641.1 155.0h0M640.8 133.0h0M645.4 149.6h0M636.1 146.0h0M644.4 153.5h0M637.3 135.3h0M625.9 151.1h0M628.5 134.3h0M642.6 144.7h0M641.3 141.0h0M634.6 150.0h0M624.2 153.1h0M635.6 148.1h0M637.8 120.0h0M645.3 124.7h0M645.9 145.9h0M641.6 127.1h0M636.4 139.4h0M638.4 150.3h0M639.9 151.3h0M644.5 134.2h0M636.3 139.6h0M626.5 157.0h0M628.1 126.8h0M642.9 140.5h0M620.5 145.5h0M629.2 143.3h0M620.4 133.0h0M647.4 145.1h0M627.3 133.4h0M638.3 133.7h0M631.7 135.4h0M632.6 154.3h0M634.7 134.5h0M632.7 151.0h0M639.6 135.3h0M630.8 120.2h0M642.1 121.1h0M631.5 128.6h0M632.1 157.3h0M639.3 145.2h0M641.5 134.3h0M632.0 144.6h0M621.3 157.1h0M636.0 138.3h0M622.1 152.2h0M643.3 156.0h0M645.2 149.5h0M631.2 156.7h0M637.0 130.5h0M647.5 145.7h0M628.5 137.2h0M634.7 138.9h0M635.3 125.4h0M629.4 122.2h0M636.5 153.2h0M628.5 147.8h0M643.5 145.7h0M620.2 136.6h0M622.0 134.6h0M645.6 128.2h0M637.0 136.3h0M621.6 135.0h0M620.9 143.5h0M639.6 132.3h0M635.4 132.2h0M624.6 130.4h0M636.3 133.1h0M622.0 155.5h0M623.3 136.2h0M633.2 156.0h0M632.9 137.1h0M626.1 127.5h0M638.8 138.1h0M630.2 128.1h0M628.1 139.0h0M640.7 139.2h0M637.7 145.7h0M628.9 156.5h0M633.6 135.8h0M638.3 138.6h0M645.8 155.2h0M620.4 122.7h0M622.9 147.5h0M629.5 125.9h0M626.9 149.2h0M624.4 153.7h0M636.9 141.8h0M639.3 156.6h0M645.4 133.8h0M626.3 121.8h0M637.4 121.3h0M628.0 138.6h0M642.4 129.1h0M640.3 129.0h0M640.8 140.1h0M642.7 123.9h0M625.4 144.6h0M637.1 155.4h0M647.7 137.9h0M631.0 146.9h0M628.0 150.1h0M647.7 123.6h0M636.2 151.3h0M621.6 140.5h0M640.1 144.8h0M630.0 145.4h0M634.8 129.1h0M642.3 133.2h0M634.4 141.0h0M643.0 157.5h0M625.3 132.5h0M621.5 156.3h0M633.1 123.9h0M631.7 134.2h0M622.1 143.4h0M624.9 122.7h0M647.6 136.6h0M624.5 126.2h0M628.7 136.9h0M641.0 122.7h0M627.3 132.0h0M624.0 145.9h0M623.6 157.3h0M640.3 123.6h0M632.0 130.8h0M644.3 138.0h0M631.4 154.1h0M637.5 120.5h0M633.5 121.0h0M639.7 157.1h0M621.2 148.8h0M645.9 157.1h0M630.7 121.0h0M638.0 152.5h0M627.5 142.2h0M647.7 156.1h0M640.6 121.2h0M641.9 120.9h0M642.7 130.3h0M630.8 139.3h0M631.5 140.0h0M629.2 154.4h0M633.8 121.6h0M646.7 147.8h0M628.3 128.9h0M647.7 154.0h0M645.8 133.1h0M630.3 141.2h0M635.1 154.9h0M633.8 140.7h0M627.3 119.2h0M628.5 120.9h0M624.0 122.9h0M642.1 143.8h0M626.7 140.4h0M622.9 146.4h0M639.8 140.4h0M632.7 148.4h0M642.2 138.6h0M639.7 154.3h0M634.3 136.1h0M643.1 135.5h0M638.6 127.8h0M621.2 120.3h0M628.3 146.0h0M636.0 122.9h0M632.6 119.0h0M637.1 122.0h0M639.9 126.0h0M628.6 131.5h0M642.8 120.5h0M640.2 137.5h0M623.9 149.7h0M624.5 149.5h0M646.2 135.0h0M630.6 152.8h0M631.8 126.8h0M625.6 130.0h0M623.4 145.1h0M626.1 133.4h0M644.5 147.6h0M643.7 127.4h0M634.0 146.7h0M636.8 130.6h0M623.9 133.2h0M639.0 131.7h0M627.2 146.6h0M646.6 120.3h0M621.4 152.2h0M633.4 132.9h0M634.0 130.6h0M647.6 150.3h0M642.5 119.2h0M625.2 129.8h0M632.8 148.9h0M643.7 133.4h0M626.7 136.3h0M637.4 138.7h0M623.7 123.1h0M632.8 136.1h0M632.2 130.2h0M638.9 137.2h0M621.5 151.1h0M628.6 151.5h0M631.2 124.6h0M637.2 126.2h0M625.3 129.7h0M620.2 138.9h0M647.0 139.3h0M623.0 149.7h0M640.2 139.1h0M632.9 144.9h0M621.8 128.4h0M633.9 153.2h0M621.8 120.9h0M633.7 138.3h0M647.2 126.7h0M620.2 146.1h0M645.8 122.7h0M634.6 152.8h0M640.5 123.0h0M629.2 140.7h0M637.5 156.5h0M631.6 148.8h0M635.6 145.3h0M628.8 120.8h0M646.5 141.0h0M647.2 143.3h0M647.7 134.0h0M630.5 122.5h0M625.6 140.8h0M643.6 156.2h0M629.1 149.0h0M644.9 129.1h0M641.8 120.9h0M621.8 154.1h0M626.3 152.6h0M644.6 119.6h0M642.6 125.1h0M625.5 129.7h0M620.1 129.7h0M629.0 155.7h0M627.7 130.9h0M643.4 153.4h0M635.5 120.5h0M640.5 150.7h0M638.4 124.4h0M636.6 128.5h0M644.6 122.9h0M632.2 153.5h0M638.9 129.6h0M629.4 141.9h0M632.0 101.6h0M636.1 90.3h0M634.0 97.0h0M632.3 106.0h0M636.0 101.2h0M634.0 84.0h0M634.0 109.0h0M635.0 115.9h0M640.0 113.2h0M640.5 118.6h0M634.0 90.1h0M635.4 98.5h0M634.0 100.9h0M632.9 116.4h0M636.5 117.4h0M629.3 118.6h0M632.7 103.9h0M629.9 112.9h0M634.3 117.9h0M634.5 102.9h0M635.9 112.5h0M634.0 114.1h0M636.1 109.1h0M638.6 117.9h0M634.0 111.8h0M637.9 113.1h0M632.0 112.6h0M634.0 94.1h0M631.1 117.5h0M634.5 105.0h0M632.1 165.0h0M629.9 167.8h0M635.7 159.8h0M627.9 168.4h0M635.9 164.8h0M634.0 170.7h0M635.7 171.9h0M634.0 166.8h0M630.0 165.3h0M634.0 161.8h0M634.0 164.1h0M632.5 160.3h0M627.8 163.3h0M634.0 158.7h0M636.3 161.8h0M632.0 162.4h0M632.0 167.5h0M640.1 167.9h0M630.5 160.8h0M638.3 162.6h0M634.0 173.5h0M629.9 162.8h0M638.0 167.7h0M636.1 167.0h0M637.9 165.6h0M634.0 79.6h0M634.0 177.9h0" stroke="#f0837a" stroke-width="2.10" stroke-linecap="round" fill="none"/>
<rect x="619.8" y="131.6" width="28.3" height="14.8" fill="rgba(62,74,88,0.56)"/>
<path d="M634.0 128.2V133.1M634.0 149.4V144.9M627.0 128.2h14M627.0 149.4h14" stroke="#000" stroke-width="2.0" fill="none"/>
<path d="M619.8 139.3h28.3" stroke="#000" stroke-width="2.0" fill="none"/>
<text x="634.0" y="110.9" font-size="11" text-anchor="middle" textLength="20" lengthAdjust="spacingAndGlyphs" fill="#222">****</text>
<path d="M667.7 136.5h0M677.7 149.1h0M674.5 142.7h0M679.7 150.6h0M661.1 127.8h0M661.2 133.7h0M677.7 126.5h0M678.8 140.5h0M653.4 148.3h0M654.2 134.9h0M662.7 130.0h0M677.6 127.2h0M663.8 150.8h0M657.0 133.3h0M670.5 144.2h0M673.5 136.7h0M668.9 135.7h0M675.2 124.3h0M653.6 137.6h0M678.9 133.2h0M660.7 149.6h0M654.8 155.5h0M669.8 131.4h0M678.3 155.4h0M659.8 137.6h0M656.2 145.5h0M672.6 142.8h0M678.2 149.2h0M665.1 147.0h0M677.1 127.6h0M662.0 154.5h0M667.3 135.0h0M659.7 152.5h0M653.4 127.5h0M660.6 129.0h0M671.9 130.1h0M671.2 126.6h0M676.5 147.9h0M668.8 139.9h0M658.8 130.3h0M656.4 143.4h0M661.4 148.7h0M672.4 148.7h0M655.2 149.5h0M659.5 147.2h0M657.2 152.1h0M666.6 138.4h0M675.7 151.3h0M670.8 133.7h0M672.2 153.2h0M665.3 135.8h0M669.3 153.9h0M662.7 131.9h0M680.8 126.5h0M662.8 130.4h0M657.8 133.4h0M666.1 153.0h0M673.7 153.0h0M657.4 140.0h0M671.8 130.4h0M676.2 146.4h0M657.6 131.8h0M671.8 124.9h0M656.9 134.7h0M656.6 146.0h0M677.5 130.4h0M667.7 125.6h0M653.7 134.6h0M663.5 136.9h0M659.1 138.1h0M654.4 124.5h0M668.5 129.8h0M655.4 145.3h0M668.0 125.3h0M675.7 129.3h0M655.3 134.6h0M666.0 142.4h0M660.9 131.2h0M665.4 149.6h0M658.2 135.8h0M677.2 149.9h0M678.8 148.7h0M678.0 136.4h0M679.4 124.7h0M676.5 133.5h0M654.1 142.4h0M662.1 137.6h0M666.4 153.1h0M656.0 145.5h0M660.7 124.2h0M680.0 142.8h0M673.2 132.6h0M662.5 143.5h0M662.2 145.8h0M654.2 139.9h0M676.0 151.1h0M664.6 132.6h0M654.2 147.4h0M669.5 134.5h0M680.0 127.8h0M653.1 137.3h0M657.6 126.8h0M664.2 154.5h0M670.4 128.6h0M658.4 154.2h0M674.3 127.0h0M671.4 153.8h0M680.7 145.7h0M676.3 141.0h0M674.5 146.5h0M677.8 133.6h0M678.1 142.6h0M653.1 132.7h0M667.3 136.0h0M658.7 151.9h0M656.6 151.0h0M666.8 131.1h0M665.2 132.7h0M674.4 138.8h0M680.6 141.7h0M660.9 143.7h0M661.1 141.9h0M666.5 134.1h0M664.3 142.4h0M666.5 136.0h0M655.6 138.3h0M669.9 125.8h0M667.0 141.0h0M671.1 141.0h0M658.9 143.9h0M654.3 141.8h0M665.9 152.5h0M655.5 128.4h0M672.0 151.0h0M657.5 145.5h0M669.8 147.7h0M664.0 125.5h0M676.8 148.0h0M668.9 145.7h0M666.9 128.4h0M667.5 135.0h0M676.8 146.9h0M667.8 141.3h0M675.6 140.5h0M671.5 135.8h0M668.4 143.7h0M656.1 153.9h0M680.1 143.7h0M667.4 131.6h0M653.3 126.8h0M678.7 126.2h0M657.0 148.6h0M680.8 133.2h0M676.6 144.2h0M676.3 154.7h0M659.3 133.1h0M668.1 136.2h0M665.0 132.1h0M680.1 128.6h0M680.5 133.3h0M674.6 134.9h0M672.4 145.1h0M662.7 125.9h0M670.8 140.5h0M680.5 148.5h0M666.0 148.9h0M672.5 138.9h0M655.3 132.2h0M673.1 124.2h0M677.2 126.8h0M674.5 145.1h0M655.3 133.9h0M667.7 137.8h0M672.4 142.2h0M657.7 149.2h0M660.8 151.9h0M661.4 139.1h0M675.7 152.2h0M668.9 127.2h0M676.1 142.2h0M668.9 151.5h0M667.4 148.9h0M665.1 153.8h0M664.4 145.0h0M659.8 127.1h0M673.8 128.5h0M663.8 153.6h0M666.3 128.5h0M658.1 146.7h0M658.5 128.1h0M663.4 127.3h0M677.5 127.5h0M677.5 135.5h0M675.9 132.6h0M656.5 124.4h0M677.6 130.7h0M674.9 149.8h0M673.2 127.9h0M666.6 132.5h0M680.2 135.4h0M657.2 137.0h0M666.5 141.0h0M653.4 150.6h0M669.3 135.2h0M678.4 145.3h0M660.7 135.6h0M674.9 149.2h0M677.8 153.1h0M665.8 126.6h0M660.3 138.2h0M674.9 125.5h0M659.6 148.7h0M665.0 140.4h0M653.5 142.3h0M679.6 146.2h0M677.3 124.4h0M671.1 145.9h0M671.0 134.6h0M659.7 148.4h0M664.8 141.3h0M665.6 138.4h0M677.3 139.1h0M674.0 138.7h0M662.8 134.4h0M672.9 151.6h0M679.8 142.9h0M666.9 152.0h0M674.4 148.3h0M679.8 152.5h0M663.3 134.2h0M660.6 148.3h0M662.6 150.8h0M658.4 125.4h0M658.1 136.0h0M656.7 142.3h0M668.0 135.2h0M671.7 134.7h0M661.6 125.9h0M677.7 134.2h0M670.0 136.1h0M663.7 127.9h0M678.0 132.7h0M654.1 125.1h0M666.8 149.5h0M658.1 148.9h0M659.6 132.9h0M660.6 152.9h0M679.6 131.5h0M666.9 146.0h0M656.0 141.6h0M675.8 153.0h0M660.2 145.6h0M668.7 153.5h0M672.9 133.7h0M666.3 151.6h0M676.0 137.8h0M667.1 124.9h0M677.5 138.2h0M680.2 153.7h0M670.9 150.4h0M653.2 141.8h0M669.7 142.2h0M675.7 131.7h0M672.0 154.3h0M663.6 148.9h0M680.4 138.3h0M670.8 136.5h0M653.5 128.9h0M673.3 140.8h0M653.6 130.7h0M666.6 133.5h0M658.7 142.2h0M657.5 131.7h0M659.6 135.2h0M656.1 126.4h0M659.2 137.4h0M677.4 137.0h0M667.6 146.5h0M654.9 152.2h0M680.5 136.2h0M656.2 146.6h0M662.6 127.8h0M663.0 137.3h0M668.1 149.5h0M673.6 126.3h0M668.4 132.2h0M667.7 137.7h0M658.6 124.2h0M666.2 153.8h0M661.5 139.0h0M658.7 154.6h0M662.7 146.9h0M668.3 142.3h0M680.5 128.9h0M676.2 137.2h0M656.2 128.5h0M668.0 148.9h0M672.8 146.7h0M659.3 149.6h0M662.2 135.2h0M659.6 140.3h0M662.9 140.8h0M661.8 144.2h0M666.3 147.6h0M653.3 145.5h0M663.5 138.6h0M667.2 137.8h0M663.3 152.3h0M657.9 133.2h0M667.5 155.3h0M669.2 149.2h0M671.1 132.2h0M668.0 133.6h0M665.4 147.8h0M668.9 142.8h0M655.0 133.5h0M654.2 128.8h0M666.4 136.9h0M664.7 130.0h0M678.8 137.0h0M654.9 136.2h0M673.1 150.3h0M660.0 128.6h0M672.4 135.0h0M676.3 135.9h0M679.1 138.4h0M680.8 148.0h0M663.5 134.5h0M677.9 150.9h0M671.2 137.8h0M657.3 139.9h0M653.1 153.3h0M673.7 126.6h0M667.9 138.0h0M673.0 147.7h0M656.7 130.6h0M670.9 147.7h0M674.2 154.8h0M674.2 151.0h0M678.2 134.6h0M680.7 152.4h0M670.5 152.9h0M666.5 144.5h0M673.9 130.6h0M658.2 138.0h0M666.9 108.9h0M663.7 119.2h0M666.9 101.8h0M665.2 117.7h0M669.5 118.6h0M664.9 123.6h0M665.4 110.4h0M666.3 115.9h0M668.8 109.8h0M666.9 123.1h0M671.1 123.8h0M668.5 105.8h0M669.0 101.9h0M669.0 123.3h0M666.9 121.0h0M662.8 123.7h0M666.9 113.7h0M668.3 115.3h0M666.9 104.4h0M667.6 117.6h0M665.4 161.0h0M666.9 164.9h0M670.1 162.3h0M668.8 157.0h0M665.4 166.4h0M660.7 155.6h0M662.0 158.1h0M666.0 156.7h0M668.5 161.0h0M668.9 165.6h0M663.5 162.0h0M666.9 162.8h0M666.9 159.6h0M670.8 157.4h0M663.9 157.3h0M666.9 77.6h0M663.4 166.7h0" stroke="#f0837a" stroke-width="2.10" stroke-linecap="round" fill="none"/>
<rect x="652.7" y="134.6" width="28.3" height="11.1" fill="rgba(62,74,88,0.56)"/>
<path d="M666.9 132.8V136.1M666.9 147.7V144.3M659.9 132.8h14M659.9 147.7h14" stroke="#000" stroke-width="2.0" fill="none"/>
<path d="M652.7 140.7h28.3" stroke="#000" stroke-width="2.0" fill="none"/>
<text x="666.9" y="120.0" font-size="11" text-anchor="middle" textLength="20" lengthAdjust="spacingAndGlyphs" fill="#222">****</text>
<path d="M518.6 122.1H683.4" stroke="#000" stroke-width="2" stroke-dasharray="5.6,4.4" fill="none"/>
<rect x="518.6" y="41.5" width="164.79999999999995" height="160.6" fill="none" stroke="#222" stroke-width="1.1"/>
<path d="M515.1 202.1H518.6" stroke="#222" stroke-width="1"/>
<text x="512.6" y="206.2" font-size="11.5" text-anchor="end" textLength="23.0" lengthAdjust="spacingAndGlyphs">0.00</text>
<path d="M515.1 169.3H518.6" stroke="#222" stroke-width="1"/>
<text x="512.6" y="173.5" font-size="11.5" text-anchor="end" textLength="23.0" lengthAdjust="spacingAndGlyphs">0.05</text>
<path d="M515.1 136.6H518.6" stroke="#222" stroke-width="1"/>
<text x="512.6" y="140.7" font-size="11.5" text-anchor="end" textLength="23.0" lengthAdjust="spacingAndGlyphs">0.10</text>
<path d="M515.1 103.8H518.6" stroke="#222" stroke-width="1"/>
<text x="512.6" y="108.0" font-size="11.5" text-anchor="end" textLength="23.0" lengthAdjust="spacingAndGlyphs">0.15</text>
<path d="M515.1 71.1H518.6" stroke="#222" stroke-width="1"/>
<text x="512.6" y="75.2" font-size="11.5" text-anchor="end" textLength="23.0" lengthAdjust="spacingAndGlyphs">0.20</text>
<path d="M535.1 202.1v3.5" stroke="#222" stroke-width="1"/>
<path d="M568.0 202.1v3.5" stroke="#222" stroke-width="1"/>
<path d="M601.0 202.1v3.5" stroke="#222" stroke-width="1"/>
<path d="M634.0 202.1v3.5" stroke="#222" stroke-width="1"/>
<path d="M666.9 202.1v3.5" stroke="#222" stroke-width="1"/>
<text transform="translate(498.8 19.9) scale(1.1 1)" font-size="24" font-weight="bold" fill="#111">c</text>
<text x="521.2" y="37.6" font-size="15" textLength="159.6" lengthAdjust="spacingAndGlyphs">C4-2B - Neutral Lipids</text>
<text x="482.9" y="121.5" font-size="13.5" text-anchor="middle" textLength="177.5" lengthAdjust="spacingAndGlyphs" transform="rotate(-90 482.9 121.5)">Mean Nile Red Intensity/Cell</text>
<text x="514.9" y="224.3" font-size="10.5" text-anchor="end">Leu</text>
<path d="M531.4 220.5h7M534.9 217.0v7" stroke="#000" stroke-width="1.3" fill="none"/>
<path d="M564.1 220.5h8.6" stroke="#e8211f" stroke-width="2.1" fill="none"/>
<path d="M597.8 220.5h7M601.3 217.0v7" stroke="#000" stroke-width="1.3" fill="none"/>
<path d="M630.6 220.5h7M634.1 217.0v7" stroke="#000" stroke-width="1.3" fill="none"/>
<path d="M662.0 220.5h8.6" stroke="#e8211f" stroke-width="2.1" fill="none"/>
<text x="514.9" y="243.2" font-size="10.5" text-anchor="end">Ile</text>
<path d="M531.4 239.4h7M534.9 235.9v7" stroke="#000" stroke-width="1.3" fill="none"/>
<path d="M564.9 239.4h7M568.4 235.9v7" stroke="#000" stroke-width="1.3" fill="none"/>
<path d="M597.0 239.4h8.6" stroke="#e8211f" stroke-width="2.1" fill="none"/>
<path d="M630.6 239.4h7M634.1 235.9v7" stroke="#000" stroke-width="1.3" fill="none"/>
<path d="M662.0 239.4h8.6" stroke="#e8211f" stroke-width="2.1" fill="none"/>
<text x="514.9" y="262.9" font-size="10.5" text-anchor="end">Val</text>
<path d="M531.4 259.1h7M534.9 255.6v7" stroke="#000" stroke-width="1.3" fill="none"/>
<path d="M564.9 259.1h7M568.4 255.6v7" stroke="#000" stroke-width="1.3" fill="none"/>
<path d="M597.8 259.1h7M601.3 255.6v7" stroke="#000" stroke-width="1.3" fill="none"/>
<path d="M629.8 259.1h8.6" stroke="#e8211f" stroke-width="2.1" fill="none"/>
<path d="M662.0 259.1h8.6" stroke="#e8211f" stroke-width="2.1" fill="none"/>
<defs>
<radialGradient id="gEll" cx="50%" cy="45%" r="60%"><stop offset="0" stop-color="#a8dc82"/><stop offset="0.6" stop-color="#7cc550"/><stop offset="1" stop-color="#5aaa38"/></radialGradient>
<radialGradient id="gMito" cx="45%" cy="50%" r="60%"><stop offset="0" stop-color="#f6faf6"/><stop offset="0.7" stop-color="#eef6f4"/><stop offset="1" stop-color="#dcedf5"/></radialGradient>
<marker id="ah" viewBox="0 0 10 10" refX="9" refY="5" markerWidth="5" markerHeight="5" orient="auto-start-reverse"><path d="M0 0L10 5L0 10z" fill="#111"/></marker>
<filter id="fy" x="-30%" y="-30%" width="160%" height="160%"><feGaussianBlur stdDeviation="2.2"/></filter>
<filter id="fy2" x="-50%" y="-50%" width="200%" height="200%"><feGaussianBlur stdDeviation="5"/></filter>
<filter id="fb" x="-20%" y="-20%" width="140%" height="140%"><feGaussianBlur stdDeviation="0.9"/></filter>
</defs>
<text transform="translate(0.0 303.9) scale(1.1 1)" font-size="24.5" fill="#111">d</text>
<rect x="51.3" y="321.6" width="338" height="161" rx="14" fill="none" stroke="#222" stroke-width="1.2" stroke-dasharray="4.2,3"/>
<path d="M141.8 413.0C141.8 405.0 144.0 395.8 146.0 388.0C148.0 380.2 149.2 373.5 154.0 366.5C158.8 359.5 167.3 350.4 175.0 346.0C182.7 341.6 188.3 340.7 200.0 340.3C211.7 339.9 231.7 342.7 245.0 343.8C258.3 344.9 268.3 346.7 280.0 347.0C291.7 347.3 304.5 345.7 315.0 345.5C325.5 345.3 334.8 343.7 343.0 346.0C351.2 348.3 359.0 352.6 364.0 359.5C369.0 366.4 371.8 378.2 373.0 387.6C374.2 397.0 373.0 406.9 371.5 415.6C370.0 424.3 369.9 431.8 364.0 440.0C358.1 448.2 347.1 458.7 336.0 464.6C324.9 470.5 312.9 473.4 297.7 475.5C282.5 477.6 262.5 478.1 245.0 477.2C227.5 476.3 206.6 473.9 192.6 470.0C178.6 466.1 168.8 459.7 161.0 454.0C153.2 448.3 149.2 442.8 146.0 436.0C142.8 429.2 141.8 421.0 141.8 413.0Z" fill="url(#gMito)" stroke="#111" stroke-width="1.5"/>
<path d="M153 420C150 395 152 372 166 362C173 357 168 357 170 360L171 432Q171 441 176 441Q181 441 181 432L181 362C183 356 192 356 205 356L250 357Q253 357 253 365L253 436Q253 444 258 444Q263 444 263 436L263 365Q263 357 272 357L320 357Q324 357 324 365L324 434Q324 442 329 442Q334 442 334 434L334 365Q335 356 345 358C360 362 364 390 360 410C358 420 356 424 355 420L355 386Q355 378 350 378Q345 378 345 386L345 455C345 462 335 466 320 466L304 466Q300 466 300 458L300 381Q300 373 295 373Q290 373 290 381L290 458Q290 468 280 468L232 468Q224 468 224 460L224 382Q224 374 219 374Q214 374 214 382L214 458Q214 466 206 466L190 466C170 464 156 448 153 420Z" fill="#f3f8f1" stroke="#b8bab8" stroke-width="1"/>
<text x="110.3" y="288.0" font-size="14.5" textLength="47.4" lengthAdjust="spacingAndGlyphs">BCAAs</text>
<circle cx="119.1" cy="296.9" r="5.6" fill="#ee9a5c" stroke="#222" stroke-width="1.2"/>
<circle cx="132.9" cy="296.9" r="5.6" fill="#8fd3dc" stroke="#222" stroke-width="1.2"/>
<circle cx="146.7" cy="296.9" r="5.6" fill="#8fcf5a" stroke="#222" stroke-width="1.2"/>
<path d="M89.5 304.4H184.8V335" fill="none" stroke="#111" stroke-width="1.3" marker-end="url(#ah)"/>
<path d="M89.5 304.4V377" fill="none" stroke="#111" stroke-width="1.3" marker-end="url(#ah)"/>
<ellipse cx="95.3" cy="413.6" rx="30" ry="16" fill="url(#gEll)" stroke="#222" stroke-width="1.1"/>
<text x="72.7" y="419.0" font-size="14.5" textLength="45" lengthAdjust="spacingAndGlyphs">BCAT1</text>
<ellipse cx="188" cy="366.5" rx="29.5" ry="14.8" fill="url(#gEll)" stroke="#222" stroke-width="1.1"/>
<text x="164.7" y="371.3" font-size="14.5" textLength="45" lengthAdjust="spacingAndGlyphs">BCAT2</text>
<path d="M130 413.2H167" fill="none" stroke="#111" stroke-width="1.3" marker-end="url(#ah)"/>
<path d="M185 384.5V399.5" fill="none" stroke="#111" stroke-width="1.3" marker-end="url(#ah)"/>
<circle cx="179.7" cy="409" r="4.3" fill="#c47a48" stroke="#333" stroke-width="0.6"/>
<circle cx="190.2" cy="408.5" r="4.3" fill="#6fa3ad" stroke="#333" stroke-width="0.6"/>
<circle cx="184.8" cy="417.6" r="4.3" fill="#7fae55" stroke="#333" stroke-width="0.6"/>
<path d="M195 413.8H243.4M243.4 365.4V453.3M243.4 365.4H261M243.4 453.3H262" fill="none" stroke="#111" stroke-width="1" stroke-dasharray="2.2,1.8"/>
<text x="264.5" y="370.9" font-size="17.3" textLength="61.6" lengthAdjust="spacingAndGlyphs">AcCoA</text>
<text x="275.7" y="413.6" font-size="19" textLength="39" lengthAdjust="spacingAndGlyphs">TCA</text>
<text x="267.0" y="459.5" font-size="17.3" textLength="57.8" lengthAdjust="spacingAndGlyphs">SuCoA</text>
<ellipse cx="294.2" cy="406.9" rx="35.6" ry="34.4" fill="none" stroke="#111" stroke-width="1.4"/>
<path d="M271.5 380.3L264.9 382.5L268.2 386.5ZM317.5 433.3L324.1 430.9L320.7 427.0Z" fill="#111"/>
<text x="66.2" y="477.0" font-size="12.5" textLength="56.7" lengthAdjust="spacingAndGlyphs">Cytoplasm</text>
<text transform="translate(454.6 304) scale(1.1 1)" font-size="24" fill="#111">e</text>
<path d="M522.9 399.0h0M524.5 397.4h0M522.9 397.1h0M522.8 395.1h0M519.0 394.4h0M525.7 393.9h0M524.0 393.9h0M521.6 393.7h0M519.5 392.8h0M522.9 392.6h0M524.7 392.3h0M521.0 391.9h0M523.7 391.0h0M522.0 390.6h0M524.5 389.3h0M522.9 389.1h0M532.0 387.8h0M530.3 387.5h0M526.7 387.5h0M527.7 387.4h0M516.9 387.4h0M516.8 387.4h0M525.0 387.3h0M528.3 387.3h0M526.9 387.3h0M520.5 387.2h0M522.7 387.2h0M519.0 387.0h0M530.0 387.0h0M526.2 387.0h0M518.6 386.9h0M518.7 386.9h0M530.5 386.8h0M517.7 386.8h0M513.9 386.8h0M520.8 386.7h0M515.4 386.5h0M520.6 386.3h0M519.3 386.3h0M524.4 386.3h0M519.2 386.2h0M517.5 386.1h0M531.7 386.1h0M515.8 386.1h0M528.7 386.1h0M513.9 386.0h0M518.1 386.0h0M514.1 385.9h0M518.6 385.9h0M529.0 385.9h0M519.0 385.9h0M521.1 385.8h0M526.3 385.8h0M527.0 385.8h0M518.1 385.7h0M514.4 385.7h0M526.2 385.6h0M514.8 385.6h0M527.7 385.6h0M523.1 385.5h0M521.7 385.5h0M526.4 385.4h0M521.2 385.4h0M517.2 385.4h0M513.8 385.4h0M519.0 385.3h0M523.2 385.3h0M515.9 385.2h0M530.7 385.2h0M528.9 385.0h0M531.2 384.8h0M532.2 384.7h0M527.5 384.6h0M530.2 384.6h0M513.5 384.6h0M517.5 384.5h0M521.8 384.3h0M525.8 384.3h0M525.5 384.3h0M520.1 384.0h0M530.7 384.0h0M515.0 383.9h0M529.0 383.8h0M516.7 383.8h0M523.9 383.7h0M518.5 383.4h0M527.4 383.4h0M520.5 383.3h0M522.4 383.0h0M513.8 382.6h0M525.9 382.6h0M515.5 382.2h0M517.2 382.1h0M529.7 382.0h0M523.8 382.0h0M519.2 381.9h0M520.9 381.7h0M531.4 381.3h0M527.5 381.0h0M525.2 381.0h0M531.6 381.0h0M522.4 380.9h0M516.2 380.6h0M528.8 380.6h0M517.9 380.6h0M525.6 380.3h0M523.9 380.0h0M514.4 380.0h0M520.7 380.0h0M519.4 379.8h0M520.7 379.5h0M530.9 379.5h0M513.5 379.3h0M514.4 379.3h0M524.3 379.2h0M528.0 379.1h0M516.9 379.0h0M520.3 379.0h0M518.5 378.8h0M526.3 378.7h0M522.5 378.6h0M532.1 378.2h0M515.6 378.1h0M530.1 377.9h0M524.0 377.9h0M519.8 377.8h0M520.5 377.7h0M513.9 377.6h0M517.2 377.6h0M528.3 377.4h0M525.4 377.3h0M523.7 377.3h0M518.8 377.0h0M530.9 376.9h0M521.5 376.8h0M515.9 376.4h0M526.9 376.3h0M514.7 376.1h0M529.4 376.1h0M522.9 375.8h0M517.7 375.6h0M524.7 375.6h0M519.7 375.6h0M514.0 375.4h0M525.6 375.3h0M513.8 375.1h0M531.3 375.1h0M528.2 374.9h0M521.3 374.9h0M515.4 374.8h0M518.1 374.8h0M529.7 374.4h0M523.4 374.2h0M527.4 374.0h0M524.6 373.9h0M519.5 373.8h0M513.7 373.6h0M516.5 373.6h0M532.2 373.6h0M514.3 373.5h0M525.8 373.5h0M521.2 373.4h0M530.6 373.1h0M515.9 372.9h0M528.9 372.9h0M517.6 372.9h0M524.4 372.6h0M522.7 372.5h0M527.3 372.3h0M519.1 372.1h0M520.7 371.7h0M525.8 371.4h0M531.9 371.2h0M514.3 371.0h0M523.4 371.0h0M530.2 370.8h0M516.0 370.8h0M528.5 370.7h0M517.7 370.7h0M526.3 370.5h0M521.9 370.4h0M519.3 370.2h0M524.8 369.7h0M523.2 369.3h0M528.1 369.1h0M517.9 368.9h0M520.3 368.8h0M532.1 368.8h0M521.6 368.6h0M515.1 368.4h0M519.5 368.4h0M526.6 368.2h0M521.2 368.0h0M524.5 368.0h0M530.9 367.7h0M516.5 367.5h0M529.2 367.4h0M522.9 367.4h0M518.2 367.2h0M527.6 366.7h0M525.9 366.7h0M519.8 366.7h0M521.5 366.3h0M524.3 366.3h0M516.8 365.4h0M518.5 365.4h0M522.9 365.4h0M526.9 365.0h0M531.4 364.9h0M514.4 364.9h0M520.1 364.8h0M524.4 364.4h0M529.9 364.0h0M521.6 364.0h0M515.8 363.9h0M528.2 363.9h0M517.5 363.7h0M526.6 363.5h0M523.1 363.2h0M519.0 362.8h0M525.1 362.6h0M520.7 362.5h0M513.5 362.2h0M522.2 361.8h0M531.6 361.7h0M515.1 361.6h0M523.8 361.6h0M529.9 361.4h0M516.8 361.3h0M528.2 361.2h0M518.5 361.2h0M526.6 361.0h0M520.1 360.7h0M521.7 360.4h0M525.0 360.3h0M523.4 359.9h0M528.4 358.9h0M526.7 358.8h0M521.2 358.7h0M514.0 358.5h0M524.5 358.4h0M522.9 358.3h0M518.1 357.7h0M514.5 357.6h0M531.2 357.6h0M516.2 357.5h0M529.5 357.4h0M517.9 357.4h0M527.8 357.3h0M519.6 357.2h0M526.1 357.2h0M521.2 357.0h0M524.5 356.6h0M522.9 356.4h0M527.7 354.9h0M519.4 354.5h0M526.1 354.4h0M521.1 354.0h0M524.4 353.9h0M522.9 353.3h0M529.5 353.0h0M516.3 353.0h0M527.8 352.7h0M518.0 352.7h0M526.1 352.4h0M519.6 352.4h0M521.3 352.3h0M524.5 352.0h0M522.9 351.6h0M528.5 351.1h0M514.2 351.0h0M531.8 351.0h0M514.5 350.7h0M530.1 350.6h0M516.2 350.6h0M517.9 350.5h0M528.4 350.3h0M526.8 350.2h0M519.5 349.9h0M521.2 349.8h0M524.5 349.7h0M522.9 349.6h0M518.0 348.8h0M527.7 348.8h0M526.0 348.7h0M519.6 348.2h0M521.3 348.1h0M524.5 347.9h0M522.9 347.4h0M522.9 337.4h0M524.5 334.4h0M522.9 334.3h0M522.9 332.1h0M522.9 329.3h0M522.6 326.5h0M524.1 325.7h0M522.9 324.6h0M522.9 317.3h0M522.9 313.2h0M522.9 311.5h0" stroke="#8e8e8e" stroke-width="1.70" stroke-linecap="round" fill="none"/>
<rect x="513.2" y="361.0" width="19.3" height="22.6" fill="rgba(70,70,70,0.5)"/>
<path d="M522.9 355.6V362.5M522.9 388.1V382.2M517.9 355.6h10M517.9 388.1h10" stroke="#000" stroke-width="1.6" fill="none"/>
<path d="M513.2 373.5h19.3" stroke="#000" stroke-width="1.6" fill="none"/>
<path d="M549.6 416.6h0M540.0 416.4h0M541.7 416.3h0M548.0 415.9h0M543.1 415.3h0M546.4 415.3h0M544.8 415.0h0M541.5 413.7h0M546.2 413.6h0M543.1 413.0h0M548.8 412.7h0M544.8 412.6h0M541.6 412.0h0M547.3 411.8h0M552.1 411.6h0M540.0 411.4h0M538.6 411.4h0M546.6 411.3h0M536.2 411.2h0M537.7 411.1h0M549.4 411.0h0M537.6 410.8h0M545.0 410.8h0M542.7 410.7h0M538.5 410.5h0M553.4 410.4h0M550.9 410.4h0M536.5 410.2h0M540.1 410.1h0M547.9 410.1h0M546.3 409.6h0M543.8 409.5h0M541.6 409.3h0M546.0 409.2h0M549.4 409.0h0M552.4 409.0h0M537.7 408.9h0M546.1 408.8h0M550.5 408.7h0M545.4 408.7h0M539.1 408.7h0M549.8 408.6h0M545.2 408.6h0M541.0 408.5h0M535.4 408.5h0M553.8 408.4h0M548.4 408.3h0M537.4 408.2h0M542.9 408.0h0M552.2 407.8h0M539.0 407.7h0M550.5 407.6h0M541.1 407.3h0M546.4 407.3h0M544.3 407.1h0M535.9 406.8h0M549.0 406.7h0M548.0 406.7h0M549.0 406.7h0M536.8 406.5h0M553.3 406.5h0M542.4 406.2h0M539.5 406.0h0M545.5 405.9h0M536.4 405.7h0M550.6 405.7h0M540.0 405.6h0M551.9 405.5h0M543.6 405.4h0M547.8 405.4h0M545.2 405.4h0M539.5 405.2h0M538.9 405.0h0M550.4 404.8h0M549.7 404.8h0M554.1 404.8h0M541.9 404.8h0M552.5 404.3h0M535.5 404.2h0M537.2 404.2h0M540.3 404.2h0M543.5 404.1h0M546.9 404.0h0M552.5 403.9h0M549.4 403.8h0M544.8 403.8h0M550.5 403.7h0M544.5 403.7h0M540.0 403.6h0M548.7 403.5h0M542.7 403.2h0M546.7 403.2h0M546.2 403.1h0M546.1 403.1h0M551.3 402.8h0M542.8 402.7h0M536.3 402.7h0M553.0 402.7h0M538.0 402.7h0M551.3 402.4h0M541.2 402.4h0M542.9 402.1h0M547.8 402.1h0M544.8 402.0h0M539.5 401.8h0M549.7 401.8h0M553.9 401.2h0M546.4 401.1h0M542.0 400.7h0M543.8 400.7h0M538.4 400.5h0M548.6 400.5h0M540.3 400.3h0M536.0 400.3h0M551.3 400.3h0M535.7 400.3h0M537.4 400.2h0M545.2 400.0h0M552.8 399.9h0M542.4 399.8h0M540.4 399.6h0M551.2 399.6h0M540.5 399.6h0M547.2 399.5h0M550.9 399.5h0M538.9 399.4h0M540.6 399.4h0M543.8 398.9h0M549.3 398.8h0M536.3 398.6h0M547.7 398.6h0M553.8 398.5h0M546.0 398.5h0M543.6 398.4h0M535.5 398.2h0M537.4 398.1h0M541.5 397.9h0M551.6 397.5h0M539.4 397.5h0M538.2 397.4h0M544.8 397.2h0M548.6 397.1h0M549.1 397.1h0M542.2 397.0h0M550.0 397.0h0M536.5 396.9h0M553.3 396.8h0M546.6 396.8h0M541.1 396.7h0M548.4 396.5h0M540.5 396.5h0M539.5 396.3h0M551.8 396.3h0M551.7 396.3h0M542.4 396.1h0M553.6 396.1h0M548.2 396.0h0M543.7 395.9h0M551.3 395.7h0M540.7 395.6h0M545.4 395.6h0M537.5 395.5h0M535.5 395.4h0M553.9 395.4h0M537.2 395.2h0M552.2 395.2h0M538.9 395.2h0M550.1 395.1h0M540.6 395.0h0M546.9 394.8h0M543.0 394.2h0M544.4 394.2h0M548.7 394.1h0M541.9 393.9h0M541.9 393.9h0M545.5 393.9h0M551.3 393.8h0M543.2 393.8h0M545.5 393.6h0M537.4 393.5h0M545.4 393.5h0M537.7 393.2h0M548.5 393.2h0M540.3 393.2h0M544.8 393.1h0M535.6 393.0h0M553.9 392.9h0M537.3 392.8h0M547.7 392.6h0M541.9 392.5h0M552.3 392.2h0M550.6 392.2h0M538.8 392.0h0M546.2 391.9h0M543.5 391.9h0M549.1 391.6h0M540.4 391.5h0M544.9 390.9h0M547.7 390.5h0M541.8 390.5h0M538.8 390.1h0M543.4 390.0h0M546.3 389.6h0M551.1 389.4h0M549.4 389.1h0M540.1 389.0h0M544.8 388.9h0M547.8 388.5h0M541.7 388.5h0M543.3 387.8h0M546.3 387.7h0M538.4 387.4h0M551.2 387.2h0M549.5 387.0h0M544.8 387.0h0M540.0 386.9h0M547.8 386.7h0M541.5 386.1h0M543.2 385.9h0M546.4 385.8h0M552.9 385.5h0M553.5 385.4h0M544.8 385.3h0M535.9 384.9h0M537.6 384.8h0M551.9 384.8h0M550.3 384.5h0M540.1 384.4h0M548.5 384.2h0M541.8 384.2h0M546.8 384.0h0M543.5 384.0h0M545.1 383.5h0M536.4 383.2h0M538.1 383.2h0M551.4 382.9h0M549.7 382.9h0M539.7 382.6h0M541.4 382.4h0M548.1 382.4h0M543.1 382.2h0M546.4 382.1h0M544.8 381.9h0M546.2 377.2h0M544.8 376.3h0M546.4 373.4h0M544.8 372.8h0M544.8 371.0h0M544.8 368.2h0M544.8 365.1h0M544.8 357.9h0M544.8 352.7h0M544.8 350.1h0M541.5 347.0h0M543.1 346.6h0M546.4 346.6h0M544.8 346.0h0M546.2 339.9h0M544.8 339.0h0M544.8 336.3h0" stroke="#f06a40" stroke-width="1.70" stroke-linecap="round" fill="none"/>
<rect x="535.1" y="392.0" width="19.3" height="13.8" fill="rgba(70,70,70,0.5)"/>
<path d="M544.8 390.6V393.5M544.8 407.3V404.3M539.8 390.6h10M539.8 407.3h10" stroke="#000" stroke-width="1.6" fill="none"/>
<path d="M535.1 398.9h19.3" stroke="#000" stroke-width="1.6" fill="none"/>
<text x="544.8" y="355.5" font-size="11" text-anchor="middle" textLength="16" lengthAdjust="spacingAndGlyphs" fill="#222">****</text>
<path d="M568.3 389.3h0M566.6 389.2h0M565.7 387.7h0M567.0 386.7h0M565.7 385.6h0M568.3 384.3h0M566.6 384.2h0M568.2 382.2h0M566.6 381.6h0M565.4 378.6h0M568.3 378.3h0M566.8 377.6h0M565.3 376.7h0M558.8 376.5h0M571.7 376.4h0M569.9 376.2h0M574.8 376.0h0M560.4 375.9h0M568.2 375.5h0M562.7 375.3h0M566.3 375.3h0M573.2 375.2h0M563.9 375.2h0M563.7 375.1h0M557.7 375.1h0M573.1 374.8h0M561.7 374.7h0M571.4 374.7h0M563.4 374.6h0M569.6 374.5h0M575.7 374.3h0M559.2 374.2h0M567.4 374.0h0M565.5 373.8h0M574.3 373.4h0M560.5 373.2h0M572.6 373.1h0M562.2 373.1h0M570.9 373.1h0M563.9 373.0h0M569.2 372.8h0M566.6 372.5h0M565.1 371.8h0M570.4 371.2h0M568.7 371.2h0M567.1 370.7h0M563.8 370.2h0M565.5 370.1h0M568.3 369.3h0M571.0 369.0h0M566.6 368.9h0M558.6 368.5h0M560.3 368.4h0M562.0 368.3h0M569.6 368.1h0M574.2 367.8h0M572.5 367.7h0M563.6 367.7h0M565.3 367.6h0M568.0 367.5h0M557.9 367.0h0M571.1 366.8h0M559.6 366.7h0M561.2 366.5h0M566.6 366.5h0M569.5 366.1h0M564.5 365.9h0M575.9 365.8h0M574.2 365.8h0M572.5 365.8h0M562.5 365.5h0M565.4 365.2h0M570.9 365.1h0M568.2 365.0h0M560.1 364.6h0M558.2 364.5h0M563.9 364.4h0M566.7 364.1h0M572.4 364.1h0M569.7 363.9h0M559.6 363.6h0M562.3 363.5h0M565.2 363.3h0M574.3 363.3h0M561.8 363.2h0M575.9 363.1h0M568.2 363.1h0M571.3 362.8h0M558.1 362.6h0M563.3 362.5h0M566.6 362.4h0M560.5 362.0h0M558.2 362.0h0M574.7 362.0h0M559.9 361.9h0M573.0 361.9h0M569.9 361.8h0M564.8 361.7h0M561.4 361.1h0M568.4 361.1h0M566.1 360.6h0M572.2 360.4h0M562.9 360.4h0M559.7 360.2h0M570.5 360.2h0M575.3 359.6h0M564.4 359.6h0M567.8 359.5h0M564.6 359.4h0M567.2 359.3h0M576.0 359.1h0M573.2 359.1h0M569.2 359.1h0M560.9 359.0h0M558.4 358.8h0M572.3 358.6h0M562.5 358.6h0M570.6 358.3h0M565.8 358.3h0M574.9 357.9h0M569.0 357.7h0M559.6 357.7h0M563.9 357.6h0M567.3 357.5h0M573.3 357.3h0M561.0 356.7h0M571.8 356.5h0M570.1 356.4h0M565.0 356.3h0M562.6 356.0h0M568.4 356.0h0M566.7 355.9h0M563.8 354.9h0M565.5 354.7h0M570.0 354.5h0M575.7 354.3h0M557.6 354.3h0M568.3 354.2h0M560.7 354.0h0M572.5 354.0h0M566.8 353.5h0M562.3 353.5h0M566.9 353.2h0M564.6 353.2h0M574.5 353.1h0M558.8 353.1h0M571.2 352.9h0M569.5 352.9h0M563.9 352.9h0M573.1 352.3h0M560.3 352.3h0M568.1 352.0h0M557.3 351.9h0M566.0 351.8h0M562.1 351.6h0M568.1 351.5h0M564.8 351.4h0M565.0 351.3h0M570.2 351.3h0M561.6 351.3h0M565.3 351.2h0M575.7 351.1h0M572.1 350.9h0M558.4 350.6h0M574.1 350.6h0M560.1 350.6h0M570.4 350.5h0M566.8 350.3h0M562.8 350.1h0M568.8 349.9h0M564.5 349.7h0M573.0 349.3h0M560.9 349.0h0M565.9 348.9h0M567.6 348.7h0M571.6 348.4h0M562.3 348.1h0M564.0 348.0h0M569.9 347.9h0M566.6 347.3h0M560.7 347.0h0M575.9 346.9h0M568.7 346.8h0M564.9 346.6h0M562.9 346.5h0M575.3 346.5h0M558.5 346.5h0M573.6 346.4h0M560.2 346.4h0M572.0 346.3h0M561.9 346.2h0M570.3 346.2h0M563.6 346.0h0M568.6 346.0h0M565.3 346.0h0M566.9 345.5h0M575.8 344.4h0M565.9 344.1h0M561.6 344.0h0M563.8 344.0h0M572.7 343.9h0M570.4 343.8h0M565.5 343.7h0M558.1 343.5h0M574.8 343.4h0M568.7 343.4h0M567.0 343.0h0M559.7 342.9h0M573.2 342.7h0M561.4 342.5h0M571.5 342.5h0M563.1 342.4h0M569.9 342.1h0M564.7 342.0h0M568.3 341.5h0M566.3 341.5h0M567.3 340.1h0M571.3 339.2h0M562.1 339.1h0M566.1 338.9h0M569.7 338.8h0M563.6 338.5h0M568.1 338.2h0M565.0 337.4h0M566.6 337.2h0M563.0 336.7h0M569.6 336.5h0M564.4 335.8h0M568.2 335.6h0M566.0 335.3h0M560.1 334.2h0M567.3 334.2h0M571.5 334.0h0M561.6 333.4h0M563.3 333.4h0M570.0 333.2h0M565.0 333.0h0M568.3 332.8h0M566.6 332.6h0M571.5 331.5h0M569.8 331.4h0M563.5 331.3h0M565.1 330.7h0M568.3 330.7h0M566.6 330.1h0M560.2 329.2h0M561.9 329.1h0M571.7 328.3h0M570.0 328.2h0M563.3 328.0h0M565.0 328.0h0M568.3 327.9h0M566.6 327.8h0M565.0 323.5h0M568.3 323.4h0M566.6 323.4h0M566.6 320.9h0M566.0 318.2h0M568.3 317.2h0M566.6 316.7h0" stroke="#f06a40" stroke-width="1.70" stroke-linecap="round" fill="none"/>
<rect x="557.0" y="343.0" width="19.3" height="23.7" fill="rgba(70,70,70,0.5)"/>
<path d="M566.6 336.9V344.5M566.6 372.6V365.2M561.6 336.9h10M561.6 372.6h10" stroke="#000" stroke-width="1.6" fill="none"/>
<path d="M557.0 355.4h19.3" stroke="#000" stroke-width="1.6" fill="none"/>
<text x="566.6" y="319.1" font-size="11" text-anchor="middle" textLength="16" lengthAdjust="spacingAndGlyphs" fill="#222">****</text>
<path d="M533.5 373.5H577.0" stroke="#111" stroke-width="1.5" stroke-dasharray="5,2.5" fill="none"/>
<rect x="511.9" y="307.4" width="65.7" height="123.5" fill="none" stroke="#666" stroke-width="1.2"/>
<path d="M508.9 430.9H511.9" stroke="#444" stroke-width="1"/>
<text x="507.7" y="434.5" font-size="10" text-anchor="end" fill="#222">0.00</text>
<path d="M508.9 406.3H511.9" stroke="#444" stroke-width="1"/>
<text x="507.7" y="409.9" font-size="10" text-anchor="end" fill="#222">0.05</text>
<path d="M508.9 381.7H511.9" stroke="#444" stroke-width="1"/>
<text x="507.7" y="385.3" font-size="10" text-anchor="end" fill="#222">0.10</text>
<path d="M508.9 357.1H511.9" stroke="#444" stroke-width="1"/>
<text x="507.7" y="360.7" font-size="10" text-anchor="end" fill="#222">0.15</text>
<path d="M508.9 332.5H511.9" stroke="#444" stroke-width="1"/>
<text x="507.7" y="336.1" font-size="10" text-anchor="end" fill="#222">0.20</text>
<path d="M508.9 307.9H511.9" stroke="#444" stroke-width="1"/>
<text x="507.7" y="311.5" font-size="10" text-anchor="end" fill="#222">0.25</text>
<path d="M522.9 430.9v3" stroke="#444" stroke-width="1"/>
<path d="M544.8 430.9v3" stroke="#444" stroke-width="1"/>
<path d="M566.6 430.9v3" stroke="#444" stroke-width="1"/>
<text x="545.2" y="302.2" font-size="10.8" text-anchor="middle" fill="#222">LNCaP</text>
<text x="522.4" y="441.9" font-size="9.3" text-anchor="end" fill="#222" transform="rotate(-45 522.4 441.9)">siCTR</text>
<text x="544.2" y="441.9" font-size="9.3" text-anchor="end" fill="#222" transform="rotate(-45 544.2 441.9)">siBCAT1</text>
<text x="566.1" y="441.9" font-size="9.3" text-anchor="end" fill="#222" transform="rotate(-45 566.1 441.9)">siBCAT2</text>
<path d="M523.9 320.7V309.6H566.5V314.3" fill="none" stroke="#333" stroke-width="1.1"/>
<path d="M523.9 329V324.4H544.3V347.6" fill="none" stroke="#333" stroke-width="1.1"/>
<text x="482.3" y="367.0" font-size="11.5" text-anchor="middle" textLength="100" lengthAdjust="spacingAndGlyphs" fill="#222" transform="rotate(-90 482.3 367.0)">Mean Nile Red / Cell</text>
<path d="M620.9 401.2h0M623.6 401.1h0M622.2 400.1h0M620.6 399.5h0M623.5 398.7h0M621.8 398.3h0M626.7 396.8h0M625.0 396.7h0M618.5 396.2h0M620.2 396.1h0M623.5 395.9h0M621.8 395.6h0M623.0 394.2h0M621.4 393.6h0M629.0 393.5h0M617.9 393.2h0M618.6 393.2h0M612.9 393.1h0M614.6 393.1h0M628.9 393.0h0M626.9 392.9h0M618.0 392.7h0M625.2 392.6h0M619.7 392.6h0M622.7 392.5h0M630.8 392.1h0M616.0 392.1h0M621.2 391.8h0M628.2 391.4h0M616.0 391.3h0M616.8 391.3h0M627.7 391.2h0M621.2 391.2h0M618.0 391.0h0M624.6 391.0h0M614.0 390.9h0M620.0 390.9h0M618.1 390.8h0M625.6 390.7h0M627.6 390.7h0M623.3 390.6h0M629.8 390.5h0M626.8 390.5h0M630.3 390.5h0M615.8 390.5h0M627.7 390.4h0M626.0 390.4h0M621.6 390.4h0M617.8 390.1h0M615.4 390.1h0M630.7 389.8h0M617.1 389.7h0M618.8 389.7h0M624.5 389.5h0M613.4 389.2h0M613.3 389.1h0M613.8 389.0h0M629.2 388.9h0M622.5 388.9h0M627.1 388.7h0M620.2 388.6h0M621.8 388.6h0M615.9 388.3h0M614.2 388.1h0M617.6 388.0h0M613.4 388.0h0M624.0 387.9h0M625.6 387.9h0M629.4 387.5h0M618.4 387.4h0M630.7 387.4h0M617.4 387.4h0M618.6 387.4h0M623.4 387.3h0M614.3 387.3h0M613.0 387.2h0M630.8 387.2h0M629.1 387.1h0M623.0 387.0h0M614.9 387.0h0M620.9 386.9h0M620.7 386.9h0M621.6 386.8h0M617.0 386.8h0M627.5 386.7h0M618.1 386.6h0M624.5 386.6h0M624.1 386.5h0M614.9 386.2h0M625.9 386.1h0M617.3 386.1h0M621.6 385.9h0M619.1 385.9h0M613.3 385.9h0M616.5 385.8h0M614.2 385.8h0M616.5 385.7h0M630.0 385.7h0M612.9 385.5h0M614.6 385.4h0M625.9 385.3h0M628.4 385.2h0M623.1 385.2h0M620.3 384.7h0M617.5 384.3h0M618.6 384.2h0M615.7 384.2h0M630.8 384.1h0M627.2 384.0h0M621.9 384.0h0M618.1 383.9h0M625.1 383.8h0M613.0 383.6h0M623.4 383.3h0M630.0 383.3h0M627.1 383.0h0M614.5 382.9h0M616.4 382.6h0M619.2 382.6h0M623.9 382.6h0M620.9 382.6h0M619.8 382.6h0M623.0 382.3h0M617.3 382.2h0M625.7 382.2h0M616.0 382.2h0M628.6 381.9h0M618.0 381.9h0M613.1 381.9h0M625.7 381.9h0M621.3 381.8h0M629.4 381.7h0M628.2 381.7h0M615.5 381.5h0M630.0 381.3h0M627.5 381.3h0M624.2 381.1h0M616.7 381.0h0M620.0 380.7h0M618.3 380.6h0M622.4 380.5h0M613.6 380.2h0M626.2 380.2h0M614.2 380.1h0M620.8 380.1h0M614.9 380.1h0M625.5 380.0h0M619.9 379.9h0M629.5 379.7h0M627.8 379.5h0M623.9 379.4h0M617.0 379.2h0M613.4 379.1h0M621.4 379.1h0M616.1 378.9h0M618.5 378.8h0M626.3 378.3h0M625.1 378.2h0M630.2 378.1h0M622.8 378.1h0M614.6 377.9h0M627.4 377.9h0M628.4 377.8h0M620.0 377.8h0M626.8 377.8h0M617.2 377.6h0M621.4 377.2h0M618.9 377.1h0M620.4 377.0h0M629.0 376.9h0M613.3 376.8h0M624.1 376.8h0M613.6 376.6h0M615.6 376.6h0M630.2 376.4h0M618.3 376.4h0M626.1 376.2h0M629.3 376.0h0M626.7 376.0h0M622.7 375.9h0M627.2 375.8h0M629.1 375.8h0M619.7 375.7h0M620.5 375.6h0M629.7 375.5h0M617.0 375.5h0M620.9 375.4h0M628.1 375.4h0M617.9 375.3h0M617.4 375.3h0M614.9 375.0h0M614.3 375.0h0M624.3 375.0h0M619.8 375.0h0M630.7 374.9h0M625.2 374.9h0M626.5 374.9h0M613.0 374.8h0M630.8 374.8h0M617.7 374.8h0M620.8 374.4h0M620.8 374.2h0M622.4 374.2h0M629.3 374.1h0M627.3 373.9h0M615.5 373.9h0M614.4 373.9h0M619.1 373.8h0M620.8 373.8h0M616.1 373.6h0M626.0 373.5h0M624.6 373.5h0M625.0 373.3h0M621.0 373.2h0M612.8 373.2h0M627.9 373.1h0M620.7 373.1h0M623.6 372.9h0M617.6 372.7h0M617.6 372.7h0M629.9 372.3h0M630.5 372.3h0M629.0 372.3h0M614.9 372.2h0M626.8 372.1h0M619.2 372.1h0M622.0 372.1h0M625.1 371.8h0M613.3 371.5h0M613.0 371.3h0M616.3 371.2h0M623.6 371.2h0M620.6 371.1h0M630.4 370.8h0M628.4 370.7h0M617.9 370.7h0M626.7 370.4h0M622.1 370.3h0M614.3 370.2h0M625.1 370.0h0M619.3 369.8h0M629.5 369.4h0M615.7 369.3h0M623.5 369.3h0M620.9 369.1h0M627.9 369.0h0M617.3 368.8h0M626.2 368.6h0M622.3 368.1h0M618.8 367.9h0M624.7 367.8h0M620.4 367.4h0M615.5 366.6h0M617.2 366.5h0M623.5 366.5h0M621.8 366.5h0M626.6 366.2h0M618.5 365.5h0M625.2 365.3h0M628.1 365.1h0M620.2 365.1h0M623.5 364.8h0M621.8 364.7h0M615.3 364.4h0M617.0 364.3h0M626.8 364.1h0M618.5 363.5h0M625.2 363.5h0M620.2 363.2h0M623.5 363.1h0M621.8 363.0h0M628.5 361.7h0M615.2 361.7h0M626.9 361.6h0M616.8 361.5h0M625.2 361.4h0M618.5 361.1h0M620.2 361.0h0M623.5 360.9h0M621.8 360.6h0M630.2 360.2h0M613.4 359.8h0M615.1 359.8h0M628.6 359.7h0M626.9 359.7h0M616.8 359.5h0M625.2 359.3h0M618.5 359.2h0M620.2 359.2h0M623.5 359.1h0M621.8 358.9h0M621.8 355.3h0M621.8 350.9h0M622.5 348.2h0M621.2 347.2h0M623.4 346.3h0M621.8 345.7h0M621.8 343.8h0M623.4 338.0h0M621.8 337.4h0" stroke="#8e8e8e" stroke-width="1.70" stroke-linecap="round" fill="none"/>
<rect x="612.6" y="372.0" width="18.6" height="14.9" fill="rgba(70,70,70,0.5)"/>
<path d="M621.8 368.6V373.5M621.8 388.3V385.5M616.8 368.6h10M616.8 388.3h10" stroke="#000" stroke-width="1.6" fill="none"/>
<path d="M612.6 379.4h18.6" stroke="#000" stroke-width="1.6" fill="none"/>
<path d="M641.9 408.6h0M644.2 408.4h0M645.9 407.4h0M643.0 407.2h0M640.7 406.2h0M644.9 406.1h0M642.2 405.4h0M643.8 404.7h0M643.0 403.3h0M641.4 400.9h0M636.6 400.4h0M639.1 400.4h0M643.9 400.3h0M651.0 400.2h0M634.7 400.1h0M639.1 400.0h0M637.0 399.9h0M639.3 399.8h0M647.6 399.8h0M642.6 399.7h0M639.7 399.7h0M645.6 399.5h0M636.4 399.5h0M639.6 399.3h0M647.2 399.3h0M636.1 399.1h0M651.6 399.0h0M641.3 399.0h0M649.9 398.9h0M646.1 398.9h0M644.4 398.8h0M637.8 398.6h0M634.2 398.5h0M648.1 398.4h0M642.8 398.2h0M635.0 398.1h0M636.7 398.1h0M638.4 398.0h0M640.1 397.7h0M643.0 397.6h0M649.4 397.3h0M651.6 397.3h0M646.8 397.3h0M645.1 397.1h0M650.8 397.0h0M649.1 397.0h0M641.4 396.5h0M644.2 396.4h0M637.3 396.3h0M640.8 396.2h0M651.5 396.2h0M634.9 396.2h0M637.6 396.1h0M647.8 395.8h0M639.3 395.7h0M646.1 395.7h0M644.4 395.6h0M641.7 395.2h0M650.2 395.1h0M636.0 394.8h0M643.0 394.7h0M640.2 394.3h0M648.7 394.2h0M645.5 394.1h0M647.3 394.0h0M639.3 393.9h0M637.4 393.9h0M638.7 393.9h0M633.9 393.9h0M641.6 393.6h0M651.8 393.6h0M636.0 393.1h0M644.1 393.1h0M636.0 393.0h0M638.7 393.0h0M649.0 392.8h0M648.5 392.8h0M650.3 392.8h0M640.3 392.7h0M642.0 392.5h0M646.1 392.5h0M645.2 392.4h0M646.7 392.4h0M648.7 392.3h0M643.5 392.2h0M634.3 392.2h0M642.0 391.8h0M637.1 391.7h0M648.9 391.6h0M644.7 391.5h0M642.1 391.5h0M651.5 391.4h0M638.9 391.3h0M645.4 391.1h0M640.0 391.0h0M639.3 391.0h0M641.4 391.0h0M647.1 390.9h0M643.4 390.8h0M649.3 390.8h0M647.5 390.8h0M635.1 390.7h0M650.0 390.6h0M643.8 390.5h0M643.5 390.5h0M636.6 390.3h0M641.8 390.1h0M639.4 390.1h0M634.2 389.8h0M641.4 389.7h0M651.1 389.7h0M652.0 389.7h0M642.4 389.6h0M646.3 389.6h0M643.0 389.6h0M649.9 389.5h0M648.4 389.3h0M650.3 389.2h0M634.2 389.2h0M634.6 389.1h0M637.8 389.1h0M646.3 389.1h0M640.7 389.0h0M644.6 388.9h0M636.2 388.5h0M650.8 388.4h0M639.2 388.1h0M642.1 388.1h0M651.2 388.0h0M649.5 388.0h0M639.1 387.9h0M636.4 387.7h0M647.8 387.7h0M643.7 387.5h0M646.2 387.4h0M634.1 387.1h0M640.6 387.1h0M637.8 386.7h0M642.1 386.4h0M644.9 386.2h0M642.4 386.2h0M638.0 386.2h0M650.9 386.1h0M649.1 386.0h0M642.9 386.0h0M635.3 385.9h0M647.4 385.8h0M639.6 385.6h0M645.8 385.2h0M641.2 385.1h0M636.7 385.0h0M651.9 384.7h0M650.2 384.6h0M637.1 384.5h0M643.2 384.3h0M644.3 384.3h0M642.6 384.2h0M638.1 384.1h0M647.0 384.0h0M634.2 383.9h0M650.5 383.8h0M635.2 383.8h0M640.1 383.7h0M648.7 383.6h0M637.6 383.3h0M647.3 383.2h0M637.7 383.0h0M637.5 383.0h0M651.5 382.9h0M641.5 382.8h0M649.6 382.7h0M634.6 382.7h0M645.2 382.7h0M643.5 382.7h0M636.2 382.7h0M649.8 382.5h0M645.4 382.4h0M637.8 382.3h0M639.6 382.1h0M649.1 381.8h0M648.3 381.8h0M634.8 381.6h0M646.9 381.6h0M641.2 381.5h0M651.6 381.2h0M644.2 381.1h0M643.0 381.1h0M651.0 380.8h0M635.0 380.8h0M649.3 380.8h0M636.7 380.7h0M638.4 380.7h0M645.9 380.4h0M640.0 380.1h0M647.7 380.1h0M641.7 379.9h0M644.3 379.8h0M638.8 378.9h0M646.6 378.8h0M643.0 378.7h0M640.4 378.2h0M645.3 377.8h0M651.7 377.4h0M633.9 377.4h0M641.8 377.3h0M647.7 377.3h0M642.2 377.2h0M649.9 377.1h0M648.7 377.0h0M637.3 376.9h0M643.9 376.8h0M647.1 376.5h0M651.7 376.2h0M638.8 376.2h0M639.1 376.2h0M651.9 376.1h0M639.4 376.1h0M634.9 375.9h0M650.2 375.9h0M645.5 375.9h0M641.1 375.8h0M642.7 375.5h0M636.3 375.1h0M648.7 375.0h0M638.0 374.8h0M644.2 374.7h0M647.1 374.6h0M639.6 374.3h0M641.3 374.1h0M645.6 373.7h0M643.0 373.6h0M638.7 372.7h0M640.4 372.6h0M647.6 372.2h0M645.1 372.0h0M642.0 371.9h0M636.9 371.6h0M651.2 371.4h0M643.6 371.3h0M634.7 371.3h0M649.5 371.1h0M636.4 371.0h0M647.8 371.0h0M638.1 371.0h0M639.8 370.8h0M646.2 370.4h0M641.3 370.1h0M644.6 369.8h0M643.0 369.8h0M644.6 360.1h0M643.0 359.8h0M641.8 357.4h0M643.4 356.8h0M643.0 355.2h0M643.0 350.0h0M643.0 344.6h0M644.1 343.3h0M643.0 342.1h0M643.0 339.5h0M643.0 337.7h0" stroke="#f06a40" stroke-width="1.70" stroke-linecap="round" fill="none"/>
<rect x="633.7" y="379.7" width="18.6" height="15.2" fill="rgba(70,70,70,0.5)"/>
<path d="M643.0 380.0V381.2M643.0 396.7V393.4M638.0 380.0h10M638.0 396.7h10" stroke="#000" stroke-width="1.6" fill="none"/>
<path d="M633.7 388.3h18.6" stroke="#000" stroke-width="1.6" fill="none"/>
<text x="643.0" y="337.5" font-size="11" text-anchor="middle" textLength="16" lengthAdjust="spacingAndGlyphs" fill="#222">****</text>
<path d="M664.0 397.2h0M662.8 395.8h0M665.5 395.6h0M664.0 394.7h0M666.9 393.8h0M662.1 393.5h0M665.3 393.4h0M663.7 392.8h0M666.0 391.6h0M662.6 391.3h0M664.3 391.2h0M664.0 389.6h0M662.6 388.4h0M665.5 388.3h0M664.0 387.5h0M661.8 386.5h0M657.8 386.1h0M658.7 385.9h0M669.6 385.8h0M664.9 385.8h0M656.3 385.6h0M670.8 385.5h0M663.1 385.4h0M659.6 385.3h0M667.2 385.0h0M669.1 384.9h0M661.3 384.9h0M665.4 384.7h0M664.6 384.6h0M672.9 384.5h0M668.8 384.5h0M667.9 384.4h0M658.1 384.4h0M657.2 384.2h0M655.1 384.0h0M672.2 383.8h0M666.2 383.8h0M656.8 383.8h0M662.5 383.7h0M670.6 383.5h0M658.4 383.4h0M668.9 383.4h0M660.1 383.4h0M664.1 383.0h0M667.4 382.6h0M661.5 382.3h0M665.7 382.2h0M673.0 381.8h0M663.0 381.6h0M655.6 381.5h0M657.2 381.2h0M668.8 381.1h0M664.5 380.9h0M670.9 380.8h0M664.8 380.8h0M659.2 380.8h0M667.2 380.5h0M661.0 380.3h0M672.3 380.3h0M660.8 380.2h0M667.3 380.0h0M662.5 380.0h0M656.1 379.7h0M670.7 379.7h0M657.8 379.6h0M669.0 379.4h0M665.7 379.4h0M664.0 379.3h0M659.3 378.8h0M661.2 378.6h0M672.8 378.4h0M661.6 378.4h0M667.7 378.3h0M660.9 378.1h0M655.7 378.0h0M672.3 377.9h0M657.4 377.8h0M670.6 377.8h0M662.5 377.7h0M664.9 377.6h0M669.0 377.3h0M666.9 377.2h0M658.9 377.1h0M663.7 376.5h0M660.5 376.3h0M665.8 375.9h0M668.2 375.8h0M662.0 375.7h0M670.8 375.3h0M664.4 374.9h0M657.5 374.8h0M655.1 374.8h0M673.1 374.6h0M667.0 374.6h0M660.2 374.5h0M669.5 374.2h0M662.9 374.2h0M656.5 373.9h0M671.6 373.7h0M665.6 373.6h0M658.1 373.3h0M668.1 373.2h0M661.3 373.1h0M664.0 373.0h0M670.3 372.6h0M659.6 372.6h0M666.8 372.2h0M662.5 371.9h0M669.0 371.6h0M665.2 371.5h0M671.5 371.2h0M658.5 371.2h0M660.6 371.1h0M663.7 370.8h0M656.8 370.6h0M667.6 370.6h0M670.2 370.0h0M661.8 370.0h0M666.0 369.9h0M659.0 369.5h0M658.0 369.4h0M664.5 369.2h0M663.2 369.0h0M669.0 368.9h0M655.1 368.7h0M660.1 368.6h0M672.8 368.5h0M656.8 368.3h0M667.4 368.3h0M671.1 368.2h0M658.4 368.2h0M661.7 368.0h0M665.7 368.0h0M664.0 367.6h0M669.7 367.3h0M659.6 366.9h0M668.1 366.7h0M662.7 366.6h0M671.6 366.0h0M673.0 366.0h0M666.5 365.9h0M664.8 365.8h0M660.5 365.5h0M671.4 365.5h0M656.2 365.5h0M669.9 365.4h0M657.8 365.3h0M670.2 365.3h0M663.4 365.0h0M663.5 364.6h0M668.0 364.5h0M668.8 364.3h0M662.5 364.1h0M665.0 364.1h0M666.4 364.1h0M672.0 364.1h0M659.2 364.1h0M661.4 364.1h0M659.6 364.0h0M672.9 364.0h0M657.6 364.0h0M655.6 363.9h0M671.6 363.9h0M659.7 363.8h0M663.4 363.7h0M665.0 363.3h0M667.6 363.2h0M657.0 363.0h0M670.2 362.9h0M666.9 362.9h0M660.9 362.6h0M673.0 362.5h0M658.6 362.5h0M668.7 362.1h0M664.0 362.0h0M655.8 361.8h0M671.5 361.8h0M665.7 361.7h0M662.3 361.6h0M659.8 361.3h0M667.3 361.1h0M670.1 360.8h0M658.1 360.7h0M657.5 360.6h0M664.6 360.4h0M663.4 360.3h0M668.8 360.3h0M657.7 360.2h0M667.9 360.2h0M656.2 360.1h0M661.0 360.1h0M669.8 360.0h0M666.2 360.0h0M656.7 359.9h0M672.6 359.9h0M666.2 359.8h0M656.4 359.5h0M658.7 359.5h0M664.6 359.1h0M662.2 359.1h0M660.5 359.1h0M671.2 358.9h0M669.5 358.7h0M667.6 358.5h0M657.5 358.2h0M666.0 358.1h0M664.0 358.1h0M659.2 357.9h0M661.7 357.9h0M655.8 357.7h0M672.9 357.6h0M655.4 357.3h0M670.6 357.2h0M668.9 357.1h0M659.2 356.9h0M662.9 356.7h0M665.3 356.6h0M657.4 356.5h0M667.3 356.5h0M660.8 356.3h0M672.0 356.1h0M656.5 356.1h0M665.9 355.7h0M662.4 355.7h0M670.4 355.5h0M658.1 355.4h0M668.7 355.4h0M664.2 355.3h0M659.7 354.9h0M667.3 354.5h0M661.3 354.3h0M663.0 354.1h0M665.7 353.8h0M664.3 353.0h0M662.7 352.3h0M665.6 351.8h0M664.0 351.2h0M660.9 349.4h0M665.7 349.3h0M662.5 349.1h0M664.2 348.5h0M658.1 348.4h0M668.6 348.0h0M659.7 347.6h0M667.0 347.3h0M661.3 347.3h0M663.0 347.3h0M665.3 347.0h0M664.0 345.9h0M664.0 335.0h0M662.9 331.5h0M665.2 331.5h0M664.0 330.3h0M663.3 328.7h0M664.8 327.9h0M664.0 326.4h0M663.0 317.3h0M665.5 316.8h0M664.0 315.9h0M664.0 311.6h0" stroke="#f06a40" stroke-width="1.70" stroke-linecap="round" fill="none"/>
<rect x="654.8" y="357.8" width="18.6" height="20.3" fill="rgba(70,70,70,0.5)"/>
<path d="M664.0 354.1V359.3M664.0 378.3V376.6M659.0 354.1h10M659.0 378.3h10" stroke="#000" stroke-width="1.6" fill="none"/>
<path d="M654.8 366.5h18.6" stroke="#000" stroke-width="1.6" fill="none"/>
<text x="664.0" y="327.0" font-size="11" text-anchor="middle" textLength="16" lengthAdjust="spacingAndGlyphs" fill="#222">****</text>
<path d="M633.0 379.4H674.0" stroke="#111" stroke-width="1.5" stroke-dasharray="5,2.5" fill="none"/>
<rect x="611.3" y="307.4" width="63.3" height="120.7" fill="none" stroke="#666" stroke-width="1.2"/>
<path d="M608.3 428.1H611.3" stroke="#444" stroke-width="1"/>
<text x="607.1" y="431.7" font-size="10" text-anchor="end" fill="#222">0.00</text>
<path d="M608.3 393.5H611.3" stroke="#444" stroke-width="1"/>
<text x="607.1" y="397.1" font-size="10" text-anchor="end" fill="#222">0.05</text>
<path d="M608.3 358.9H611.3" stroke="#444" stroke-width="1"/>
<text x="607.1" y="362.5" font-size="10" text-anchor="end" fill="#222">0.10</text>
<path d="M608.3 324.3H611.3" stroke="#444" stroke-width="1"/>
<text x="607.1" y="327.9" font-size="10" text-anchor="end" fill="#222">0.15</text>
<path d="M621.8 428.1v3" stroke="#444" stroke-width="1"/>
<path d="M643.0 428.1v3" stroke="#444" stroke-width="1"/>
<path d="M664.0 428.1v3" stroke="#444" stroke-width="1"/>
<text x="642.8" y="301.9" font-size="10.8" text-anchor="middle" fill="#222">PC3</text>
<text x="621.3" y="439.1" font-size="9.3" text-anchor="end" fill="#222" transform="rotate(-45 621.3 439.1)">siCTR</text>
<text x="642.5" y="439.1" font-size="9.3" text-anchor="end" fill="#222" transform="rotate(-45 642.5 439.1)">siBCAT1</text>
<text x="663.5" y="439.1" font-size="9.3" text-anchor="end" fill="#222" transform="rotate(-45 663.5 439.1)">siBCAT2</text>
<path d="M620.2 318.9V311.5H663.5V315.2" fill="none" stroke="#333" stroke-width="1.1"/>
<path d="M620.2 335.6V324.4H643.7V328.5" fill="none" stroke="#333" stroke-width="1.1"/>
<path d="M518.6 584.9h0M517.9 583.3h0M516.9 580.2h0M519.5 579.6h0M517.9 578.9h0M517.9 574.8h0M522.2 571.5h0M517.9 571.3h0M513.4 571.1h0M514.5 571.1h0M511.5 570.9h0M520.6 570.8h0M516.0 570.4h0M526.8 570.1h0M524.3 570.1h0M513.0 570.1h0M519.1 570.1h0M509.0 569.8h0M526.8 569.8h0M522.7 569.6h0M517.5 569.5h0M514.5 569.3h0M511.5 569.0h0M521.2 568.9h0M525.5 568.6h0M519.6 568.4h0M509.9 568.3h0M515.8 568.2h0M512.9 568.1h0M523.3 567.9h0M517.9 567.9h0M514.5 567.5h0M510.1 567.4h0M521.9 567.2h0M526.6 567.1h0M524.9 567.1h0M516.1 567.0h0M511.7 566.9h0M520.2 566.8h0M523.4 566.3h0M513.3 566.2h0M517.6 566.2h0M508.9 565.9h0M514.9 565.8h0M519.2 565.5h0M522.0 565.3h0M525.5 565.1h0M510.3 564.9h0M520.8 564.9h0M512.0 564.7h0M523.8 564.6h0M516.1 564.5h0M517.8 564.4h0M513.6 564.2h0M522.3 563.8h0M519.7 563.6h0M525.4 563.3h0M511.0 563.1h0M514.9 563.0h0M516.6 562.9h0M518.2 562.7h0M523.9 562.5h0M512.6 562.4h0M521.5 562.3h0M520.0 561.7h0M515.7 561.4h0M517.4 561.3h0M527.1 561.2h0M513.6 561.1h0M523.2 561.0h0M510.0 561.0h0M517.5 560.8h0M517.7 560.8h0M525.5 560.7h0M512.5 560.7h0M509.1 560.3h0M517.7 560.3h0M514.2 560.3h0M521.2 560.2h0M509.6 560.1h0M519.5 560.1h0M523.4 559.9h0M517.8 559.9h0M515.7 559.6h0M526.6 559.5h0M509.8 559.5h0M525.0 559.1h0M512.0 558.8h0M522.2 558.7h0M513.7 558.6h0M520.6 558.5h0M518.9 558.5h0M516.9 558.4h0M510.4 557.9h0M515.3 557.9h0M524.0 557.8h0M518.0 557.1h0M511.8 556.9h0M513.7 556.8h0M520.4 556.6h0M509.0 556.5h0M522.2 556.4h0M515.9 556.3h0M523.2 556.3h0M515.2 556.0h0M519.4 555.9h0M516.9 555.7h0M525.7 555.7h0M521.2 555.5h0M509.9 555.3h0M512.5 555.3h0M511.0 555.2h0M516.7 555.0h0M508.9 554.8h0M524.4 554.7h0M522.7 554.7h0M514.1 554.6h0M518.3 554.5h0M527.0 554.2h0M520.1 554.2h0M512.1 554.0h0M515.5 553.8h0M510.2 553.6h0M517.0 553.4h0M521.6 553.3h0M512.3 553.2h0M523.6 553.1h0M519.0 552.9h0M514.8 552.8h0M525.3 552.8h0M508.9 552.8h0M515.4 552.7h0M526.3 552.6h0M510.6 552.4h0M512.3 552.4h0M522.2 552.4h0M518.2 552.3h0M524.8 551.8h0M513.9 551.7h0M520.4 551.7h0M516.6 551.6h0M511.5 550.8h0M523.5 550.7h0M521.8 550.7h0M515.2 550.7h0M518.0 550.6h0M519.8 550.1h0M519.8 550.1h0M525.2 550.1h0M520.3 549.9h0M509.6 549.9h0M512.9 549.8h0M510.1 549.7h0M516.5 549.6h0M519.6 549.4h0M526.7 549.3h0M519.4 549.3h0M512.6 549.2h0M511.8 549.1h0M524.3 549.0h0M522.0 549.0h0M522.0 548.9h0M514.6 548.9h0M508.9 548.7h0M517.9 548.6h0M508.8 548.5h0M513.3 548.3h0M525.1 548.2h0M515.6 548.1h0M523.1 548.0h0M520.5 548.0h0M510.6 547.8h0M526.5 547.6h0M522.7 547.6h0M510.2 547.5h0M515.7 547.4h0M524.8 547.3h0M518.9 547.3h0M511.8 547.1h0M513.5 547.0h0M517.3 546.8h0M521.3 546.4h0M508.9 546.2h0M523.6 546.1h0M521.9 546.1h0M520.1 546.0h0M514.8 545.9h0M518.4 545.6h0M510.4 545.3h0M526.7 545.1h0M525.0 545.1h0M512.6 545.0h0M516.2 545.0h0M518.8 544.7h0M521.1 544.6h0M523.5 544.3h0M523.5 544.3h0M514.1 544.3h0M511.2 543.9h0M517.4 543.8h0M509.7 543.6h0M525.8 543.5h0M517.2 543.5h0M511.4 543.5h0M519.9 543.4h0M522.2 543.2h0M515.4 543.1h0M512.9 542.7h0M524.3 542.5h0M518.5 542.5h0M520.9 542.0h0M526.9 542.0h0M509.9 542.0h0M525.2 542.0h0M516.6 541.9h0M514.2 541.5h0M511.5 541.3h0M523.6 541.3h0M521.9 541.2h0M519.6 541.0h0M517.9 540.9h0M512.9 540.3h0M515.3 540.3h0M509.0 540.1h0M526.4 540.0h0M524.7 540.0h0M512.9 539.8h0M514.6 539.8h0M521.2 539.7h0M510.6 539.4h0M516.3 539.3h0M519.6 539.2h0M523.3 539.0h0M517.9 539.0h0M511.9 538.4h0M508.8 538.1h0M525.7 538.1h0M513.6 538.0h0M522.0 538.0h0M515.3 537.9h0M520.3 537.5h0M510.2 537.3h0M518.7 537.3h0M524.3 537.2h0M516.7 537.0h0M511.8 536.7h0M523.0 536.1h0M513.4 536.1h0M521.3 536.0h0M515.1 535.9h0M519.6 535.8h0M517.9 535.7h0M516.4 534.8h0M522.3 534.3h0M520.7 534.2h0M517.9 534.0h0M514.8 533.8h0M511.8 533.4h0M519.4 533.0h0M516.3 532.9h0M524.2 532.7h0M513.2 532.5h0M522.6 532.3h0M517.9 532.2h0M520.9 532.1h0M514.8 531.7h0M516.4 531.2h0M519.5 531.1h0M509.8 530.7h0M524.4 530.7h0M517.9 530.5h0M511.4 530.0h0M522.9 529.8h0M513.0 529.8h0M521.3 529.6h0M514.7 529.5h0M516.4 529.2h0M519.6 529.1h0M518.0 528.6h0M521.0 527.9h0M515.0 527.7h0M516.7 527.5h0M519.5 527.1h0M517.9 526.4h0M517.3 524.3h0M520.4 523.0h0M518.0 522.7h0M515.0 522.5h0M516.6 521.8h0M519.4 521.6h0M517.9 520.8h0M517.9 518.1h0M518.8 515.9h0M517.9 514.4h0M517.9 512.6h0M517.4 511.0h0M518.9 510.1h0M517.9 508.7h0M519.6 505.7h0M517.9 505.6h0" stroke="#8e8e8e" stroke-width="1.70" stroke-linecap="round" fill="none"/>
<rect x="508.5" y="541.7" width="18.9" height="20.4" fill="rgba(70,70,70,0.5)"/>
<path d="M517.9 537.2V543.2M517.9 566.5V560.6M512.9 537.2h10M512.9 566.5h10" stroke="#000" stroke-width="1.6" fill="none"/>
<path d="M508.5 551.3h18.9" stroke="#000" stroke-width="1.6" fill="none"/>
<path d="M539.4 589.9h0M537.7 587.8h0M539.4 587.6h0M540.7 586.4h0M539.4 585.4h0M539.4 582.8h0M540.9 580.4h0M539.4 579.8h0M539.4 577.7h0M541.0 576.3h0M538.4 575.5h0M540.0 575.0h0M535.5 574.6h0M534.5 574.5h0M535.9 574.5h0M543.3 574.5h0M547.4 574.5h0M531.4 574.3h0M542.1 574.3h0M545.7 573.9h0M538.8 573.8h0M533.0 573.6h0M544.1 573.6h0M534.7 573.5h0M536.4 573.5h0M540.7 573.3h0M542.9 572.4h0M537.7 572.4h0M539.4 572.2h0M535.4 571.5h0M541.0 571.1h0M542.0 570.9h0M541.3 570.9h0M538.4 570.8h0M544.1 570.8h0M530.9 570.6h0M547.5 570.6h0M536.7 570.4h0M532.5 570.0h0M545.9 570.0h0M534.2 569.9h0M541.7 569.9h0M544.2 569.9h0M538.3 569.8h0M540.0 569.6h0M535.5 568.8h0M543.0 568.7h0M537.1 568.2h0M531.2 568.1h0M541.4 568.0h0M539.4 568.0h0M546.0 567.3h0M532.7 567.2h0M544.4 566.8h0M534.3 566.8h0M542.7 566.7h0M536.0 566.7h0M537.7 566.6h0M541.0 566.4h0M539.4 566.1h0M542.7 564.6h0M537.7 564.5h0M541.0 564.5h0M539.4 564.3h0M547.1 563.4h0M533.0 563.3h0M544.6 563.3h0M536.3 563.1h0M543.0 562.9h0M540.3 562.7h0M537.9 562.6h0M543.1 562.4h0M540.2 562.4h0M530.3 562.3h0M534.9 562.0h0M548.0 561.9h0M532.0 561.9h0M546.3 561.8h0M533.7 561.7h0M544.7 561.5h0M541.7 561.5h0M539.0 561.2h0M536.8 561.2h0M530.8 560.6h0M534.9 560.6h0M543.3 560.4h0M540.4 560.3h0M532.4 560.0h0M537.9 559.9h0M546.2 559.9h0M542.0 559.5h0M548.2 559.4h0M536.1 559.3h0M544.7 559.1h0M539.4 559.0h0M533.6 558.8h0M543.2 558.3h0M537.6 558.2h0M531.7 558.2h0M540.8 558.2h0M547.1 558.1h0M535.0 557.9h0M536.7 557.8h0M538.4 557.4h0M545.6 557.2h0M544.6 557.2h0M544.7 557.0h0M532.7 556.8h0M541.9 556.8h0M540.0 556.7h0M542.9 556.6h0M548.2 556.5h0M542.6 556.5h0M531.6 556.4h0M546.5 556.3h0M544.8 556.3h0M534.3 556.3h0M536.0 556.1h0M541.0 555.9h0M537.7 555.7h0M539.4 555.6h0M532.7 555.1h0M543.6 555.1h0M530.7 554.5h0M546.2 554.5h0M542.0 554.5h0M534.2 554.3h0M535.8 553.9h0M537.5 553.9h0M539.6 553.8h0M543.5 553.3h0M531.8 553.2h0M548.5 553.2h0M545.2 553.1h0M541.5 552.8h0M531.8 552.6h0M546.9 552.6h0M538.6 552.5h0M534.8 552.3h0M536.4 552.0h0M540.1 551.8h0M544.3 551.6h0M543.0 551.6h0M532.6 551.2h0M545.5 551.1h0M548.1 551.0h0M531.0 551.0h0M546.4 551.0h0M532.7 551.0h0M537.8 551.0h0M544.7 550.7h0M541.6 550.7h0M534.3 550.5h0M539.4 550.3h0M536.0 550.1h0M543.2 549.9h0M537.5 549.3h0M545.6 549.1h0M540.9 549.1h0M530.7 548.8h0M534.9 548.7h0M539.0 548.6h0M547.7 548.5h0M546.1 548.4h0M544.4 548.4h0M535.8 548.3h0M542.7 548.3h0M539.6 548.0h0M531.0 547.9h0M532.8 547.8h0M548.4 547.5h0M537.3 547.5h0M541.3 547.2h0M531.3 546.9h0M546.8 546.8h0M545.2 546.7h0M534.1 546.7h0M543.5 546.6h0M538.7 546.6h0M535.8 546.4h0M540.3 545.9h0M542.1 545.5h0M532.1 545.4h0M537.1 545.3h0M533.0 545.2h0M537.8 545.1h0M546.2 545.0h0M548.3 545.0h0M534.7 544.9h0M544.9 544.7h0M546.3 544.6h0M544.2 544.6h0M541.8 544.6h0M539.3 544.5h0M543.4 544.4h0M536.3 544.3h0M539.4 544.2h0M530.2 544.1h0M531.6 544.0h0M547.1 543.8h0M541.8 543.8h0M540.2 543.5h0M533.2 543.3h0M545.4 543.3h0M537.6 543.2h0M534.9 543.1h0M543.9 542.6h0M539.0 542.3h0M536.2 542.0h0M542.3 542.0h0M540.6 541.8h0M532.7 541.2h0M537.6 541.1h0M534.4 540.9h0M544.3 540.8h0M539.4 540.6h0M535.9 540.2h0M547.1 540.1h0M542.7 540.1h0M541.1 539.6h0M538.1 539.5h0M531.3 539.0h0M545.9 539.0h0M533.0 539.0h0M544.2 538.8h0M534.7 538.8h0M539.6 538.7h0M536.4 538.6h0M542.9 537.7h0M541.2 537.5h0M537.7 537.4h0M539.3 537.1h0M532.4 536.8h0M545.5 536.6h0M534.0 536.5h0M543.9 536.1h0M535.7 536.0h0M540.6 535.9h0M537.3 535.6h0M542.3 535.5h0M539.0 535.3h0M541.2 534.2h0M536.6 534.0h0M540.0 533.9h0M543.2 533.9h0M536.3 533.7h0M531.2 533.6h0M547.2 533.5h0M532.9 533.3h0M545.5 533.2h0M534.6 533.2h0M538.7 533.0h0M543.9 532.9h0M536.2 532.7h0M542.2 532.7h0M540.5 532.6h0M537.5 531.6h0M531.4 531.4h0M539.4 531.4h0M546.4 530.8h0M533.0 530.8h0M544.7 530.7h0M534.7 530.7h0M543.0 530.3h0M536.3 530.2h0M541.3 530.1h0M538.0 530.0h0M539.7 529.6h0M537.7 528.2h0M541.0 528.1h0M539.4 528.0h0M539.4 526.1h0M539.4 523.0h0M538.1 520.2h0M540.8 520.0h0M539.4 519.0h0M539.4 516.4h0M539.4 513.5h0M539.4 507.5h0M539.4 503.4h0" stroke="#f06a40" stroke-width="1.70" stroke-linecap="round" fill="none"/>
<rect x="529.9" y="541.7" width="18.9" height="20.4" fill="rgba(70,70,70,0.5)"/>
<path d="M539.4 537.2V543.2M539.4 566.5V560.6M534.4 537.2h10M534.4 566.5h10" stroke="#000" stroke-width="1.6" fill="none"/>
<path d="M529.9 551.3h18.9" stroke="#000" stroke-width="1.6" fill="none"/>
<path d="M560.8 581.4h0M560.8 579.2h0M557.7 578.1h0M563.9 578.1h0M559.2 577.3h0M562.4 577.2h0M560.8 576.8h0M557.5 575.4h0M559.2 575.3h0M562.4 575.3h0M560.8 574.8h0M562.9 573.6h0M559.8 573.2h0M561.4 572.9h0M560.8 571.3h0M560.8 567.7h0M563.8 567.5h0M568.5 567.2h0M553.9 567.2h0M566.8 566.8h0M555.6 566.8h0M557.3 566.7h0M562.4 566.5h0M565.2 566.3h0M558.9 566.2h0M560.8 566.0h0M555.8 565.0h0M564.1 565.0h0M557.4 564.7h0M562.4 564.7h0M559.1 564.6h0M560.8 564.1h0M553.1 563.9h0M568.1 563.7h0M554.8 563.6h0M566.4 563.5h0M556.4 563.3h0M564.7 563.3h0M558.1 563.2h0M563.0 563.0h0M559.7 562.6h0M561.4 562.4h0M567.4 561.3h0M566.3 561.3h0M555.1 561.2h0M564.6 561.0h0M562.9 561.0h0M558.9 560.9h0M560.6 560.9h0M556.9 560.2h0M551.9 560.1h0M569.1 560.0h0M553.6 560.0h0M567.4 559.8h0M555.3 559.8h0M565.7 559.7h0M561.8 559.6h0M556.9 559.2h0M564.1 559.1h0M558.6 558.9h0M560.3 558.9h0M562.7 558.1h0M569.0 557.5h0M561.2 557.5h0M553.6 557.3h0M567.3 557.1h0M555.2 556.8h0M559.6 556.7h0M565.7 556.6h0M556.9 556.4h0M564.1 556.2h0M562.4 556.1h0M558.3 555.5h0M560.8 555.4h0M555.8 554.6h0M564.9 554.4h0M557.4 554.0h0M563.1 554.0h0M559.1 554.0h0M560.7 553.4h0M569.7 553.1h0M553.5 553.0h0M568.0 553.0h0M555.2 553.0h0M566.4 552.7h0M564.7 552.7h0M562.2 552.6h0M558.7 552.1h0M556.5 552.0h0M560.4 551.7h0M563.5 551.4h0M551.9 551.2h0M568.5 551.1h0M561.9 550.9h0M553.6 550.8h0M557.7 550.7h0M555.3 550.6h0M565.0 550.3h0M567.2 550.0h0M559.7 550.0h0M560.6 549.9h0M563.1 549.7h0M563.1 549.7h0M556.5 549.4h0M552.4 549.4h0M558.8 549.4h0M568.6 549.2h0M554.1 549.1h0M566.3 549.1h0M555.8 548.9h0M564.7 548.6h0M561.7 548.6h0M557.3 548.2h0M559.9 548.1h0M563.2 547.8h0M567.7 547.7h0M554.5 547.3h0M561.2 547.0h0M566.2 546.8h0M556.2 546.8h0M564.5 546.7h0M557.9 546.5h0M559.5 546.3h0M562.9 546.1h0M560.9 545.3h0M561.5 545.2h0M569.8 545.1h0M551.9 544.8h0M568.1 544.8h0M553.6 544.7h0M566.4 544.6h0M555.3 544.6h0M564.5 544.6h0M559.2 544.5h0M557.0 544.4h0M562.5 544.3h0M560.8 544.0h0M558.1 543.1h0M565.7 543.1h0M564.0 542.9h0M559.6 542.4h0M567.9 542.3h0M556.7 542.2h0M562.4 542.0h0M553.7 541.8h0M561.2 541.7h0M551.8 541.6h0M563.1 541.5h0M566.4 541.4h0M558.1 541.4h0M555.2 540.9h0M569.2 540.9h0M564.8 540.8h0M559.6 540.6h0M569.9 540.4h0M561.8 540.4h0M556.8 540.3h0M568.2 540.2h0M552.8 540.2h0M552.1 539.8h0M556.7 539.8h0M566.2 539.7h0M554.2 539.5h0M564.0 539.3h0M558.3 539.3h0M568.7 539.2h0M554.6 539.2h0M560.6 539.2h0M562.2 538.7h0M552.7 538.3h0M567.3 538.3h0M556.0 538.2h0M565.6 538.1h0M557.7 538.0h0M563.9 537.9h0M559.4 537.8h0M561.0 537.5h0M554.6 536.9h0M562.6 536.8h0M569.7 536.7h0M553.2 536.6h0M568.4 536.6h0M554.9 536.4h0M566.7 536.3h0M556.6 536.3h0M565.0 536.3h0M558.3 536.2h0M560.3 535.9h0M563.6 535.4h0M561.9 535.3h0M559.1 534.7h0M560.7 534.1h0M556.3 533.9h0M563.7 533.5h0M557.9 533.4h0M562.1 533.1h0M559.5 532.7h0M566.9 532.1h0M554.8 532.1h0M565.2 532.1h0M560.9 531.9h0M556.4 531.7h0M563.8 531.1h0M558.0 530.9h0M559.6 530.8h0M567.9 530.6h0M552.2 530.5h0M569.1 530.5h0M562.2 530.4h0M553.9 530.4h0M567.4 530.3h0M565.7 530.1h0M555.5 529.8h0M560.8 529.5h0M557.2 529.4h0M564.1 529.4h0M558.8 529.1h0M562.6 528.8h0M566.6 528.4h0M556.2 528.0h0M560.1 527.9h0M553.9 527.6h0M565.1 527.5h0M561.7 527.3h0M557.6 527.1h0M563.5 526.8h0M567.8 526.6h0M555.2 526.5h0M559.1 526.3h0M566.2 526.1h0M560.8 525.9h0M556.5 525.4h0M562.6 525.4h0M564.6 525.3h0M558.1 524.9h0M559.7 524.3h0M561.4 524.2h0M563.7 523.9h0M569.7 523.9h0M552.1 523.8h0M553.8 523.8h0M555.4 523.1h0M568.4 522.8h0M566.7 522.8h0M565.0 522.8h0M557.0 522.7h0M559.1 522.7h0M562.5 522.7h0M560.8 522.6h0M554.2 521.7h0M555.9 521.4h0M564.2 521.3h0M557.5 521.1h0M562.5 520.8h0M566.4 520.7h0M559.2 520.6h0M560.9 520.5h0M555.0 519.8h0M565.0 519.7h0M556.6 519.5h0M563.4 519.2h0M558.3 519.1h0M560.0 519.1h0M561.7 518.9h0M560.8 517.5h0M562.5 512.6h0M560.8 512.6h0M558.8 510.8h0M563.0 510.2h0M561.4 509.8h0M559.7 509.3h0M562.4 508.4h0M560.8 508.0h0M557.7 507.1h0M559.3 506.6h0M562.3 506.4h0M560.8 505.7h0M560.8 498.3h0M561.7 495.5h0M560.8 494.1h0" stroke="#f06a40" stroke-width="1.70" stroke-linecap="round" fill="none"/>
<rect x="551.4" y="531.9" width="18.9" height="23.9" fill="rgba(70,70,70,0.5)"/>
<path d="M560.8 525.5V533.4M560.8 562.1V554.3M555.8 525.5h10M555.8 562.1h10" stroke="#000" stroke-width="1.6" fill="none"/>
<path d="M551.4 544.3h18.9" stroke="#000" stroke-width="1.6" fill="none"/>
<text x="560.8" y="499.6" font-size="11" text-anchor="middle" textLength="16" lengthAdjust="spacingAndGlyphs" fill="#222">****</text>
<path d="M550.5 551.3H571.0" stroke="#111" stroke-width="1.5" stroke-dasharray="5,2.5" fill="none"/>
<rect x="507.2" y="486.9" width="64.3" height="123.1" fill="none" stroke="#666" stroke-width="1.2"/>
<path d="M504.2 610.0H507.2" stroke="#444" stroke-width="1"/>
<text x="503.0" y="613.6" font-size="10" text-anchor="end" fill="#222">0.00</text>
<path d="M504.2 574.8H507.2" stroke="#444" stroke-width="1"/>
<text x="503.0" y="578.4" font-size="10" text-anchor="end" fill="#222">0.05</text>
<path d="M504.2 539.6H507.2" stroke="#444" stroke-width="1"/>
<text x="503.0" y="543.2" font-size="10" text-anchor="end" fill="#222">0.10</text>
<path d="M504.2 504.4H507.2" stroke="#444" stroke-width="1"/>
<text x="503.0" y="508.0" font-size="10" text-anchor="end" fill="#222">0.15</text>
<path d="M517.9 610v3" stroke="#444" stroke-width="1"/>
<path d="M539.4 610v3" stroke="#444" stroke-width="1"/>
<path d="M560.8 610v3" stroke="#444" stroke-width="1"/>
<text x="539.3" y="481.9" font-size="10.8" text-anchor="middle" fill="#222">C4-2B</text>
<text x="517.4" y="621.0" font-size="9.3" text-anchor="end" fill="#222" transform="rotate(-45 517.4 621.0)">siCTR</text>
<text x="538.9" y="621.0" font-size="9.3" text-anchor="end" fill="#222" transform="rotate(-45 538.9 621.0)">siBCAT1</text>
<text x="560.3" y="621.0" font-size="9.3" text-anchor="end" fill="#222" transform="rotate(-45 560.3 621.0)">siBCAT2</text>
<path d="M516.5 503V489.3H560.6V492.4" fill="none" stroke="#333" stroke-width="1.1"/>
<text x="538.1" y="513.7" font-size="12" text-anchor="middle" fill="#222">ns</text>
<text x="478.5" y="552.0" font-size="11.5" text-anchor="middle" textLength="100" lengthAdjust="spacingAndGlyphs" fill="#222" transform="rotate(-90 478.5 552.0)">Mean Nile Red / Cell</text>
<path d="M620.1 588.0h0M617.1 585.3h0M618.8 585.2h0M621.6 585.0h0M620.1 584.1h0M618.9 582.3h0M621.8 581.4h0M620.1 581.2h0M618.7 580.2h0M622.7 579.3h0M620.1 579.3h0M618.8 578.2h0M621.7 577.9h0M620.1 577.2h0M618.1 572.7h0M622.4 572.4h0M619.7 572.3h0M612.4 571.4h0M627.8 571.4h0M625.8 571.4h0M621.1 571.3h0M617.3 571.1h0M614.0 570.7h0M615.7 570.5h0M619.6 570.5h0M624.6 570.2h0M624.1 570.0h0M622.4 570.0h0M628.8 569.9h0M627.1 569.8h0M611.0 569.6h0M618.1 569.5h0M616.9 569.3h0M618.0 569.2h0M620.6 569.1h0M625.6 569.0h0M614.6 568.8h0M613.8 568.7h0M625.3 568.7h0M612.4 568.6h0M614.6 568.6h0M616.2 568.5h0M623.3 568.3h0M622.2 568.3h0M622.3 568.3h0M623.6 568.3h0M627.8 568.3h0M629.3 568.2h0M619.3 568.1h0M623.7 568.0h0M612.6 567.8h0M615.7 567.7h0M616.5 567.6h0M622.1 567.4h0M611.2 567.3h0M627.3 567.3h0M611.0 567.3h0M627.9 567.3h0M612.7 567.3h0M626.2 567.2h0M614.4 567.2h0M616.1 567.0h0M617.8 567.0h0M620.5 566.9h0M624.7 566.4h0M629.3 566.0h0M623.1 565.9h0M619.2 565.9h0M611.0 565.6h0M614.1 565.4h0M622.9 565.3h0M621.8 565.2h0M617.7 565.1h0M623.5 564.9h0M626.2 564.9h0M616.1 564.9h0M612.5 564.8h0M617.3 564.8h0M628.2 564.7h0M612.5 564.7h0M626.5 564.7h0M614.2 564.6h0M620.2 564.6h0M624.8 564.5h0M615.8 564.0h0M623.2 563.9h0M618.7 563.8h0M621.5 563.5h0M616.9 562.7h0M620.0 562.7h0M628.1 562.6h0M615.0 562.4h0M624.6 562.4h0M622.9 562.2h0M618.5 562.0h0M626.6 561.7h0M621.3 561.6h0M612.7 561.5h0M616.1 561.2h0M619.8 560.9h0M614.3 560.8h0M629.1 560.7h0M611.2 560.5h0M627.9 560.5h0M625.4 560.5h0M623.7 560.5h0M617.6 560.4h0M614.0 560.1h0M622.1 560.1h0M620.4 560.0h0M612.5 559.4h0M615.5 559.3h0M618.9 559.2h0M627.3 558.9h0M625.6 558.8h0M623.9 558.7h0M617.0 558.6h0M621.9 558.4h0M613.5 558.1h0M620.2 558.0h0M620.0 558.0h0M611.6 557.9h0M613.3 557.9h0M620.1 557.6h0M614.9 557.4h0M628.4 557.4h0M618.1 557.2h0M623.2 557.2h0M626.3 557.0h0M628.5 557.0h0M628.3 556.9h0M615.0 556.7h0M627.4 556.7h0M625.2 556.6h0M616.1 556.4h0M618.6 556.4h0M621.7 556.3h0M611.1 556.1h0M628.1 556.1h0M612.8 556.0h0M615.4 555.8h0M620.1 555.7h0M626.5 555.5h0M623.9 555.5h0M617.0 555.0h0M622.5 554.5h0M613.5 554.5h0M618.5 554.4h0M621.2 554.3h0M621.9 554.2h0M625.5 554.2h0M622.2 554.1h0M615.1 554.0h0M620.1 553.9h0M611.2 553.7h0M627.7 553.6h0M628.1 553.5h0M623.3 553.4h0M616.6 553.3h0M612.2 553.0h0M626.5 552.8h0M618.2 552.7h0M613.8 552.7h0M624.8 552.6h0M621.8 552.5h0M620.1 552.1h0M615.3 551.8h0M623.5 551.5h0M617.0 551.5h0M618.6 551.0h0M622.0 550.7h0M628.3 550.6h0M620.1 550.3h0M613.5 550.0h0M626.7 549.9h0M615.2 549.8h0M625.1 549.4h0M616.8 549.3h0M623.4 549.3h0M618.5 549.1h0M621.7 549.0h0M620.1 548.5h0M626.6 548.2h0M615.2 548.1h0M625.0 547.6h0M616.8 547.4h0M623.3 547.3h0M618.4 547.2h0M620.8 546.9h0M622.3 546.0h0M619.4 545.8h0M620.9 545.0h0M614.6 544.5h0M626.3 544.2h0M616.3 544.1h0M618.6 544.0h0M624.6 543.8h0M611.4 543.7h0M629.0 543.5h0M622.3 543.5h0M620.1 543.5h0M612.9 542.9h0M627.4 542.9h0M614.6 542.8h0M617.4 542.8h0M625.7 542.5h0M624.0 542.3h0M618.9 542.0h0M621.5 542.0h0M615.7 541.5h0M611.2 541.2h0M611.1 541.2h0M628.0 541.1h0M617.3 541.0h0M623.0 541.0h0M620.1 540.9h0M612.7 540.7h0M626.4 540.4h0M614.4 540.3h0M624.7 540.2h0M618.7 540.0h0M621.6 540.0h0M616.0 539.7h0M623.3 539.3h0M620.1 539.2h0M627.2 538.8h0M617.4 538.8h0M622.0 538.2h0M618.8 537.9h0M612.9 537.6h0M626.0 537.6h0M614.6 537.6h0M624.3 537.4h0M620.5 537.4h0M615.9 536.6h0M622.8 536.5h0M617.6 536.4h0M619.3 536.2h0M621.3 535.8h0M623.0 534.7h0M620.1 534.7h0M617.2 534.4h0M621.6 533.8h0M625.7 533.5h0M615.0 533.4h0M618.5 533.3h0M624.0 533.0h0M620.1 532.9h0M616.5 532.5h0M622.6 532.0h0M617.8 531.5h0M621.1 531.3h0M619.4 531.0h0M614.1 530.6h0M625.8 530.6h0M615.7 530.0h0M624.2 529.9h0M622.5 529.7h0M620.5 529.7h0M617.2 529.3h0M618.9 529.1h0M621.8 528.1h0M620.1 527.9h0M623.0 526.3h0M621.3 526.0h0M618.9 525.8h0M624.7 525.0h0M615.5 524.9h0M620.2 524.7h0M617.2 524.6h0M623.2 524.2h0M618.7 523.9h0M621.8 523.3h0M620.1 522.9h0M618.5 521.6h0M621.8 521.2h0M620.1 521.1h0M624.9 519.9h0M623.2 519.9h0M617.1 519.8h0M618.7 519.2h0M621.6 519.1h0M620.2 518.3h0M623.2 518.0h0M617.0 517.7h0M618.7 517.5h0M621.8 517.0h0M620.1 516.6h0M619.1 514.2h0M621.8 513.1h0M620.1 512.8h0M620.1 510.2h0M623.3 508.6h0M618.5 507.9h0M621.8 507.7h0M620.1 507.4h0M618.0 504.9h0M619.7 504.6h0M621.6 503.9h0M620.1 503.0h0" stroke="#8e8e8e" stroke-width="1.70" stroke-linecap="round" fill="none"/>
<rect x="610.7" y="537.3" width="18.9" height="27.2" fill="rgba(70,70,70,0.5)"/>
<path d="M620.1 536.3V538.8M620.1 565.9V563.0M615.1 536.3h10M615.1 565.9h10" stroke="#000" stroke-width="1.6" fill="none"/>
<path d="M610.7 552.2h18.9" stroke="#000" stroke-width="1.6" fill="none"/>
<path d="M643.1 586.5h0M641.6 585.6h0M643.3 583.5h0M641.6 583.3h0M640.6 579.1h0M643.1 578.6h0M641.6 577.8h0M640.3 575.5h0M643.1 575.5h0M641.6 574.5h0M646.7 573.7h0M638.8 573.7h0M647.8 573.6h0M635.4 573.4h0M646.1 573.3h0M645.4 573.2h0M638.5 573.0h0M640.1 572.9h0M643.2 572.8h0M650.8 572.5h0M632.8 572.5h0M649.1 572.4h0M641.6 572.1h0M634.4 572.0h0M647.5 571.9h0M636.1 571.9h0M644.7 571.7h0M637.8 571.4h0M640.2 571.2h0M646.2 570.8h0M643.3 570.7h0M641.6 570.4h0M636.4 570.1h0M638.5 569.9h0M633.5 569.4h0M647.7 569.3h0M645.4 569.3h0M640.1 569.2h0M643.3 568.9h0M649.6 568.7h0M641.6 568.6h0M636.8 568.4h0M634.5 568.0h0M646.6 568.0h0M638.3 567.8h0M644.9 567.6h0M648.5 567.4h0M640.0 567.4h0M643.3 567.2h0M641.6 566.9h0M635.7 566.8h0M647.3 566.2h0M637.3 566.2h0M645.6 565.9h0M638.9 565.6h0M644.0 565.5h0M640.6 565.4h0M642.3 565.3h0M641.6 563.7h0M645.1 563.4h0M649.5 562.9h0M647.1 562.7h0M637.7 562.3h0M632.6 562.3h0M637.8 562.2h0M639.9 562.2h0M642.1 562.1h0M639.8 562.0h0M644.0 561.9h0M644.3 561.9h0M639.9 561.8h0M642.6 561.8h0M634.4 561.7h0M635.2 561.7h0M638.0 561.6h0M648.5 561.5h0M639.0 561.5h0M632.8 561.4h0M639.4 561.4h0M646.0 561.4h0M640.1 561.2h0M635.7 561.0h0M650.2 560.8h0M633.7 560.6h0M643.0 560.6h0M648.6 560.4h0M637.8 560.3h0M641.5 560.3h0M644.8 560.2h0M633.6 560.1h0M635.3 560.0h0M647.0 559.8h0M643.1 559.8h0M639.3 559.5h0M636.7 559.1h0M650.7 559.0h0M649.0 558.7h0M645.8 558.6h0M641.2 558.6h0M648.3 558.6h0M636.4 558.5h0M644.7 558.5h0M645.7 558.4h0M640.6 558.4h0M642.6 558.2h0M634.7 558.1h0M632.5 557.8h0M643.6 557.8h0M639.0 557.7h0M645.0 557.6h0M644.8 557.6h0M633.0 557.6h0M649.7 557.4h0M636.3 557.4h0M642.5 557.4h0M649.4 557.3h0M637.2 557.3h0M647.1 557.3h0M637.3 557.1h0M641.6 557.0h0M650.8 556.7h0M645.6 556.6h0M645.3 556.5h0M634.2 556.4h0M644.2 556.2h0M639.7 556.2h0M632.5 555.9h0M632.5 555.9h0M638.5 555.9h0M635.8 555.9h0M644.1 555.8h0M648.6 555.7h0M642.6 555.7h0M647.0 555.5h0M647.6 555.4h0M647.9 555.3h0M640.3 555.1h0M650.2 555.1h0M645.8 554.9h0M637.0 554.7h0M644.1 554.7h0M637.3 554.6h0M634.7 554.6h0M648.1 554.6h0M633.5 554.5h0M635.2 554.3h0M638.7 554.3h0M641.7 554.3h0M643.8 554.0h0M649.6 553.5h0M640.2 553.4h0M646.6 553.4h0M636.4 553.2h0M645.4 553.1h0M647.0 553.1h0M640.5 553.1h0M650.8 553.1h0M647.6 553.0h0M634.1 552.8h0M633.4 552.8h0M642.7 552.7h0M639.2 552.5h0M634.8 552.5h0M634.0 552.4h0M649.4 552.3h0M649.6 552.2h0M646.8 552.2h0M639.0 552.2h0M634.2 552.0h0M637.6 552.0h0M650.4 552.0h0M640.1 552.0h0M644.5 551.9h0M643.6 551.6h0M647.4 551.5h0M642.4 551.5h0M639.3 551.1h0M632.9 551.1h0M638.1 551.0h0M649.1 550.9h0M636.0 550.8h0M645.3 550.7h0M645.9 550.7h0M640.4 550.7h0M634.7 550.5h0M644.2 550.5h0M636.7 550.5h0M650.8 550.3h0M632.5 550.2h0M643.3 550.0h0M638.3 550.0h0M641.9 549.9h0M647.8 549.8h0M636.0 549.7h0M636.0 549.7h0M644.5 549.5h0M644.0 549.4h0M647.4 549.3h0M649.5 549.2h0M633.8 549.1h0M647.7 549.0h0M648.1 549.0h0M640.0 549.0h0M639.6 549.0h0M646.3 548.9h0M637.3 548.6h0M648.0 548.5h0M641.2 548.3h0M642.8 548.3h0M632.7 548.2h0M649.6 548.2h0M634.4 548.1h0M647.9 548.0h0M636.1 548.0h0M646.2 547.9h0M637.8 547.9h0M644.5 547.7h0M639.4 547.2h0M642.9 547.1h0M641.1 547.0h0M646.7 545.7h0M637.8 545.7h0M642.1 545.6h0M645.2 544.9h0M639.1 544.7h0M640.8 544.5h0M643.8 544.0h0M642.1 543.5h0M640.6 542.8h0M643.3 541.5h0M641.6 541.5h0M646.5 540.7h0M644.8 540.5h0M638.0 539.9h0M643.3 539.7h0M639.7 539.3h0M641.6 539.3h0M646.3 538.4h0M644.6 538.4h0M638.6 537.8h0M640.3 537.8h0M643.3 537.3h0M641.6 536.8h0M635.4 535.2h0M646.3 535.2h0M637.1 535.1h0M641.8 535.0h0M644.7 534.6h0M638.6 534.2h0M640.3 534.2h0M643.2 533.8h0M641.6 533.2h0M637.6 531.4h0M639.3 531.4h0M644.1 531.0h0M640.5 530.2h0M642.7 530.0h0M636.4 529.3h0M646.9 529.0h0M641.5 528.8h0M637.9 528.5h0M645.3 528.4h0M643.6 528.1h0M639.5 527.9h0M642.2 527.3h0M644.8 526.7h0M640.1 526.2h0M643.3 525.8h0M641.6 525.6h0M641.6 519.3h0M640.0 515.1h0M643.3 514.8h0M641.6 514.7h0M641.6 512.6h0M640.1 505.5h0M643.2 505.3h0M641.6 504.7h0M643.2 500.0h0M641.6 499.4h0M641.6 491.1h0" stroke="#f06a40" stroke-width="1.70" stroke-linecap="round" fill="none"/>
<rect x="632.2" y="547.0" width="18.9" height="15.9" fill="rgba(70,70,70,0.5)"/>
<path d="M641.6 543.8V548.5M641.6 566.5V561.4M636.6 543.8h10M636.6 566.5h10" stroke="#000" stroke-width="1.6" fill="none"/>
<path d="M632.2 555.1h18.9" stroke="#000" stroke-width="1.6" fill="none"/>
<text x="641.6" y="507.0" font-size="11" text-anchor="middle" textLength="8" lengthAdjust="spacingAndGlyphs" fill="#222">****</text>
<path d="M660.3 593.8h0M661.9 593.4h0M664.8 592.7h0M663.1 592.2h0M661.8 590.6h0M664.8 590.1h0M663.1 589.6h0M664.8 588.0h0M662.6 587.9h0M663.8 586.7h0M662.0 586.2h0M670.8 585.1h0M663.2 585.1h0M658.6 585.0h0M659.1 585.0h0M672.2 584.9h0M658.9 584.7h0M661.6 584.5h0M665.0 584.5h0M667.4 584.4h0M668.8 584.4h0M670.3 584.3h0M667.7 584.3h0M670.4 584.3h0M664.9 584.2h0M670.7 584.1h0M656.3 584.0h0M667.0 584.0h0M667.3 584.0h0M670.5 583.9h0M668.2 583.9h0M654.3 583.9h0M656.5 583.4h0M663.3 583.3h0M659.7 583.2h0M666.8 583.1h0M669.6 583.1h0M658.2 583.1h0M660.7 583.0h0M664.8 583.0h0M672.1 583.0h0M662.6 582.9h0M661.9 582.9h0M669.7 582.8h0M666.6 582.8h0M663.1 582.8h0M658.2 582.6h0M665.3 582.6h0M657.0 582.6h0M672.3 582.5h0M657.0 582.5h0M655.2 582.4h0M668.4 582.4h0M670.6 582.4h0M659.6 582.2h0M659.7 582.2h0M668.9 582.1h0M667.3 581.7h0M661.7 581.6h0M659.2 581.4h0M665.0 581.4h0M658.3 581.4h0M665.6 581.2h0M663.7 581.2h0M654.4 581.1h0M671.8 581.1h0M656.1 581.0h0M670.1 580.8h0M663.1 580.8h0M657.7 580.5h0M659.4 580.3h0M668.6 580.0h0M666.9 580.0h0M661.1 579.9h0M664.7 579.8h0M655.0 579.2h0M671.1 579.2h0M663.1 579.1h0M656.7 578.9h0M658.4 578.8h0M665.9 578.6h0M669.6 578.4h0M661.6 578.2h0M667.9 578.1h0M659.8 577.9h0M664.4 577.8h0M672.3 577.5h0M656.4 577.2h0M662.8 577.1h0M658.3 577.1h0M666.7 577.0h0M654.0 576.8h0M663.1 576.5h0M660.7 576.4h0M669.5 576.4h0M665.1 576.3h0M659.7 576.1h0M671.4 576.1h0M663.9 575.9h0M655.3 575.8h0M657.0 575.6h0M668.0 575.5h0M661.8 575.4h0M666.4 575.3h0M658.5 574.9h0M670.3 574.8h0M660.2 574.5h0M664.8 574.5h0M663.1 574.4h0M668.9 573.8h0M657.2 573.7h0M667.2 573.6h0M661.2 573.2h0M658.7 572.9h0M665.7 572.8h0M663.6 572.6h0M670.0 572.5h0M662.8 572.5h0M670.3 572.3h0M655.1 572.2h0M671.2 572.1h0M656.7 571.9h0M660.0 571.8h0M664.4 571.8h0M669.6 571.4h0M667.9 571.4h0M666.3 571.1h0M661.5 571.1h0M658.2 571.0h0M663.1 570.6h0M659.6 570.1h0M665.2 569.8h0M667.3 569.6h0M664.6 569.4h0M661.2 569.4h0M657.2 569.3h0M669.2 569.1h0M671.7 568.8h0M665.0 568.8h0M664.1 568.7h0M664.4 568.6h0M662.7 568.6h0M655.2 568.4h0M658.7 568.4h0M671.7 568.3h0M654.7 568.3h0M666.3 568.3h0M660.0 568.1h0M656.3 567.7h0M670.1 567.6h0M668.4 567.6h0M657.9 567.5h0M664.8 567.4h0M661.5 567.3h0M663.2 566.9h0M659.2 566.4h0M655.2 566.3h0M667.3 566.3h0M669.4 566.0h0M665.8 565.6h0M658.3 565.5h0M656.7 565.4h0M662.7 565.3h0M660.5 565.0h0M671.7 564.9h0M671.3 564.9h0M664.3 564.7h0M658.6 564.7h0M668.3 564.7h0M664.0 564.2h0M666.7 564.1h0M654.5 564.1h0M659.2 564.0h0M657.0 563.8h0M661.6 563.7h0M654.6 563.7h0M670.1 563.6h0M672.3 563.5h0M659.5 563.4h0M655.4 563.3h0M661.2 563.3h0M665.4 563.1h0M667.6 563.0h0M657.0 562.7h0M663.4 562.7h0M669.1 562.3h0M654.1 562.2h0M671.3 562.1h0M658.6 562.0h0M666.2 562.0h0M660.2 561.8h0M661.9 561.8h0M655.5 561.2h0M664.7 561.2h0M669.9 561.1h0M657.1 560.6h0M668.3 560.6h0M663.1 560.6h0M658.7 560.3h0M666.7 560.1h0M660.4 560.1h0M665.1 559.4h0M661.9 559.3h0M663.5 558.8h0M660.9 557.9h0M662.5 557.4h0M664.6 556.8h0M663.1 555.8h0M665.0 555.0h0M663.6 554.0h0M660.3 553.9h0M662.0 553.4h0M671.2 552.8h0M655.3 552.8h0M669.5 552.6h0M664.9 552.6h0M663.3 552.3h0M656.8 552.0h0M668.1 551.7h0M658.4 551.5h0M666.5 551.5h0M660.1 551.4h0M661.8 551.4h0M664.9 550.7h0M663.2 550.4h0M661.9 549.4h0M664.7 548.7h0M656.8 548.5h0M663.1 548.1h0M670.1 547.9h0M668.4 547.8h0M658.3 547.6h0M666.4 547.4h0M659.9 547.1h0M661.6 547.1h0M664.8 546.9h0M656.8 546.4h0M663.1 546.3h0M668.0 546.1h0M658.3 545.7h0M666.4 545.5h0M660.0 545.4h0M661.7 545.4h0M664.8 544.9h0M670.0 544.6h0M663.1 544.5h0M657.3 544.0h0M659.0 543.9h0M666.9 543.8h0M660.7 543.8h0M669.0 543.2h0M665.4 543.0h0M662.1 542.9h0M654.8 542.6h0M663.8 542.5h0M671.5 542.4h0M656.5 542.2h0M669.8 542.0h0M658.2 542.0h0M668.1 542.0h0M659.8 541.6h0M666.5 541.5h0M661.5 541.1h0M664.8 540.9h0M663.1 540.9h0M664.4 537.4h0M663.1 536.2h0M664.4 534.5h0M663.1 533.4h0M663.1 531.2h0M665.1 529.1h0M662.6 528.3h0M664.2 527.7h0M663.1 526.3h0M663.1 523.5h0M663.1 521.8h0M663.1 518.2h0M661.9 516.4h0M664.5 516.3h0M663.1 515.3h0" stroke="#f06a40" stroke-width="1.70" stroke-linecap="round" fill="none"/>
<rect x="653.7" y="560.0" width="18.9" height="22.1" fill="rgba(70,70,70,0.5)"/>
<path d="M663.1 555.8V561.5M663.1 580.7V580.6M658.1 555.8h10M658.1 580.7h10" stroke="#000" stroke-width="1.6" fill="none"/>
<path d="M653.7 569.6h18.9" stroke="#000" stroke-width="1.6" fill="none"/>
<text x="663.1" y="516.8" font-size="11" text-anchor="middle" textLength="16" lengthAdjust="spacingAndGlyphs" fill="#222">****</text>
<path d="M631.0 552.2H673.5" stroke="#111" stroke-width="1.5" stroke-dasharray="5,2.5" fill="none"/>
<rect x="609.4" y="486.9" width="64.5" height="122.7" fill="none" stroke="#666" stroke-width="1.2"/>
<path d="M606.4 609.6H609.4" stroke="#444" stroke-width="1"/>
<text x="605.2" y="613.2" font-size="10" text-anchor="end" fill="#222">0.02</text>
<path d="M606.4 579.0H609.4" stroke="#444" stroke-width="1"/>
<text x="605.2" y="582.6" font-size="10" text-anchor="end" fill="#222">0.04</text>
<path d="M606.4 548.5H609.4" stroke="#444" stroke-width="1"/>
<text x="605.2" y="552.1" font-size="10" text-anchor="end" fill="#222">0.06</text>
<path d="M606.4 518.0H609.4" stroke="#444" stroke-width="1"/>
<text x="605.2" y="521.6" font-size="10" text-anchor="end" fill="#222">0.08</text>
<path d="M606.4 487.4H609.4" stroke="#444" stroke-width="1"/>
<text x="605.2" y="491.0" font-size="10" text-anchor="end" fill="#222">0.10</text>
<path d="M620.1 609.6v3" stroke="#444" stroke-width="1"/>
<path d="M641.6 609.6v3" stroke="#444" stroke-width="1"/>
<path d="M663.1 609.6v3" stroke="#444" stroke-width="1"/>
<text x="641.9" y="481.9" font-size="10.8" text-anchor="middle" fill="#222">BPH-1</text>
<text x="619.6" y="620.6" font-size="9.3" text-anchor="end" fill="#222" transform="rotate(-45 619.6 620.6)">siCTR</text>
<text x="641.1" y="620.6" font-size="9.3" text-anchor="end" fill="#222" transform="rotate(-45 641.1 620.6)">siBCAT1</text>
<text x="662.6" y="620.6" font-size="9.3" text-anchor="end" fill="#222" transform="rotate(-45 662.6 620.6)">siBCAT2</text>
<path d="M619.1 495.2V489.1H664.1V508.5" fill="none" stroke="#333" stroke-width="1.1"/>
<path d="M619.1 501.7V498H642.4V500.4" fill="none" stroke="#333" stroke-width="1.1"/>
<defs>
<filter id="tex" x="0" y="0" width="1" height="1" color-interpolation-filters="sRGB">
<feTurbulence type="fractalNoise" baseFrequency="0.22" numOctaves="2" seed="3" result="d"/>
<feDisplacementMap in="SourceGraphic" in2="d" scale="3.2" xChannelSelector="R" yChannelSelector="G" result="sg"/>
<feTurbulence type="fractalNoise" baseFrequency="0.8" numOctaves="1" seed="7" result="n"/>
<feColorMatrix in="n" type="matrix" values="0.55 0 0 0 0.68  0.55 0 0 0 0.68  0.55 0 0 0 0.68  0 0 0 0 1" result="n2"/>
<feBlend in="sg" in2="n2" mode="multiply"/>
</filter>
<filter id="tex2" x="-5%" y="-5%" width="110%" height="110%" color-interpolation-filters="sRGB">
<feTurbulence type="fractalNoise" baseFrequency="0.6" numOctaves="1" seed="11" result="n"/>
<feColorMatrix in="n" type="matrix" values="0 0 0 0 1  0 0 0 0 1  0 0 0 0 1  0.5 0 0 0 0.72" result="n2"/>
<feComposite in="SourceGraphic" in2="n2" operator="in"/>
</filter>
<clipPath id="cp00"><rect x="28" y="543" width="103.4" height="103.0"/></clipPath>
<clipPath id="cp01"><rect x="135.2" y="543" width="103.2" height="103.0"/></clipPath>
<clipPath id="cp02"><rect x="242.5" y="543" width="98.1" height="103.0"/></clipPath>
<clipPath id="cp03"><rect x="344.8" y="543" width="98.2" height="103.0"/></clipPath>
<clipPath id="cp10"><rect x="28" y="650.8" width="103.4" height="103.0"/></clipPath>
<clipPath id="cp11"><rect x="135.2" y="650.8" width="103.2" height="103.0"/></clipPath>
<clipPath id="cp12"><rect x="242.5" y="650.8" width="98.1" height="103.0"/></clipPath>
<clipPath id="cp13"><rect x="344.8" y="650.8" width="98.2" height="103.0"/></clipPath>
<clipPath id="cp20"><rect x="28" y="759.2" width="103.4" height="102.8"/></clipPath>
<clipPath id="cp21"><rect x="135.2" y="759.2" width="103.2" height="102.8"/></clipPath>
<clipPath id="cp22"><rect x="242.5" y="759.2" width="98.1" height="102.8"/></clipPath>
<clipPath id="cp23"><rect x="344.8" y="759.2" width="98.2" height="102.8"/></clipPath>
</defs>
<g clip-path="url(#cp00)"><g filter="url(#tex)"><rect x="24" y="539" width="111.4" height="111.0" fill="#060606"/>
<ellipse cx="57.0" cy="564.0" rx="22" ry="14" transform="rotate(-32 57.0 564.0)" fill="#c8c83e" opacity="0.9" filter="url(#fy)"/>
<ellipse cx="40.8" cy="568.0" rx="7" ry="14" transform="rotate(10 40.8 568.0)" fill="#f2f444" opacity="1" filter="url(#fy)"/>
<ellipse cx="77.6" cy="558.0" rx="6" ry="8" transform="rotate(0 77.6 558.0)" fill="#f2f444" opacity="1" filter="url(#fy)"/>
<ellipse cx="54.0" cy="579.0" rx="12" ry="5" transform="rotate(-20 54.0 579.0)" fill="#f2f444" opacity="0.9" filter="url(#fy)"/>
<ellipse cx="94.2" cy="576.8" rx="9" ry="10" transform="rotate(0 94.2 576.8)" fill="#f2f444" opacity="1" filter="url(#fy)"/>
<ellipse cx="55.8" cy="593.4" rx="9" ry="7" transform="rotate(0 55.8 593.4)" fill="#f2f444" opacity="1" filter="url(#fy)"/>
<ellipse cx="92.7" cy="598.6" rx="9" ry="8" transform="rotate(0 92.7 598.6)" fill="#f2f444" opacity="1" filter="url(#fy)"/>
<ellipse cx="122.0" cy="595.0" rx="4" ry="8" transform="rotate(0 122.0 595.0)" fill="#c8c83e" opacity="0.8" filter="url(#fy)"/>
<ellipse cx="83.0" cy="619.0" rx="15" ry="9" transform="rotate(-60 83.0 619.0)" fill="#9c9c30" opacity="0.6" filter="url(#fy)"/>
</g><g filter="url(#tex2)">
<ellipse cx="57.5" cy="562.5" rx="18.5" ry="11.5" transform="rotate(-32 57.5 562.5)" fill="#4352c4" filter="url(#fb)"/>
<ellipse cx="78.0" cy="585.0" rx="17.5" ry="15.5" transform="rotate(-20 78.0 585.0)" fill="#4352c4" filter="url(#fb)"/>
<ellipse cx="111.5" cy="596.4" rx="13" ry="10.5" transform="rotate(12 111.5 596.4)" fill="#4352c4" filter="url(#fb)"/>
<ellipse cx="80.6" cy="620.0" rx="15" ry="8.8" transform="rotate(-60 80.6 620.0)" fill="#4352c4" filter="url(#fb)"/>
</g></g>
<g clip-path="url(#cp01)"><g filter="url(#tex)"><rect x="131.2" y="539" width="111.2" height="111.0" fill="#050505"/>
<ellipse cx="218.7" cy="561.0" rx="24" ry="11" transform="rotate(-40 218.7 561.0)" fill="#d8d846" opacity="0.95" filter="url(#fy)"/>
<ellipse cx="201.2" cy="575.0" rx="8" ry="7" transform="rotate(0 201.2 575.0)" fill="#f2f444" opacity="1" filter="url(#fy)"/>
<ellipse cx="181.8" cy="591.0" rx="20" ry="11.5" transform="rotate(-65 181.8 591.0)" fill="#fafa5a" opacity="1" filter="url(#fy)"/>
<ellipse cx="168.2" cy="611.0" rx="5" ry="4" transform="rotate(-45 168.2 611.0)" fill="#c8c83e" opacity="0.9" filter="url(#fy)"/>
<ellipse cx="145.7" cy="591.0" rx="9.5" ry="10" transform="rotate(0 145.7 591.0)" fill="#f2f444" opacity="1" filter="url(#fy)"/>
<ellipse cx="163.8" cy="624.0" rx="19" ry="9" transform="rotate(25 163.8 624.0)" fill="#f2f444" opacity="0.95" filter="url(#fy)"/>
<ellipse cx="205.9" cy="621.0" rx="15" ry="15" transform="rotate(0 205.9 621.0)" fill="#a8a838" opacity="0.95" filter="url(#fy)"/>
</g><g filter="url(#tex2)">
<ellipse cx="220.7" cy="564.0" rx="14.5" ry="9" transform="rotate(-40 220.7 564.0)" fill="#4352c4" filter="url(#fb)"/>
<ellipse cx="213.2" cy="562.0" rx="10" ry="3" transform="rotate(-30 213.2 562.0)" fill="#d8d846" opacity="0.8" filter="url(#fb)"/>
<ellipse cx="186.2" cy="577.0" rx="7" ry="5" transform="rotate(-30 186.2 577.0)" fill="#4352c4" filter="url(#fb)"/>
<ellipse cx="178.8" cy="604.6" rx="7" ry="4.5" transform="rotate(-20 178.8 604.6)" fill="#4352c4" filter="url(#fb)"/>
<ellipse cx="143.2" cy="593.0" rx="6.5" ry="9.5" transform="rotate(0 143.2 593.0)" fill="#4352c4" filter="url(#fb)"/>
<ellipse cx="147.2" cy="589.0" rx="4.5" ry="4" transform="rotate(0 147.2 589.0)" fill="#fafa5a" opacity="1" filter="url(#fb)"/>
<ellipse cx="175.0" cy="628.7" rx="7.5" ry="8.5" transform="rotate(0 175.0 628.7)" fill="#4352c4" filter="url(#fb)"/>
<ellipse cx="201.2" cy="622.7" rx="10" ry="8.5" transform="rotate(-35 201.2 622.7)" fill="#4a50a8" filter="url(#fb)"/>
</g></g>
<g clip-path="url(#cp02)"><g filter="url(#tex)"><rect x="238.5" y="539" width="106.1" height="111.0" fill="#0c0c06"/>
<ellipse cx="260.0" cy="567.0" rx="16" ry="18" transform="rotate(0 260.0 567.0)" fill="#c8c83e" opacity="0.95" filter="url(#fy)"/>
<ellipse cx="299.5" cy="565.0" rx="24" ry="15" transform="rotate(20 299.5 565.0)" fill="#9c9c30" opacity="0.95" filter="url(#fy)"/>
<ellipse cx="274.5" cy="596.7" rx="16" ry="15" transform="rotate(0 274.5 596.7)" fill="#c8c83e" opacity="0.95" filter="url(#fy)"/>
<ellipse cx="322.1" cy="585.3" rx="17.5" ry="15" transform="rotate(30 322.1 585.3)" fill="#c8c83e" opacity="0.95" filter="url(#fy)"/>
<ellipse cx="303.8" cy="609.4" rx="14" ry="12" transform="rotate(0 303.8 609.4)" fill="#c8c83e" opacity="0.95" filter="url(#fy)"/>
<ellipse cx="286.3" cy="628.0" rx="40" ry="15" transform="rotate(15 286.3 628.0)" fill="#c8c83e" opacity="0.95" filter="url(#fy)"/>
<ellipse cx="265.1" cy="568.5" rx="5" ry="7" transform="rotate(0 265.1 568.5)" fill="#fafa5a" opacity="1" filter="url(#fy)"/>
<ellipse cx="300.9" cy="567.0" rx="5" ry="5" transform="rotate(0 300.9 567.0)" fill="#f2f444" opacity="1" filter="url(#fy)"/>
<ellipse cx="277.5" cy="588.3" rx="6" ry="5" transform="rotate(0 277.5 588.3)" fill="#fafa5a" opacity="1" filter="url(#fy)"/>
<ellipse cx="305.3" cy="608.0" rx="6" ry="6" transform="rotate(0 305.3 608.0)" fill="#f2f444" opacity="1" filter="url(#fy)"/>
<ellipse cx="295.1" cy="632.0" rx="9" ry="7" transform="rotate(0 295.1 632.0)" fill="#f2f444" opacity="1" filter="url(#fy)"/>
</g><g filter="url(#tex2)">
<ellipse cx="254.9" cy="563.4" rx="9.5" ry="13.5" transform="rotate(-10 254.9 563.4)" fill="#4352c4" filter="url(#fb)"/>
<ellipse cx="274.5" cy="600.0" rx="11.5" ry="9.5" transform="rotate(0 274.5 600.0)" fill="#4352c4" filter="url(#fb)"/>
<ellipse cx="296.5" cy="590.4" rx="10" ry="14" transform="rotate(-25 296.5 590.4)" fill="#4352c4" filter="url(#fb)"/>
<ellipse cx="322.1" cy="585.3" rx="15" ry="12.3" transform="rotate(30 322.1 585.3)" fill="#4352c4" filter="url(#fb)"/>
<ellipse cx="268.8" cy="622.6" rx="16" ry="10.5" transform="rotate(10 268.8 622.6)" fill="#4352c4" filter="url(#fb)"/>
</g></g>
<g clip-path="url(#cp03)"><g filter="url(#tex)"><rect x="340.8" y="539" width="106.2" height="111.0" fill="#5a5a1c"/>
<ellipse cx="399.8" cy="586.0" rx="14" ry="16" transform="rotate(0 399.8 586.0)" fill="#262608" opacity="0.9" filter="url(#fy2)"/>
<ellipse cx="369.8" cy="568.0" rx="24" ry="24" transform="rotate(0 369.8 568.0)" fill="#7c7c28" opacity="0.9" filter="url(#fy2)"/>
<ellipse cx="362.8" cy="628.0" rx="22" ry="16" transform="rotate(0 362.8 628.0)" fill="#868626" opacity="0.9" filter="url(#fy2)"/>
<ellipse cx="429.8" cy="563.0" rx="16" ry="16" transform="rotate(0 429.8 563.0)" fill="#383810" opacity="0.8" filter="url(#fy2)"/>
<ellipse cx="419.8" cy="618.0" rx="22" ry="18" transform="rotate(0 419.8 618.0)" fill="#5c5c1c" opacity="0.8" filter="url(#fy2)"/>
<ellipse cx="379.1" cy="573.0" rx="5" ry="10" transform="rotate(35 379.1 573.0)" fill="#f2f444" opacity="0.95" filter="url(#fy)"/>
<ellipse cx="421.8" cy="620.0" rx="8" ry="6" transform="rotate(0 421.8 620.0)" fill="#f2f444" opacity="0.95" filter="url(#fy)"/>
<ellipse cx="408.8" cy="600.0" rx="3" ry="3" transform="rotate(0 408.8 600.0)" fill="#f2f444" opacity="0.9" filter="url(#fy)"/>
<ellipse cx="356.3" cy="631.0" rx="8" ry="4" transform="rotate(0 356.3 631.0)" fill="#f2f444" opacity="0.8" filter="url(#fy)"/>
</g><g filter="url(#tex2)">
<ellipse cx="371.3" cy="567.5" rx="16.5" ry="16" transform="rotate(0 371.3 567.5)" fill="#363e8e" filter="url(#fb)"/>
<ellipse cx="383.8" cy="577.0" rx="3.5" ry="8" transform="rotate(35 383.8 577.0)" fill="#f2f444" opacity="0.8" filter="url(#fy)"/>
<ellipse cx="404.8" cy="614.0" rx="10" ry="13" transform="rotate(0 404.8 614.0)" fill="#384094" filter="url(#fb)"/>
<ellipse cx="423.8" cy="602.0" rx="11.5" ry="13" transform="rotate(0 423.8 602.0)" fill="#384094" filter="url(#fb)"/>
<ellipse cx="436.8" cy="610.0" rx="8" ry="12" transform="rotate(0 436.8 610.0)" fill="#384094" filter="url(#fb)"/>
<ellipse cx="352.8" cy="644.0" rx="10" ry="8" transform="rotate(0 352.8 644.0)" fill="#363e8e" filter="url(#fb)"/>
<ellipse cx="385.8" cy="644.0" rx="11" ry="6" transform="rotate(0 385.8 644.0)" fill="#384094" filter="url(#fb)"/>
</g></g>
<g clip-path="url(#cp10)"><g filter="url(#tex)"><rect x="24" y="646.8" width="111.4" height="111.0" fill="#05050c"/>
<ellipse cx="77.6" cy="663.6" rx="9" ry="6" transform="rotate(0 77.6 663.6)" fill="#acac36" opacity="0.95" filter="url(#fy)"/>
<ellipse cx="34.8" cy="703.4" rx="5" ry="3" transform="rotate(0 34.8 703.4)" fill="#acac36" opacity="0.8" filter="url(#fy)"/>
<ellipse cx="62.6" cy="723.0" rx="8" ry="8" transform="rotate(0 62.6 723.0)" fill="#acac36" opacity="0.95" filter="url(#fy)"/>
<ellipse cx="103.2" cy="706.4" rx="11" ry="11" transform="rotate(0 103.2 706.4)" fill="#acac36" opacity="0.95" filter="url(#fy)"/>
<ellipse cx="90.4" cy="735.0" rx="5" ry="13" transform="rotate(0 90.4 735.0)" fill="#9c9c30" opacity="0.9" filter="url(#fy)"/>
</g><g filter="url(#tex2)">
<ellipse cx="66.8" cy="675.6" rx="12.5" ry="11" transform="rotate(0 66.8 675.6)" fill="#3e4ab8" filter="url(#fb)"/>
<ellipse cx="53.3" cy="708.2" rx="15.5" ry="9.5" transform="rotate(0 53.3 708.2)" fill="#3e4ab8" filter="url(#fb)"/>
<ellipse cx="85.1" cy="708.7" rx="9" ry="16.5" transform="rotate(0 85.1 708.7)" fill="#3e4ab8" filter="url(#fb)"/>
<ellipse cx="107.4" cy="732.8" rx="12.5" ry="14" transform="rotate(0 107.4 732.8)" fill="#3e4ab8" filter="url(#fb)"/>
<ellipse cx="129.5" cy="671.8" rx="7" ry="10" transform="rotate(0 129.5 671.8)" fill="#384094" filter="url(#fb)"/>
</g></g>
<g clip-path="url(#cp11)"><g filter="url(#tex)"><rect x="131.2" y="646.8" width="111.2" height="111.0" fill="#040404"/>
<ellipse cx="142.2" cy="652.8" rx="12" ry="6" transform="rotate(0 142.2 652.8)" fill="#f2f444" opacity="1" filter="url(#fy)"/>
<ellipse cx="145.7" cy="676.4" rx="10" ry="10" transform="rotate(0 145.7 676.4)" fill="#f2f444" opacity="1" filter="url(#fy)"/>
<ellipse cx="155.2" cy="666.8" rx="4" ry="3" transform="rotate(-40 155.2 666.8)" fill="#c8c83e" opacity="0.9" filter="url(#fy)"/>
<ellipse cx="187.8" cy="674.8" rx="14" ry="15" transform="rotate(0 187.8 674.8)" fill="#70702a" opacity="0.9" filter="url(#fy)"/>
<ellipse cx="169.2" cy="719.8" rx="12" ry="13" transform="rotate(0 169.2 719.8)" fill="#a0a03a" opacity="0.95" filter="url(#fy)"/>
<ellipse cx="229.2" cy="682.8" rx="5" ry="9" transform="rotate(0 229.2 682.8)" fill="#4a4a1c" opacity="0.8" filter="url(#fy)"/>
<ellipse cx="155.2" cy="750.8" rx="12" ry="5" transform="rotate(0 155.2 750.8)" fill="#4a4a1c" opacity="0.8" filter="url(#fy)"/>
</g><g filter="url(#tex2)">
<ellipse cx="186.6" cy="670.6" rx="11.5" ry="13" transform="rotate(0 186.6 670.6)" fill="#384094" filter="url(#fb)"/>
<ellipse cx="144.5" cy="679.7" rx="8" ry="6.5" transform="rotate(0 144.5 679.7)" fill="#4352c4" filter="url(#fb)"/>
<ellipse cx="220.2" cy="695.6" rx="9" ry="13.5" transform="rotate(20 220.2 695.6)" fill="#384094" filter="url(#fb)"/>
<ellipse cx="180.3" cy="721.5" rx="9.5" ry="12.5" transform="rotate(0 180.3 721.5)" fill="#384094" filter="url(#fb)"/>
<ellipse cx="217.2" cy="744.8" rx="11" ry="9" transform="rotate(0 217.2 744.8)" fill="#384094" filter="url(#fb)"/>
<ellipse cx="152.5" cy="751.8" rx="9" ry="5" transform="rotate(0 152.5 751.8)" fill="#384094" filter="url(#fb)"/>
</g></g>
<g clip-path="url(#cp12)"><g filter="url(#tex)"><rect x="238.5" y="646.8" width="106.1" height="111.0" fill="#101006"/>
<ellipse cx="287.5" cy="698.8" rx="52" ry="38" transform="rotate(0 287.5 698.8)" fill="#bcbc3c" opacity="0.95" filter="url(#fy2)"/>
<ellipse cx="272.5" cy="655.8" rx="22" ry="8" transform="rotate(0 272.5 655.8)" fill="#bcbc3c" opacity="0.9" filter="url(#fy)"/>
<ellipse cx="252.7" cy="710.8" rx="10" ry="10" transform="rotate(0 252.7 710.8)" fill="#fafa5a" opacity="1" filter="url(#fy)"/>
<ellipse cx="287.8" cy="726.8" rx="8" ry="7" transform="rotate(0 287.8 726.8)" fill="#fafa5a" opacity="1" filter="url(#fy)"/>
<ellipse cx="328.5" cy="690.8" rx="9" ry="9" transform="rotate(0 328.5 690.8)" fill="#f2f444" opacity="1" filter="url(#fy)"/>
<ellipse cx="327.5" cy="658.8" rx="18" ry="14" transform="rotate(0 327.5 658.8)" fill="#0a0a04" opacity="0.9" filter="url(#fy2)"/>
<ellipse cx="267.5" cy="748.8" rx="28" ry="8" transform="rotate(0 267.5 748.8)" fill="#0a0a04" opacity="0.9" filter="url(#fy2)"/>
<ellipse cx="244.5" cy="685.8" rx="4" ry="14" transform="rotate(0 244.5 685.8)" fill="#0a0a04" opacity="0.7" filter="url(#fy)"/>
</g><g filter="url(#tex2)">
<ellipse cx="292.9" cy="681.2" rx="16.8" ry="10" transform="rotate(0 292.9 681.2)" fill="#4352c4" filter="url(#fb)"/>
<ellipse cx="306.3" cy="694.9" rx="12.8" ry="11.3" transform="rotate(0 306.3 694.9)" fill="#4352c4" filter="url(#fb)"/>
<ellipse cx="261.2" cy="715.3" rx="12.7" ry="12.7" transform="rotate(0 261.2 715.3)" fill="#4352c4" filter="url(#fb)"/>
<ellipse cx="307.0" cy="717.2" rx="14.2" ry="10" transform="rotate(-15 307.0 717.2)" fill="#4352c4" filter="url(#fb)"/>
<ellipse cx="315.8" cy="740.8" rx="11.3" ry="14.3" transform="rotate(0 315.8 740.8)" fill="#4352c4" filter="url(#fb)"/>
<ellipse cx="338.5" cy="732.6" rx="6" ry="9" transform="rotate(0 338.5 732.6)" fill="#4352c4" filter="url(#fb)"/>
</g></g>
<g clip-path="url(#cp13)"><g filter="url(#tex)"><rect x="340.8" y="646.8" width="106.2" height="111.0" fill="#38380e"/>
<ellipse cx="374.8" cy="690.8" rx="30" ry="40" transform="rotate(0 374.8 690.8)" fill="#68681e" opacity="0.9" filter="url(#fy2)"/>
<ellipse cx="434.8" cy="710.8" rx="14" ry="30" transform="rotate(0 434.8 710.8)" fill="#1e1e06" opacity="0.7" filter="url(#fy2)"/>
<ellipse cx="372.0" cy="679.4" rx="15" ry="13" transform="rotate(0 372.0 679.4)" fill="#c4c43a" opacity="0.95" filter="url(#fy)"/>
<ellipse cx="422.1" cy="669.4" rx="17" ry="19" transform="rotate(0 422.1 669.4)" fill="#d4d43a" opacity="0.95" filter="url(#fy)"/>
<ellipse cx="356.2" cy="713.8" rx="10" ry="14" transform="rotate(0 356.2 713.8)" fill="#80802a" opacity="0.95" filter="url(#fy)"/>
<ellipse cx="377.0" cy="743.8" rx="15" ry="10" transform="rotate(0 377.0 743.8)" fill="#cccc3a" opacity="0.95" filter="url(#fy)"/>
</g><g filter="url(#tex2)">
<ellipse cx="421.6" cy="670.8" rx="12.5" ry="15" transform="rotate(0 421.6 670.8)" fill="#363e8e" filter="url(#fb)"/>
<ellipse cx="383.4" cy="692.6" rx="12.2" ry="11" transform="rotate(0 383.4 692.6)" fill="#363e8e" filter="url(#fb)"/>
<ellipse cx="378.0" cy="714.8" rx="14" ry="10.4" transform="rotate(0 378.0 714.8)" fill="#363e8e" filter="url(#fb)"/>
<ellipse cx="373.8" cy="752.8" rx="6" ry="3" transform="rotate(0 373.8 752.8)" fill="#384094" filter="url(#fb)"/>
</g></g>
<g clip-path="url(#cp20)"><g filter="url(#tex)"><rect x="24" y="755.2" width="111.4" height="110.8" fill="#050505"/>
<ellipse cx="111.5" cy="765.2" rx="14" ry="9" transform="rotate(0 111.5 765.2)" fill="#f2f444" opacity="1" filter="url(#fy)"/>
<ellipse cx="121.0" cy="781.2" rx="5" ry="10" transform="rotate(-30 121.0 781.2)" fill="#c8c83e" opacity="0.8" filter="url(#fy)"/>
<ellipse cx="49.0" cy="784.8" rx="17" ry="22" transform="rotate(0 49.0 784.8)" fill="#f2f444" opacity="1" filter="url(#fy)"/>
<ellipse cx="59.6" cy="829.9" rx="30" ry="19" transform="rotate(30 59.6 829.9)" fill="#f2f444" opacity="1" filter="url(#fy)"/>
<ellipse cx="113.7" cy="808.8" rx="17" ry="12" transform="rotate(0 113.7 808.8)" fill="#f2f444" opacity="1" filter="url(#fy)"/>
<ellipse cx="118.2" cy="840.4" rx="14" ry="18" transform="rotate(0 118.2 840.4)" fill="#f2f444" opacity="1" filter="url(#fy)"/>
<ellipse cx="31.0" cy="767.2" rx="5" ry="10" transform="rotate(0 31.0 767.2)" fill="#5e5e1e" opacity="0.8" filter="url(#fy)"/>
</g><g filter="url(#tex2)">
<ellipse cx="64.8" cy="778.0" rx="10" ry="10" transform="rotate(-30 64.8 778.0)" fill="#4352c4" filter="url(#fb)"/>
<ellipse cx="39.7" cy="795.6" rx="7.5" ry="11.7" transform="rotate(0 39.7 795.6)" fill="#4352c4" filter="url(#fb)"/>
<ellipse cx="67.4" cy="821.2" rx="12.5" ry="7" transform="rotate(15 67.4 821.2)" fill="#4352c4" filter="url(#fb)"/>
<ellipse cx="68.9" cy="837.4" rx="14" ry="9" transform="rotate(20 68.9 837.4)" fill="#4352c4" filter="url(#fb)"/>
<ellipse cx="118.0" cy="813.6" rx="12.5" ry="7.5" transform="rotate(0 118.0 813.6)" fill="#4352c4" filter="url(#fb)"/>
<ellipse cx="115.5" cy="846.7" rx="11.5" ry="8.7" transform="rotate(0 115.5 846.7)" fill="#4352c4" filter="url(#fb)"/>
<ellipse cx="29.8" cy="826.9" rx="3" ry="6" transform="rotate(0 29.8 826.9)" fill="#4352c4" filter="url(#fb)"/>
</g></g>
<g clip-path="url(#cp21)"><g filter="url(#tex)"><rect x="131.2" y="755.2" width="111.2" height="110.8" fill="#040404"/>
<ellipse cx="207.7" cy="766.0" rx="13" ry="8" transform="rotate(0 207.7 766.0)" fill="#f2f444" opacity="0.95" filter="url(#fy)"/>
<ellipse cx="172.0" cy="786.0" rx="16" ry="14" transform="rotate(0 172.0 786.0)" fill="#cccc40" opacity="0.95" filter="url(#fy)"/>
<ellipse cx="171.3" cy="810.0" rx="14" ry="11" transform="rotate(0 171.3 810.0)" fill="#f2f444" opacity="1" filter="url(#fy)"/>
<ellipse cx="211.9" cy="814.8" rx="12" ry="17" transform="rotate(15 211.9 814.8)" fill="#f2f444" opacity="1" filter="url(#fy)"/>
<ellipse cx="150.5" cy="835.9" rx="9.5" ry="10.5" transform="rotate(0 150.5 835.9)" fill="#f2f444" opacity="1" filter="url(#fy)"/>
<ellipse cx="186.6" cy="846.4" rx="12.5" ry="9" transform="rotate(0 186.6 846.4)" fill="#f2f444" opacity="1" filter="url(#fy)"/>
<ellipse cx="135.2" cy="771.2" rx="3" ry="5" transform="rotate(0 135.2 771.2)" fill="#c8c83e" opacity="0.9" filter="url(#fy)"/>
</g><g filter="url(#tex2)">
<ellipse cx="204.1" cy="766.0" rx="9" ry="7" transform="rotate(0 204.1 766.0)" fill="#4352c4" filter="url(#fb)"/>
<ellipse cx="169.8" cy="790.0" rx="12" ry="6" transform="rotate(15 169.8 790.0)" fill="#5a62b4" filter="url(#fb)"/>
<ellipse cx="164.1" cy="810.0" rx="7" ry="10" transform="rotate(0 164.1 810.0)" fill="#4352c4" filter="url(#fb)"/>
<ellipse cx="208.7" cy="816.2" rx="9" ry="9.5" transform="rotate(0 208.7 816.2)" fill="#4352c4" filter="url(#fb)"/>
<ellipse cx="150.2" cy="833.6" rx="8" ry="7.5" transform="rotate(0 150.2 833.6)" fill="#4352c4" filter="url(#fb)"/>
<ellipse cx="186.6" cy="847.2" rx="8.5" ry="6.8" transform="rotate(0 186.6 847.2)" fill="#4352c4" filter="url(#fb)"/>
</g></g>
<g clip-path="url(#cp22)"><g filter="url(#tex)"><rect x="238.5" y="755.2" width="106.1" height="110.8" fill="#1a1a08"/>
<ellipse cx="272.5" cy="814.2" rx="32" ry="38" transform="rotate(0 272.5 814.2)" fill="#dcdc3e" opacity="0.95" filter="url(#fy2)"/>
<ellipse cx="322.5" cy="801.2" rx="22" ry="28" transform="rotate(0 322.5 801.2)" fill="#d4d43c" opacity="0.95" filter="url(#fy2)"/>
<ellipse cx="264.4" cy="786.9" rx="8" ry="6" transform="rotate(0 264.4 786.9)" fill="#fafa5a" opacity="1" filter="url(#fy)"/>
<ellipse cx="248.3" cy="803.0" rx="6" ry="7" transform="rotate(0 248.3 803.0)" fill="#fafa5a" opacity="1" filter="url(#fy)"/>
<ellipse cx="258.5" cy="823.2" rx="8" ry="7" transform="rotate(0 258.5 823.2)" fill="#fafa5a" opacity="1" filter="url(#fy)"/>
<ellipse cx="249.8" cy="838.0" rx="6" ry="7" transform="rotate(0 249.8 838.0)" fill="#fafa5a" opacity="1" filter="url(#fy)"/>
<ellipse cx="321.3" cy="794.2" rx="7" ry="7" transform="rotate(0 321.3 794.2)" fill="#fafa5a" opacity="1" filter="url(#fy)"/>
<ellipse cx="321.3" cy="817.6" rx="7" ry="7" transform="rotate(0 321.3 817.6)" fill="#fafa5a" opacity="1" filter="url(#fy)"/>
<ellipse cx="297.5" cy="797.2" rx="6" ry="30" transform="rotate(-20 297.5 797.2)" fill="#1a1a08" opacity="0.8" filter="url(#fy)"/>
<ellipse cx="292.5" cy="859.2" rx="50" ry="6" transform="rotate(0 292.5 859.2)" fill="#1a1a08" opacity="0.8" filter="url(#fy)"/>
</g><g filter="url(#tex2)">
<ellipse cx="248.6" cy="770.2" rx="6" ry="8" transform="rotate(0 248.6 770.2)" fill="#4352c4" filter="url(#fb)"/>
<ellipse cx="274.3" cy="795.7" rx="14.2" ry="8" transform="rotate(0 274.3 795.7)" fill="#4352c4" filter="url(#fb)"/>
<ellipse cx="277.8" cy="813.9" rx="13.5" ry="9.5" transform="rotate(0 277.8 813.9)" fill="#4352c4" filter="url(#fb)"/>
<ellipse cx="284.8" cy="839.2" rx="16" ry="9" transform="rotate(0 284.8 839.2)" fill="#4352c4" filter="url(#fb)"/>
<ellipse cx="245.4" cy="822.7" rx="4" ry="6.5" transform="rotate(0 245.4 822.7)" fill="#4352c4" filter="url(#fb)"/>
<ellipse cx="333.7" cy="801.2" rx="9" ry="10.5" transform="rotate(0 333.7 801.2)" fill="#4352c4" filter="url(#fb)"/>
<ellipse cx="335.9" cy="773.8" rx="7.5" ry="10" transform="rotate(0 335.9 773.8)" fill="#4352c4" filter="url(#fb)"/>
</g></g>
<g clip-path="url(#cp23)"><g filter="url(#tex)"><rect x="340.8" y="755.2" width="106.2" height="110.8" fill="#5a5a1c"/>
<ellipse cx="374.8" cy="811.2" rx="40" ry="10" transform="rotate(0 374.8 811.2)" fill="#2c2c0c" opacity="0.8" filter="url(#fy2)"/>
<ellipse cx="404.8" cy="819.2" rx="20" ry="25" transform="rotate(0 404.8 819.2)" fill="#323210" opacity="0.8" filter="url(#fy2)"/>
<ellipse cx="430.6" cy="842.2" rx="7" ry="10" transform="rotate(0 430.6 842.2)" fill="#f2f444" opacity="0.95" filter="url(#fy)"/>
<ellipse cx="373.4" cy="797.8" rx="5" ry="5" transform="rotate(0 373.4 797.8)" fill="#c8c83a" opacity="0.9" filter="url(#fy)"/>
<ellipse cx="416.8" cy="781.2" rx="6" ry="10" transform="rotate(0 416.8 781.2)" fill="#8a8a2a" opacity="0.8" filter="url(#fy)"/>
<ellipse cx="346.8" cy="854.2" rx="4" ry="6" transform="rotate(0 346.8 854.2)" fill="#b0b034" opacity="0.9" filter="url(#fy)"/>
</g><g filter="url(#tex2)">
<ellipse cx="396.3" cy="785.0" rx="20" ry="17" transform="rotate(-10 396.3 785.0)" fill="#363e8e" filter="url(#fb)"/>
<ellipse cx="366.3" cy="843.2" rx="19.3" ry="16" transform="rotate(0 366.3 843.2)" fill="#363e8e" filter="url(#fb)"/>
<ellipse cx="417.0" cy="836.8" rx="14.3" ry="19.7" transform="rotate(0 417.0 836.8)" fill="#363e8e" filter="url(#fb)"/>
</g></g>
<text transform="translate(11.4 538) scale(1.45 1)" font-size="21.5" fill="#111">f</text>
<text x="51.7" y="535.9" font-size="17" textLength="54.3" lengthAdjust="spacingAndGlyphs">LNCaP</text>
<text x="170.6" y="535.9" font-size="17" textLength="32.6" lengthAdjust="spacingAndGlyphs">PC3</text>
<text x="265.9" y="535.9" font-size="17" textLength="48.7" lengthAdjust="spacingAndGlyphs">C4-2B</text>
<text x="370.4" y="535.9" font-size="17" textLength="49.3" lengthAdjust="spacingAndGlyphs">BPH-1</text>
<text x="24.4" y="599.0" font-size="17" text-anchor="middle" textLength="47" lengthAdjust="spacingAndGlyphs" transform="rotate(-90 24.4 599.0)">siCTR</text>
<text x="24.4" y="691.8" font-size="17" text-anchor="middle" textLength="78.7" lengthAdjust="spacingAndGlyphs" transform="rotate(-90 24.4 691.8)">siBCAT1</text>
<text x="24.4" y="802.4" font-size="17" text-anchor="middle" textLength="82.5" lengthAdjust="spacingAndGlyphs" transform="rotate(-90 24.4 802.4)">siBCAT2</text>
<text x="29.1" y="631.4" font-size="11" textLength="26.8" lengthAdjust="spacingAndGlyphs" fill="#2f8fd8">DAPI</text>
<text x="29.1" y="642.2" font-size="11" textLength="44.9" lengthAdjust="spacingAndGlyphs" fill="#e6e63a">Nile Red</text>
<rect x="101.5" y="634" width="28.0" height="2.6" fill="#fff"/>
<text x="105.3" y="644.5" font-size="8" textLength="20.7" lengthAdjust="spacingAndGlyphs" font-weight="bold" fill="#fff">20 µm</text>
<rect x="208.3" y="634" width="28.0" height="2.6" fill="#fff"/>
<text x="212.0" y="644.5" font-size="8" textLength="21" lengthAdjust="spacingAndGlyphs" font-weight="bold" fill="#fff">20 µm</text>
<rect x="309.2" y="631.8" width="30.8" height="2.6" fill="#fff"/>
<text x="313.0" y="642.8" font-size="8" textLength="23" lengthAdjust="spacingAndGlyphs" font-weight="bold" fill="#fff">20 µm</text>
<rect x="409.9" y="631.9" width="30.5" height="2.6" fill="#fff"/>
<text x="413.0" y="642.8" font-size="8" textLength="24.2" lengthAdjust="spacingAndGlyphs" font-weight="bold" fill="#fff">20 µm</text>
<text transform="translate(460.0 670.6) scale(1.08 1)" font-size="25" fill="#111">g</text>
<path d="M512.6 706.3V811.8M505 810.9H670.5" stroke="#000" stroke-width="1.9" fill="none"/>
<path d="M505.4 810.9H512.6" stroke="#000" stroke-width="1.9"/>
<text x="504.2" y="814.7" font-size="10.5" text-anchor="end" fill="#222">0</text>
<path d="M505.4 776.3H512.6" stroke="#000" stroke-width="1.9"/>
<text x="504.2" y="780.1" font-size="10.5" text-anchor="end" fill="#222">1</text>
<path d="M505.4 741.7H512.6" stroke="#000" stroke-width="1.9"/>
<text x="504.2" y="745.5" font-size="10.5" text-anchor="end" fill="#222">2</text>
<path d="M505.4 707.1H512.6" stroke="#000" stroke-width="1.9"/>
<text x="504.2" y="710.9" font-size="10.5" text-anchor="end" fill="#222">3</text>
<rect x="519.6" y="776.3" width="13.5" height="34.6" fill="#a3a3a3" stroke="#000" stroke-width="1.6"/>
<rect x="541" y="800.9" width="13.4" height="10.0" fill="#d064b6" stroke="#000" stroke-width="1.6"/>
<rect x="562.5" y="763.2" width="13.5" height="47.7" fill="#9a3b9f" stroke="#000" stroke-width="1.6"/>
<rect x="605.1" y="776.3" width="13.3" height="34.6" fill="#7b7e7b" stroke="#000" stroke-width="1.6"/>
<rect x="626.7" y="717.8" width="12.9" height="93.1" fill="#cc5fb8" stroke="#000" stroke-width="1.6"/>
<rect x="648" y="809.9" width="12.4" height="1.0" fill="#9a3b9f" stroke="#000" stroke-width="1.6"/>
<path d="M526.4 810.9V818.5" stroke="#000" stroke-width="1.9"/>
<path d="M547.4 810.9V818.5" stroke="#000" stroke-width="1.9"/>
<path d="M569 810.9V818.5" stroke="#000" stroke-width="1.9"/>
<path d="M611.1 810.9V818.5" stroke="#000" stroke-width="1.9"/>
<path d="M632.6 810.9V818.5" stroke="#000" stroke-width="1.9"/>
<path d="M653.9 810.9V818.5" stroke="#000" stroke-width="1.9"/>
<path d="M524.8 730.2H573.3M609.3 681.5H657" stroke="#000" stroke-width="2" fill="none"/>
<path d="M526.7 752V736.7H570.7V747.4" fill="none" stroke="#000" stroke-width="1.8"/>
<path d="M526.7 769.6V755.7H547V780.7" fill="none" stroke="#000" stroke-width="1.8"/>
<path d="M611.1 697V691.3H654.7V795.6" fill="none" stroke="#000" stroke-width="1.8"/>
<path d="M611.1 772.2V702.2H633.7V706.1" fill="none" stroke="#000" stroke-width="1.8"/>
<text x="531.3" y="723.3" font-size="13" textLength="39.8" lengthAdjust="spacingAndGlyphs">BCAT1</text>
<text x="613.2" y="675.0" font-size="13" textLength="40.7" lengthAdjust="spacingAndGlyphs">BCAT2</text>
<text x="547.5" y="792.5" font-size="10" text-anchor="middle" textLength="15" lengthAdjust="spacingAndGlyphs" fill="#333">****</text>
<text x="569.6" y="757.5" font-size="10" text-anchor="middle" textLength="15" lengthAdjust="spacingAndGlyphs" fill="#333">****</text>
<text x="633.7" y="718.0" font-size="10" text-anchor="middle" textLength="15" lengthAdjust="spacingAndGlyphs" fill="#333">****</text>
<text x="653.4" y="805.0" font-size="10" text-anchor="middle" textLength="15" lengthAdjust="spacingAndGlyphs" fill="#333">****</text>
<text x="488.7" y="755.0" font-size="10.8" text-anchor="middle" textLength="97" lengthAdjust="spacingAndGlyphs" fill="#222" transform="rotate(-90 488.7 755.0)">Rel. ΔΔCт to siCTR</text>
<text x="527.9" y="829.5" font-size="12.5" text-anchor="end" transform="rotate(-45 527.9 829.5)">siCTR</text>
<text x="548.9" y="829.5" font-size="12.5" text-anchor="end" transform="rotate(-45 548.9 829.5)">siBCAT1</text>
<text x="570.5" y="829.5" font-size="12.5" text-anchor="end" transform="rotate(-45 570.5 829.5)">siBCAT2</text>
<text x="612.6" y="829.5" font-size="12.5" text-anchor="end" transform="rotate(-45 612.6 829.5)">siCTR</text>
<text x="634.1" y="829.5" font-size="12.5" text-anchor="end" transform="rotate(-45 634.1 829.5)">siBCAT1</text>
<text x="655.4" y="829.5" font-size="12.5" text-anchor="end" transform="rotate(-45 655.4 829.5)">siBCAT2</text>
</svg></body></html>
